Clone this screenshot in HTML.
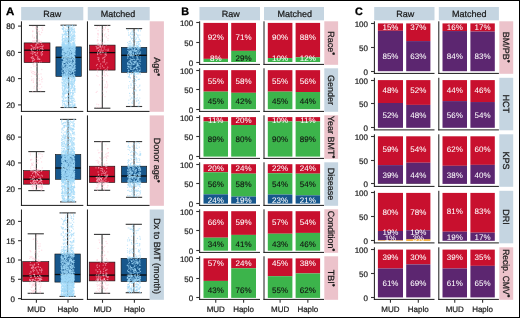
<!DOCTYPE html>
<html><head><meta charset="utf-8"><style>
html,body{margin:0;padding:0;background:#fff;}
svg{display:block;font-family:"Liberation Sans", sans-serif;will-change:transform;text-rendering:geometricPrecision;}
</style></head><body>
<svg width="520" height="318" viewBox="0 0 520 318">
<rect x="0.00" y="0.00" width="520.00" height="318.00" fill="#ffffff" />
<text x="5.90" y="14.80" font-size="10.8" text-anchor="start" fill="#000" font-weight="bold" stroke="#000" stroke-width="0.3" textLength="8.3" lengthAdjust="spacingAndGlyphs">A</text>
<text x="181.20" y="14.80" font-size="10.8" text-anchor="start" fill="#000" font-weight="bold" stroke="#000" stroke-width="0.3" >B</text>
<text x="355.00" y="14.80" font-size="10.8" text-anchor="start" fill="#000" font-weight="bold" stroke="#000" stroke-width="0.3" >C</text>
<rect x="21.15" y="7.00" width="62.15" height="13.30" fill="#c5d5e1" />
<rect x="87.75" y="7.00" width="61.95" height="13.30" fill="#c5d5e1" />
<text x="52.22" y="17.20" font-size="9" text-anchor="middle" fill="#1a1a1a" font-weight="normal" stroke="#1a1a1a" stroke-width="0.22" >Raw</text>
<text x="118.12" y="17.20" font-size="9" text-anchor="middle" fill="#1a1a1a" font-weight="normal" stroke="#1a1a1a" stroke-width="0.22" >Matched</text>
<line x1="21.45" y1="21.30" x2="21.45" y2="111.90" stroke="#1a1a1a" stroke-width="1.0" />
<line x1="18.05" y1="26.10" x2="21.45" y2="26.10" stroke="#333333" stroke-width="1.1" />
<text x="15.05" y="29.20" font-size="8" text-anchor="end" fill="#222" font-weight="normal" stroke="#222" stroke-width="0.22" >80</text>
<line x1="18.05" y1="52.40" x2="21.45" y2="52.40" stroke="#333333" stroke-width="1.1" />
<text x="15.05" y="55.50" font-size="8" text-anchor="end" fill="#222" font-weight="normal" stroke="#222" stroke-width="0.22" >60</text>
<line x1="18.05" y1="78.60" x2="21.45" y2="78.60" stroke="#333333" stroke-width="1.1" />
<text x="15.05" y="81.70" font-size="8" text-anchor="end" fill="#222" font-weight="normal" stroke="#222" stroke-width="0.22" >40</text>
<line x1="18.05" y1="104.90" x2="21.45" y2="104.90" stroke="#333333" stroke-width="1.1" />
<text x="15.05" y="108.00" font-size="8" text-anchor="end" fill="#222" font-weight="normal" stroke="#222" stroke-width="0.22" >20</text>
<line x1="87.45" y1="21.30" x2="87.45" y2="111.90" stroke="#1a1a1a" stroke-width="1.0" />
<line x1="20.95" y1="111.40" x2="83.30" y2="111.40" stroke="#1a1a1a" stroke-width="1.0" />
<line x1="86.95" y1="111.40" x2="149.70" y2="111.40" stroke="#1a1a1a" stroke-width="1.0" />
<line x1="37.05" y1="25.40" x2="37.05" y2="91.60" stroke="#363636" stroke-width="1.1" />
<line x1="28.95" y1="25.40" x2="45.15" y2="25.40" stroke="#363636" stroke-width="1.1" />
<line x1="28.95" y1="91.60" x2="45.15" y2="91.60" stroke="#363636" stroke-width="1.1" />
<rect x="24.10" y="42.90" width="25.90" height="19.70" fill="#c8102e" stroke="#111" stroke-width="0.6"/>
<line x1="24.10" y1="50.20" x2="50.00" y2="50.20" stroke="#0a0a0a" stroke-width="1.3" />
<line x1="68.60" y1="25.20" x2="68.60" y2="107.50" stroke="#363636" stroke-width="1.1" />
<line x1="60.50" y1="25.20" x2="76.70" y2="25.20" stroke="#363636" stroke-width="1.1" />
<line x1="60.50" y1="107.50" x2="76.70" y2="107.50" stroke="#363636" stroke-width="1.1" />
<rect x="55.90" y="46.90" width="25.40" height="29.50" fill="#17578c" stroke="#111" stroke-width="0.6"/>
<line x1="55.90" y1="57.40" x2="81.30" y2="57.40" stroke="#0a0a0a" stroke-width="1.3" />
<path d="M32.7 58.9h.01M41.1 53.9h.01M34.7 72.4h.01M38.1 59.4h.01M36.9 42.9h.01M39.1 31.5h.01M31.6 72.5h.01M35.3 54.4h.01M37.9 56.7h.01M38.7 74.3h.01M41.7 86.8h.01M35.1 74.5h.01M34.1 38.3h.01M37.3 63.1h.01M33.7 63.4h.01M33.1 51.3h.01M39.0 40.6h.01M33.8 60.5h.01M37.4 50.2h.01M37.3 58.8h.01M37.1 46.9h.01M32.6 31.6h.01M41.8 69.5h.01M39.8 59.2h.01M34.1 74.1h.01M31.6 76.3h.01M35.1 52.5h.01M34.6 59.5h.01M42.4 51.5h.01" stroke="#ffc4d3" stroke-opacity="0.6" stroke-width="1.3" stroke-linecap="round" fill="none"/>
<path d="M31.7 45.8h.01M33.6 71.7h.01M38.1 41.1h.01M34.6 52.5h.01M39.1 84.3h.01M39.5 80.7h.01M33.9 42.7h.01M32.7 36.8h.01M37.2 30.6h.01M31.7 80.4h.01M32.7 46.9h.01M41.1 61.9h.01M32.9 56.8h.01M31.2 57.4h.01M33.4 64.7h.01M40.8 42.2h.01M37.7 57.6h.01M34.1 47.7h.01M31.1 49.5h.01M40.6 48.6h.01M39.4 49.8h.01M36.3 71.9h.01M42.7 29.1h.01M37.7 87.9h.01M40.5 84.2h.01M36.1 44.7h.01M42.3 48.7h.01M37.1 42.8h.01M41.0 73.9h.01" stroke="#ffc4d3" stroke-opacity="0.6" stroke-width="1.3" stroke-linecap="round" fill="none"/>
<path d="M35.4 49.2h.01M42.6 46.5h.01M35.5 46.1h.01M33.9 42.0h.01M41.7 42.8h.01M43.2 45.9h.01M41.7 55.6h.01M33.7 66.2h.01M39.2 46.8h.01M32.9 64.0h.01M35.2 62.5h.01M31.1 67.6h.01M40.5 42.6h.01M34.3 86.3h.01M42.0 46.6h.01M35.8 28.6h.01M31.0 70.8h.01M32.5 54.2h.01M33.1 53.2h.01M37.8 73.9h.01M37.5 52.6h.01M33.8 78.8h.01M36.9 55.2h.01M31.1 53.2h.01M32.5 61.6h.01M42.5 78.8h.01M32.5 61.7h.01M35.2 66.1h.01" stroke="#ffc4d3" stroke-opacity="0.6" stroke-width="1.3" stroke-linecap="round" fill="none"/>
<path d="M37.1 81.1h.01M35.8 47.9h.01M31.6 48.8h.01M37.4 48.0h.01M39.5 59.4h.01M35.6 40.8h.01M36.4 77.6h.01M36.9 62.9h.01M42.0 81.8h.01M31.5 58.1h.01M32.4 56.9h.01M32.7 30.8h.01M33.6 58.6h.01M39.4 62.1h.01M38.9 39.8h.01M33.0 31.2h.01M37.4 28.7h.01M36.5 34.7h.01M40.8 90.8h.01M34.3 62.6h.01M42.5 51.3h.01M39.2 78.7h.01M32.9 26.6h.01M38.6 58.6h.01M42.2 54.1h.01M40.8 46.3h.01M33.8 49.4h.01M34.0 88.1h.01" stroke="#ffc4d3" stroke-opacity="0.6" stroke-width="1.3" stroke-linecap="round" fill="none"/>
<path d="M36.2 84.6h.01M41.5 28.1h.01M33.4 80.9h.01M34.4 37.5h.01M38.0 47.4h.01M31.1 45.3h.01M41.8 48.8h.01M34.1 47.6h.01M40.7 42.4h.01M32.7 91.6h.01M36.6 39.3h.01M31.2 48.9h.01M41.4 41.3h.01M42.5 30.3h.01M39.0 41.8h.01M32.7 71.3h.01M41.7 32.5h.01M42.1 47.8h.01M36.7 66.6h.01M37.8 42.6h.01M41.7 44.4h.01M32.8 42.3h.01M37.2 53.6h.01M31.6 49.8h.01M32.7 40.9h.01M41.5 77.1h.01M32.9 73.5h.01M39.9 88.6h.01" stroke="#ffc4d3" stroke-opacity="0.6" stroke-width="1.3" stroke-linecap="round" fill="none"/>
<path d="M32.0 79.2h.01M32.6 60.6h.01M36.2 44.9h.01M36.0 27.7h.01M41.3 52.4h.01M32.9 52.1h.01M34.3 40.9h.01M36.0 90.8h.01M35.8 55.5h.01M35.4 74.6h.01M31.9 51.0h.01M43.0 49.4h.01M40.0 41.5h.01M35.4 26.8h.01M40.2 34.7h.01M32.7 35.1h.01M34.0 40.6h.01M42.2 54.1h.01M37.8 43.6h.01M36.3 42.8h.01M37.8 31.7h.01M39.0 43.9h.01M33.3 58.2h.01M42.9 27.1h.01M39.5 33.9h.01M41.5 79.7h.01M33.4 82.4h.01M33.2 48.7h.01" stroke="#ffc4d3" stroke-opacity="0.6" stroke-width="1.3" stroke-linecap="round" fill="none"/>
<path d="M68.5 62.6h.01M63.7 98.5h.01M64.1 60.5h.01M68.6 59.3h.01M69.0 53.8h.01M72.7 47.6h.01M66.8 87.1h.01M70.7 55.9h.01M71.0 59.0h.01M70.9 75.0h.01M68.1 34.9h.01M73.7 57.0h.01M73.1 71.4h.01M66.8 53.7h.01M74.6 67.0h.01M74.2 99.3h.01M64.2 65.4h.01M65.2 92.9h.01M68.6 30.4h.01M71.4 102.0h.01M74.4 49.8h.01M65.3 87.8h.01M68.1 72.5h.01M67.5 50.1h.01M74.8 79.2h.01M74.5 50.5h.01M66.3 25.6h.01M66.6 74.1h.01M66.8 80.3h.01M65.5 31.9h.01M65.3 32.5h.01M64.6 46.5h.01M71.4 57.5h.01M71.7 67.1h.01M75.1 45.7h.01M73.4 67.1h.01M69.9 76.0h.01M67.2 91.4h.01M67.5 68.3h.01M64.1 60.4h.01M74.2 56.5h.01M72.9 52.3h.01M65.3 88.4h.01M67.5 72.1h.01M64.4 46.6h.01M72.3 47.6h.01M74.6 58.0h.01M65.5 36.9h.01M69.0 89.5h.01M66.8 54.2h.01M64.0 101.8h.01M66.7 90.7h.01M70.4 92.2h.01M65.3 47.6h.01M68.7 52.9h.01M68.1 47.1h.01M65.5 48.5h.01M71.8 76.9h.01M73.3 49.1h.01M74.3 90.7h.01M72.8 67.8h.01M65.8 44.9h.01M74.7 71.0h.01M72.8 42.5h.01M73.0 69.0h.01M72.4 49.1h.01M67.0 57.4h.01M67.8 82.8h.01M66.3 76.4h.01M64.6 62.3h.01M70.0 86.0h.01M70.5 43.3h.01M70.2 60.8h.01M63.3 34.3h.01M72.1 65.6h.01M65.5 68.6h.01M65.0 54.8h.01M67.0 75.1h.01M70.7 51.6h.01M65.3 50.8h.01M73.8 50.3h.01M62.8 57.9h.01M73.1 50.5h.01M68.4 57.0h.01M69.3 63.3h.01M69.7 72.7h.01M70.7 52.8h.01M64.4 46.8h.01M70.5 62.7h.01M68.3 34.7h.01M73.5 93.3h.01M63.1 47.8h.01M66.1 45.3h.01M70.5 67.8h.01M70.0 70.2h.01M67.6 75.4h.01M63.1 69.0h.01M68.1 46.9h.01M71.3 81.6h.01M69.9 84.3h.01M74.7 46.8h.01M69.9 38.0h.01M64.9 30.7h.01M70.9 46.9h.01M62.2 49.9h.01M70.3 35.8h.01M67.4 41.8h.01M64.8 50.3h.01M71.6 98.0h.01M74.0 62.3h.01M64.7 74.6h.01M73.1 69.9h.01M68.9 106.7h.01M68.8 32.4h.01M64.6 49.0h.01M65.7 57.4h.01M73.1 63.4h.01M68.8 43.6h.01M74.8 86.3h.01M65.3 36.3h.01M69.0 60.0h.01M69.5 52.8h.01M67.1 56.9h.01M62.9 84.0h.01M66.7 69.8h.01M73.5 87.9h.01M71.5 60.6h.01M69.6 85.6h.01M68.6 54.7h.01M68.9 50.0h.01M69.0 69.3h.01M65.8 84.3h.01M72.4 64.1h.01M69.0 51.2h.01M62.2 97.2h.01M73.8 98.4h.01M74.7 53.1h.01M64.3 76.6h.01M65.2 44.9h.01M67.9 44.4h.01M63.7 61.0h.01M65.6 55.6h.01M69.4 90.4h.01M73.7 38.1h.01M70.3 43.7h.01M66.1 100.9h.01M62.6 46.7h.01M72.9 47.0h.01M68.8 62.8h.01M67.4 68.2h.01M66.0 68.7h.01M63.5 46.8h.01M66.8 59.8h.01M69.2 80.6h.01M64.5 44.1h.01M66.9 55.3h.01M63.1 54.0h.01M72.4 44.0h.01M67.8 72.9h.01M70.9 45.6h.01M67.9 49.9h.01M63.5 40.1h.01M63.1 53.7h.01M64.3 44.7h.01M71.3 72.6h.01M72.9 49.8h.01M74.2 89.8h.01M71.1 73.4h.01M64.4 46.0h.01M62.6 39.7h.01M75.0 60.5h.01M69.4 26.5h.01M68.7 46.8h.01M65.1 76.6h.01M66.1 72.5h.01M73.5 62.9h.01M70.0 79.6h.01M73.6 55.8h.01M62.6 63.9h.01M70.1 98.2h.01M69.3 53.7h.01M68.9 74.3h.01M62.8 87.0h.01M75.0 46.6h.01M73.4 64.9h.01M72.0 79.4h.01M73.8 58.5h.01M73.4 42.4h.01M63.2 49.7h.01M63.4 62.7h.01M71.7 85.3h.01M62.9 75.3h.01M75.0 49.4h.01M70.1 36.1h.01M66.2 55.3h.01M70.1 56.3h.01M68.3 56.5h.01M73.5 44.8h.01M67.2 93.3h.01M67.0 69.6h.01M70.4 92.9h.01M72.7 51.2h.01M72.0 95.9h.01M68.5 40.1h.01M63.0 77.9h.01M75.2 53.9h.01M68.7 42.8h.01M68.5 60.1h.01M65.6 70.8h.01M69.9 42.5h.01M74.1 85.5h.01M71.2 98.1h.01M72.6 84.8h.01M63.5 49.9h.01M69.1 42.4h.01M62.7 50.8h.01M72.4 55.2h.01M64.2 50.5h.01M63.6 55.9h.01M73.8 41.8h.01M67.2 102.3h.01M70.2 28.1h.01M65.2 93.3h.01M68.6 58.9h.01M71.8 30.7h.01M74.5 31.5h.01M71.4 49.6h.01M62.1 44.3h.01M65.9 43.8h.01M65.6 81.2h.01M69.0 83.6h.01M70.8 35.8h.01M66.8 38.3h.01M74.6 86.6h.01M74.9 63.4h.01M63.8 46.2h.01M66.1 31.3h.01M73.0 38.1h.01M65.8 37.2h.01M67.4 46.9h.01M72.6 65.6h.01M73.2 57.3h.01M73.9 57.4h.01M72.9 53.1h.01M62.0 70.7h.01M66.5 52.0h.01M62.8 63.2h.01M75.0 70.4h.01M64.6 73.9h.01M74.5 47.0h.01M70.3 83.4h.01M75.1 59.6h.01M74.5 48.6h.01M68.1 44.7h.01M63.4 38.5h.01M68.2 98.6h.01M75.0 76.8h.01M74.3 76.7h.01M64.5 48.6h.01M72.6 53.4h.01M70.6 88.6h.01M66.0 67.5h.01M70.1 64.4h.01M74.4 81.7h.01M75.1 46.8h.01M63.4 56.1h.01M74.8 49.4h.01M71.1 49.6h.01M69.9 50.8h.01M65.6 49.5h.01M72.9 102.3h.01M63.9 81.6h.01M71.5 67.8h.01M64.6 46.8h.01M63.5 62.1h.01M68.2 68.0h.01M73.4 82.6h.01M66.8 50.6h.01M65.1 55.8h.01M73.9 53.3h.01M74.5 105.3h.01M65.0 60.7h.01M68.0 75.8h.01M65.1 40.4h.01M62.2 37.5h.01M69.7 50.8h.01M70.9 56.4h.01M64.4 51.2h.01M72.1 50.5h.01M66.7 34.1h.01M70.4 51.4h.01M69.1 104.9h.01M63.5 27.4h.01M63.2 83.6h.01M71.1 84.6h.01M70.8 92.6h.01M62.4 48.0h.01M65.0 84.1h.01M64.0 56.8h.01M62.9 90.7h.01M70.2 36.0h.01M71.9 96.3h.01M73.0 56.1h.01M74.6 38.6h.01M65.3 69.6h.01M69.6 45.1h.01M63.5 66.7h.01M70.7 45.5h.01M70.9 34.6h.01M66.3 91.6h.01M70.3 32.4h.01M73.6 63.8h.01M63.2 62.8h.01M74.3 48.6h.01M72.5 25.2h.01M68.7 39.0h.01M63.2 59.8h.01M69.7 79.5h.01M72.5 96.1h.01M66.0 52.4h.01M74.5 58.4h.01M66.6 63.1h.01M67.7 64.9h.01M67.3 33.7h.01M68.3 35.7h.01M72.8 70.1h.01M71.5 47.6h.01M69.9 41.7h.01M74.8 50.2h.01M66.6 84.8h.01M74.5 65.3h.01M70.8 46.1h.01M72.8 46.3h.01M72.0 46.9h.01" stroke="#9fd8f8" stroke-opacity="0.7" stroke-width="1.2" stroke-linecap="round" fill="none"/>
<path d="M68.7 44.4h.01M71.8 95.9h.01M65.5 61.5h.01M68.7 79.6h.01M71.5 46.9h.01M68.9 86.3h.01M73.0 90.9h.01M71.7 96.6h.01M70.5 46.8h.01M70.9 49.3h.01M67.9 45.2h.01M65.1 48.9h.01M71.9 107.2h.01M65.6 62.9h.01M70.3 40.6h.01M68.2 87.9h.01M64.7 83.6h.01M69.5 75.8h.01M73.4 52.0h.01M69.8 39.5h.01M70.5 48.1h.01M71.2 51.7h.01M73.7 31.7h.01M70.8 75.8h.01M72.8 71.7h.01M67.2 85.5h.01M74.4 81.1h.01M74.7 32.2h.01M67.4 39.4h.01M66.2 48.3h.01M68.5 62.7h.01M62.9 46.9h.01M65.1 61.4h.01M65.3 79.7h.01M68.3 91.3h.01M65.4 61.3h.01M64.7 51.0h.01M70.4 55.3h.01M66.8 42.4h.01M69.3 104.9h.01M68.5 90.4h.01M72.4 83.8h.01M73.8 48.0h.01M67.6 53.9h.01M63.4 59.4h.01M62.7 56.9h.01M72.4 37.3h.01M66.2 57.1h.01M66.7 51.7h.01M64.3 46.8h.01M67.7 52.5h.01M69.7 77.7h.01M67.3 41.8h.01M69.0 38.7h.01M72.7 51.5h.01M68.0 47.2h.01M67.8 55.1h.01M66.3 33.7h.01M71.6 62.2h.01M63.9 69.2h.01M62.9 45.2h.01M63.3 91.6h.01M73.2 57.2h.01M62.0 82.7h.01M74.5 75.6h.01M66.7 52.0h.01M68.1 40.7h.01M63.7 46.7h.01M64.1 56.5h.01M63.4 51.6h.01M71.8 64.6h.01M66.1 60.9h.01M70.9 64.3h.01M69.1 54.3h.01M75.0 88.5h.01M71.8 77.7h.01M70.4 31.0h.01M67.6 76.1h.01M74.3 67.9h.01M63.9 91.4h.01M64.6 46.4h.01M63.9 59.9h.01M67.5 66.9h.01M71.5 39.3h.01M72.9 44.9h.01M72.4 51.7h.01M70.1 46.4h.01M72.2 101.3h.01M69.5 35.2h.01M63.3 64.1h.01M62.2 87.7h.01M71.4 52.0h.01M64.2 47.8h.01M67.5 52.0h.01M69.9 28.9h.01M72.8 53.8h.01M72.5 55.1h.01M72.6 93.4h.01M69.5 67.8h.01M68.9 69.2h.01M62.5 76.1h.01M63.6 65.2h.01M65.4 101.0h.01M69.8 72.7h.01M64.6 48.3h.01M66.5 61.0h.01M65.6 84.3h.01M65.8 59.1h.01M74.9 73.1h.01M69.5 78.1h.01M71.3 52.7h.01M62.2 42.3h.01M68.8 61.5h.01M69.1 56.1h.01M69.9 104.5h.01M67.4 88.6h.01M67.2 56.3h.01M65.3 31.9h.01M70.4 46.7h.01M67.7 56.5h.01M63.6 85.2h.01M64.7 51.1h.01M62.2 53.8h.01M62.8 41.8h.01M70.1 50.0h.01M72.1 106.7h.01M67.2 73.1h.01M63.2 54.0h.01M69.1 36.8h.01M66.9 91.8h.01M66.2 45.4h.01M68.7 56.9h.01M71.1 72.1h.01M67.4 25.7h.01M71.4 46.8h.01M74.7 53.9h.01M74.5 57.7h.01M64.5 68.2h.01M65.7 80.5h.01M64.1 44.3h.01M65.4 48.7h.01M70.7 46.7h.01M68.6 67.9h.01M65.7 42.6h.01M63.5 81.5h.01M64.4 51.6h.01M62.6 43.1h.01M63.2 74.0h.01M72.1 35.9h.01M66.1 79.5h.01M69.4 40.6h.01M66.8 73.4h.01M62.9 82.9h.01M74.1 106.1h.01M73.2 51.6h.01M62.5 44.6h.01M64.2 49.5h.01M65.7 63.1h.01M66.6 54.7h.01M65.9 52.8h.01M70.7 93.8h.01M63.3 42.5h.01M63.0 64.4h.01M72.2 31.6h.01M73.7 63.0h.01M66.9 88.5h.01M65.4 50.0h.01M63.9 66.5h.01M67.2 45.3h.01M66.8 82.7h.01M63.9 99.9h.01M72.2 46.7h.01M66.6 51.7h.01M63.8 68.9h.01M69.3 47.9h.01M68.4 96.4h.01M64.6 42.4h.01M74.2 51.5h.01M66.4 52.1h.01M66.3 48.0h.01M69.9 50.8h.01M62.1 34.2h.01M69.3 57.3h.01M70.4 57.5h.01M69.4 97.6h.01M65.9 51.4h.01M71.0 83.7h.01M62.3 26.1h.01M74.1 69.6h.01M75.1 104.1h.01M63.5 57.4h.01M68.7 100.2h.01M67.3 41.6h.01M65.2 66.8h.01M71.8 29.8h.01M66.3 50.0h.01M63.9 77.9h.01M67.0 100.2h.01M67.9 25.7h.01M64.7 104.5h.01M67.6 42.8h.01M67.1 68.6h.01M68.9 66.6h.01M72.9 56.9h.01M63.2 45.3h.01M63.9 45.3h.01M62.7 63.5h.01M66.8 53.9h.01M71.4 46.2h.01M74.2 81.6h.01M63.3 79.1h.01M73.0 100.5h.01M62.4 28.5h.01M74.2 44.8h.01M63.8 93.3h.01M67.9 70.1h.01M68.1 53.4h.01M74.4 82.7h.01M64.2 59.8h.01M74.5 104.9h.01M65.9 56.6h.01M72.8 49.3h.01M71.0 47.6h.01M71.9 46.6h.01M72.9 86.9h.01M74.8 89.4h.01M72.3 65.6h.01M62.2 58.2h.01M65.6 93.3h.01M65.0 31.9h.01M64.3 107.4h.01M70.2 95.1h.01M73.0 29.1h.01M69.8 40.0h.01M72.6 51.2h.01M73.6 56.7h.01M66.2 33.9h.01M72.3 51.6h.01M65.4 51.9h.01M66.1 45.7h.01M64.5 68.8h.01M69.6 50.4h.01M72.8 39.2h.01M64.8 74.6h.01M63.8 52.0h.01M69.5 70.2h.01M71.6 51.9h.01M68.3 95.8h.01M68.8 47.5h.01M71.5 36.9h.01M62.6 26.7h.01M68.3 37.8h.01M71.7 28.4h.01M73.7 100.2h.01M63.7 53.6h.01M70.9 65.0h.01M67.2 77.4h.01M70.9 78.0h.01M68.8 45.8h.01M62.7 94.9h.01M67.7 79.0h.01M70.0 46.8h.01M74.1 51.2h.01M71.3 61.8h.01M65.3 46.9h.01M70.3 44.9h.01M64.8 93.1h.01M71.9 47.1h.01M66.0 49.2h.01M63.3 46.8h.01M73.3 77.6h.01M75.0 92.0h.01M72.4 86.5h.01M67.1 78.1h.01M71.4 60.4h.01M62.9 34.8h.01M63.1 78.6h.01M75.0 88.9h.01M70.0 57.5h.01M64.9 94.2h.01M68.3 77.1h.01M67.4 31.4h.01M71.4 54.8h.01M69.7 83.0h.01M65.8 73.4h.01M74.7 46.0h.01M71.8 95.5h.01M65.1 31.8h.01M64.9 87.8h.01M67.8 48.8h.01M74.8 48.8h.01M65.6 47.9h.01M64.0 35.1h.01M71.2 52.2h.01M71.5 66.1h.01M63.8 54.7h.01M64.9 48.0h.01M71.5 46.7h.01M68.1 35.4h.01M68.4 66.0h.01M68.0 90.9h.01M63.1 46.8h.01M64.3 82.8h.01M65.8 53.0h.01M68.2 76.0h.01M72.1 105.7h.01M74.0 77.5h.01M73.1 66.5h.01M62.6 51.0h.01M72.5 103.1h.01M73.9 39.6h.01M64.7 50.4h.01M72.8 56.4h.01M66.0 79.5h.01M74.0 81.3h.01M63.9 35.3h.01M66.5 106.5h.01M71.9 48.1h.01M63.9 49.9h.01M64.9 83.6h.01M64.6 59.6h.01M67.2 49.4h.01M69.3 72.7h.01M63.5 81.4h.01M67.1 70.1h.01M71.1 83.8h.01M69.3 38.0h.01M62.7 29.0h.01M74.9 68.0h.01M62.8 47.4h.01M69.4 42.7h.01M71.6 54.5h.01M66.2 26.8h.01M74.0 54.3h.01" stroke="#9fd8f8" stroke-opacity="0.7" stroke-width="1.2" stroke-linecap="round" fill="none"/>
<path d="M75.0 49.5h.01M64.2 76.0h.01M69.2 31.3h.01M65.5 106.6h.01M66.3 41.1h.01M73.0 57.2h.01M70.3 54.9h.01M63.0 76.2h.01M63.9 94.9h.01M68.8 73.3h.01M64.8 75.0h.01M62.3 39.3h.01M74.2 44.1h.01M63.3 99.4h.01M69.2 37.6h.01M65.9 69.3h.01M64.9 38.5h.01M67.4 40.4h.01M65.6 78.3h.01M67.2 107.5h.01M69.3 46.8h.01M62.9 89.9h.01M65.1 59.3h.01M62.5 36.2h.01M64.9 77.3h.01M74.9 78.5h.01M62.4 47.1h.01M66.7 79.0h.01M62.5 45.6h.01M62.0 74.5h.01M72.6 35.9h.01M69.3 101.8h.01M70.2 63.7h.01M64.0 76.5h.01M74.1 45.2h.01M63.4 46.6h.01M66.3 105.5h.01M64.2 92.9h.01M71.6 79.9h.01M74.0 51.5h.01M64.6 45.9h.01M67.3 77.8h.01M69.4 100.6h.01M67.9 50.7h.01M67.7 87.7h.01M67.0 57.2h.01M66.6 35.6h.01M64.4 101.3h.01M69.7 41.7h.01M62.6 47.2h.01M73.8 56.9h.01M64.7 53.7h.01M62.2 75.3h.01M65.1 64.5h.01M66.1 82.2h.01M63.4 77.6h.01M65.5 46.4h.01M65.2 41.0h.01M66.1 54.4h.01M62.5 102.6h.01M74.5 42.1h.01M66.2 46.9h.01M62.4 52.4h.01M72.1 79.5h.01M64.8 73.8h.01M67.2 64.9h.01M72.0 56.1h.01M73.7 60.3h.01M64.5 70.5h.01M67.1 79.1h.01M69.6 38.2h.01M63.3 52.0h.01M70.6 35.6h.01M68.8 48.3h.01M62.7 68.4h.01M64.9 34.4h.01M68.2 45.3h.01M62.0 81.0h.01M72.9 43.1h.01M72.2 77.1h.01M69.0 49.3h.01M68.6 58.1h.01M70.4 31.5h.01M66.5 52.1h.01M68.6 64.7h.01M71.5 100.8h.01M70.3 52.5h.01M66.9 37.6h.01M63.6 100.9h.01M64.8 51.3h.01M65.2 48.2h.01M74.3 60.4h.01M62.8 42.6h.01M72.4 66.1h.01M67.7 71.9h.01M73.0 40.3h.01M71.9 79.6h.01M69.7 46.7h.01M68.8 64.8h.01M62.4 104.0h.01M64.4 79.6h.01M69.5 31.7h.01M73.9 68.6h.01M66.3 46.9h.01M74.2 101.4h.01M70.3 45.0h.01M64.2 44.1h.01M64.7 75.8h.01M72.7 104.7h.01M64.4 86.5h.01M64.7 45.6h.01M73.5 38.0h.01M71.4 88.7h.01M74.8 104.0h.01M68.9 54.2h.01M69.8 86.6h.01M66.5 34.2h.01M70.4 63.3h.01M73.7 45.7h.01M66.0 32.9h.01M65.9 87.4h.01M68.1 48.6h.01M73.4 68.6h.01M67.8 65.9h.01M68.8 43.4h.01M68.6 53.8h.01M67.1 55.1h.01M73.1 36.8h.01M68.8 25.5h.01M69.4 64.9h.01M68.8 28.8h.01M64.4 80.8h.01M66.0 106.8h.01M64.1 88.6h.01M64.2 68.5h.01M70.2 62.0h.01M67.1 76.6h.01M69.4 29.9h.01M62.5 76.9h.01M71.5 68.6h.01M66.9 39.1h.01M66.1 54.6h.01M62.9 72.8h.01M71.0 102.5h.01M71.4 37.7h.01M71.5 44.1h.01M63.5 76.6h.01M74.3 33.5h.01M71.3 100.2h.01M71.3 86.7h.01M72.8 70.0h.01M62.8 79.1h.01M75.1 105.6h.01M70.3 51.3h.01M72.4 36.1h.01M70.3 54.6h.01M74.8 61.7h.01M68.8 50.6h.01M63.1 80.1h.01M74.6 54.4h.01M69.7 67.1h.01M65.3 56.1h.01M73.4 62.0h.01M72.2 86.7h.01M73.5 52.3h.01M74.5 47.4h.01M67.9 80.3h.01M71.1 41.4h.01M64.1 59.2h.01M69.6 59.9h.01M65.6 50.2h.01M70.4 51.8h.01M67.4 55.3h.01M73.5 106.2h.01M74.2 34.7h.01M65.4 39.2h.01M74.7 47.6h.01M66.3 78.6h.01M69.9 57.8h.01M64.1 92.5h.01M71.8 70.3h.01M70.7 59.2h.01M74.4 81.4h.01M72.6 69.2h.01M74.1 64.2h.01M69.5 26.2h.01M68.0 53.3h.01M74.9 90.0h.01M73.6 48.3h.01M73.6 71.3h.01M68.6 68.5h.01M69.3 64.4h.01M67.5 71.2h.01M63.5 79.8h.01M69.8 43.2h.01M69.2 52.0h.01M68.9 36.0h.01M63.6 44.6h.01M72.5 59.0h.01M62.8 54.4h.01M66.9 46.3h.01M74.2 54.1h.01M73.9 57.7h.01M71.8 50.2h.01M62.7 46.9h.01M68.8 70.0h.01M73.4 72.3h.01M74.1 46.0h.01M68.0 45.9h.01M72.6 54.8h.01M72.4 92.3h.01M65.1 73.1h.01M70.5 66.5h.01M68.9 25.9h.01M73.8 74.8h.01M71.8 76.5h.01M68.8 101.8h.01M73.1 70.2h.01M68.7 55.9h.01M72.4 58.3h.01M69.6 40.0h.01M72.7 69.4h.01M66.5 84.9h.01M64.6 51.7h.01M71.8 34.7h.01M73.1 46.4h.01M74.4 46.2h.01M72.7 90.1h.01M67.8 49.0h.01M73.8 40.1h.01M72.7 33.7h.01M74.6 61.6h.01M69.4 49.7h.01M62.6 54.2h.01M67.0 50.0h.01M71.7 83.6h.01M63.4 62.1h.01M64.0 71.5h.01M72.9 46.7h.01M74.8 51.3h.01M68.9 41.8h.01M69.6 64.7h.01M73.6 51.1h.01M63.2 77.7h.01M62.8 74.5h.01M72.5 78.2h.01M67.3 53.8h.01M68.0 87.0h.01M64.6 62.1h.01M64.7 97.2h.01M66.7 82.1h.01M63.4 45.1h.01M72.7 66.2h.01M62.9 56.0h.01M68.0 79.7h.01M65.2 48.4h.01M70.4 46.4h.01M74.1 35.6h.01M72.4 90.8h.01M65.8 55.5h.01M74.9 90.2h.01M62.1 28.8h.01M72.5 47.6h.01M66.0 76.2h.01M62.3 64.1h.01M69.1 67.5h.01M74.0 73.6h.01M65.4 76.4h.01M62.9 97.0h.01M67.4 72.4h.01M65.7 45.9h.01M70.6 66.3h.01M66.8 76.3h.01M70.5 67.6h.01M63.6 92.5h.01M71.8 77.8h.01M74.2 75.2h.01M64.4 58.8h.01M63.9 51.1h.01M67.8 101.4h.01M74.5 56.9h.01M70.8 69.3h.01M65.2 86.5h.01M67.4 61.0h.01M67.5 30.6h.01M63.0 80.4h.01M68.2 52.2h.01M74.6 62.7h.01M65.5 78.4h.01M68.4 82.1h.01M72.1 80.0h.01M62.1 96.0h.01M68.9 69.9h.01M72.5 75.4h.01M72.5 77.3h.01M69.7 80.4h.01M70.4 73.3h.01M66.1 31.8h.01M63.6 79.9h.01M70.8 76.2h.01M65.7 51.7h.01M63.2 65.5h.01M66.5 46.8h.01M71.5 60.0h.01M73.3 26.8h.01M73.9 52.9h.01M70.4 64.2h.01M69.1 87.1h.01M68.0 41.9h.01M62.9 77.5h.01M66.1 47.6h.01M66.8 67.9h.01M64.9 46.4h.01M71.7 70.4h.01M72.0 55.2h.01M72.6 51.9h.01M71.9 48.3h.01M71.4 48.5h.01M70.4 60.4h.01M64.5 93.8h.01M63.9 53.5h.01M73.4 84.7h.01M71.7 50.6h.01M62.4 39.3h.01M72.4 52.8h.01M64.5 103.8h.01M74.2 36.6h.01M62.3 88.3h.01M67.2 62.4h.01M71.0 56.1h.01M64.3 85.9h.01M74.7 64.3h.01M70.1 46.9h.01" stroke="#9fd8f8" stroke-opacity="0.7" stroke-width="1.2" stroke-linecap="round" fill="none"/>
<path d="M73.0 69.4h.01M73.1 93.9h.01M74.7 76.6h.01M67.3 93.1h.01M71.6 27.8h.01M69.7 45.9h.01M71.0 52.1h.01M71.6 75.2h.01M71.8 76.1h.01M68.2 60.1h.01M69.7 33.6h.01M68.5 106.9h.01M73.9 48.5h.01M74.3 44.4h.01M62.7 48.2h.01M74.9 47.4h.01M67.9 38.4h.01M68.9 63.9h.01M67.3 76.4h.01M73.3 36.0h.01M72.3 100.8h.01M69.7 56.4h.01M74.7 76.5h.01M67.6 69.7h.01M74.6 46.9h.01M62.7 86.0h.01M67.0 50.5h.01M67.7 45.1h.01M62.8 101.6h.01M70.4 46.9h.01M72.9 47.4h.01M74.9 70.6h.01M71.9 50.1h.01M66.3 40.7h.01M65.9 100.7h.01M70.2 53.4h.01M64.4 49.9h.01M67.4 49.2h.01M62.1 79.3h.01M70.2 93.2h.01M74.4 88.0h.01M64.4 43.7h.01M73.1 46.9h.01M62.3 62.1h.01M67.8 92.8h.01M73.3 32.9h.01M73.8 46.9h.01M74.4 83.7h.01M75.1 40.8h.01M70.4 45.2h.01M65.0 87.3h.01M68.3 52.2h.01M69.4 51.3h.01M72.3 97.8h.01M62.6 72.6h.01M62.5 77.2h.01M74.7 51.4h.01M71.1 38.3h.01M70.2 78.6h.01M70.4 49.3h.01M64.7 90.6h.01M62.3 63.2h.01M67.8 64.0h.01M68.5 28.9h.01M68.6 49.0h.01M73.7 40.1h.01M66.6 46.9h.01M64.5 76.8h.01M63.3 29.3h.01M67.3 101.8h.01M67.6 46.9h.01M72.3 63.5h.01M68.5 46.6h.01M72.9 51.6h.01M67.3 74.5h.01M64.8 46.0h.01M69.2 73.0h.01M65.7 48.1h.01M63.9 38.5h.01M64.0 69.1h.01M67.8 47.2h.01M73.4 55.7h.01M62.4 51.7h.01M68.3 42.6h.01M68.7 74.8h.01M62.7 40.5h.01M69.9 49.2h.01M69.4 45.1h.01M74.1 45.6h.01M62.2 84.8h.01M64.5 47.6h.01M74.7 76.1h.01M69.6 67.5h.01M69.5 33.7h.01M71.0 40.3h.01M69.5 45.6h.01M70.0 35.4h.01M68.9 39.4h.01M62.6 85.1h.01M68.4 26.8h.01M62.7 94.0h.01M74.6 51.5h.01M62.6 38.6h.01M63.6 75.9h.01M74.3 78.0h.01M64.9 85.9h.01M66.2 58.1h.01M75.1 67.7h.01M63.8 69.5h.01M64.6 46.8h.01M71.7 96.7h.01M64.5 75.2h.01M66.2 45.4h.01M64.4 77.7h.01M63.4 48.9h.01M69.6 42.6h.01M66.4 76.7h.01M69.0 67.7h.01M70.5 101.7h.01M63.6 51.2h.01M65.8 64.5h.01M70.1 55.4h.01M69.3 76.8h.01M63.4 47.5h.01M71.8 47.4h.01M67.5 31.2h.01M72.4 70.9h.01M64.7 44.2h.01M67.1 49.6h.01M73.6 54.3h.01M73.8 90.1h.01M70.0 51.9h.01M70.8 44.0h.01M63.3 46.9h.01M63.3 75.1h.01M62.6 76.4h.01M64.9 48.2h.01M69.0 89.5h.01M66.5 50.5h.01M74.7 66.8h.01M70.0 76.5h.01M63.1 65.8h.01M65.0 71.7h.01M66.6 50.5h.01M62.5 100.7h.01M67.7 76.0h.01M74.1 46.3h.01M71.7 49.4h.01M69.2 45.8h.01M65.1 50.2h.01M72.0 55.4h.01M64.6 74.1h.01M71.5 46.9h.01M65.3 35.0h.01M66.3 44.7h.01M73.9 45.2h.01M62.5 93.1h.01M66.5 63.4h.01M68.1 70.8h.01M70.5 58.9h.01M69.0 63.8h.01M69.3 58.2h.01M71.4 55.3h.01M65.1 98.0h.01M74.1 54.8h.01M62.6 48.1h.01M63.5 44.2h.01M62.2 45.7h.01M73.5 43.8h.01M66.7 65.9h.01M68.6 74.6h.01M65.7 67.8h.01M66.5 97.5h.01M67.9 61.0h.01M63.1 53.9h.01M64.2 103.6h.01M63.0 53.2h.01M70.6 46.9h.01M68.1 75.9h.01M72.1 85.9h.01M71.4 75.8h.01M75.1 46.7h.01M64.0 67.6h.01M66.3 60.4h.01M65.0 33.7h.01M73.4 84.2h.01M73.7 54.1h.01M74.0 105.9h.01M65.1 28.6h.01M68.4 88.8h.01M64.8 37.0h.01M62.1 67.8h.01M67.1 29.6h.01M74.0 43.9h.01M70.3 26.1h.01M70.1 77.8h.01M72.7 56.2h.01M65.3 84.6h.01M71.0 46.9h.01M71.5 81.8h.01M67.8 100.1h.01M74.8 80.5h.01M69.8 46.9h.01M62.5 64.9h.01M71.4 49.8h.01M75.1 106.5h.01M65.4 46.0h.01M62.7 55.0h.01M73.6 35.0h.01M70.9 57.5h.01M70.7 32.9h.01M66.2 54.0h.01M69.2 77.8h.01M66.6 73.3h.01M74.2 43.7h.01M72.4 81.8h.01M70.5 92.0h.01M64.0 41.6h.01M64.6 67.5h.01M71.1 54.4h.01M69.9 77.1h.01M74.2 60.3h.01M64.6 86.2h.01M73.2 52.1h.01M69.8 44.5h.01M64.6 77.2h.01M63.1 44.9h.01M70.0 63.6h.01M72.7 50.6h.01M68.6 65.4h.01M66.7 76.3h.01M70.7 67.9h.01M71.9 61.4h.01M71.9 65.6h.01M71.1 31.1h.01M66.1 82.6h.01M67.2 75.6h.01M69.4 46.9h.01M66.7 54.6h.01M71.1 51.8h.01M73.9 50.3h.01M73.2 74.6h.01M71.3 87.4h.01M74.9 50.0h.01M69.3 61.5h.01M73.1 78.9h.01M69.8 56.9h.01M71.4 49.7h.01M64.6 48.8h.01M73.4 105.3h.01M68.0 39.2h.01M68.7 54.7h.01M62.2 44.0h.01M70.2 70.8h.01M70.4 53.8h.01M71.1 51.1h.01M62.5 47.3h.01M64.0 75.4h.01M62.0 40.1h.01M62.1 65.2h.01M66.7 55.5h.01M63.5 95.3h.01M71.5 37.7h.01M66.3 68.9h.01M73.7 77.3h.01M69.0 30.8h.01M65.4 105.2h.01M71.1 102.8h.01M66.8 105.0h.01M67.9 49.4h.01M64.5 105.8h.01M64.9 54.5h.01M63.5 56.4h.01M73.5 59.5h.01M64.3 59.0h.01M73.5 54.8h.01M71.7 60.4h.01M70.6 105.6h.01M71.8 45.9h.01M64.5 86.2h.01M75.1 58.0h.01M66.9 103.6h.01M74.7 88.8h.01M73.4 40.3h.01M73.2 56.2h.01M64.4 39.3h.01M72.6 50.2h.01M67.4 79.0h.01M63.8 101.5h.01M70.9 104.5h.01M65.4 72.5h.01M71.2 82.4h.01M67.5 71.1h.01M66.5 47.8h.01M69.7 46.0h.01M70.4 90.5h.01M70.1 49.4h.01M71.5 71.4h.01M68.9 57.1h.01M66.2 77.9h.01M75.0 101.2h.01M65.8 31.1h.01M65.2 88.4h.01M63.7 47.6h.01M64.3 71.0h.01M73.2 32.7h.01M65.2 40.4h.01M72.8 69.8h.01M72.3 69.6h.01M71.8 96.4h.01M63.4 41.6h.01M63.6 31.8h.01M72.6 47.1h.01M69.2 80.9h.01M74.2 42.0h.01M69.9 63.2h.01M65.4 76.9h.01M73.1 74.7h.01M72.1 25.6h.01M68.7 71.4h.01M63.0 82.8h.01M62.1 54.4h.01M66.8 33.1h.01M68.3 70.8h.01M66.9 75.6h.01M72.6 97.7h.01M64.5 62.4h.01M70.3 48.7h.01M65.1 76.1h.01M67.8 101.8h.01M71.1 66.3h.01M70.1 32.2h.01M73.3 84.0h.01" stroke="#9fd8f8" stroke-opacity="0.7" stroke-width="1.2" stroke-linecap="round" fill="none"/>
<path d="M70.4 48.7h.01M65.7 41.9h.01M66.7 71.9h.01M62.3 100.5h.01M62.6 51.4h.01M71.2 39.8h.01M62.0 58.2h.01M71.8 79.2h.01M69.5 72.3h.01M73.8 89.1h.01M68.9 86.0h.01M66.0 61.1h.01M66.9 73.4h.01M65.5 76.4h.01M68.0 47.6h.01M70.7 75.6h.01M64.5 86.3h.01M66.5 66.8h.01M74.6 61.5h.01M63.4 29.8h.01M74.1 77.1h.01M65.0 65.9h.01M66.1 48.8h.01M64.6 49.7h.01M64.5 57.7h.01M67.2 97.6h.01M66.4 67.0h.01M68.2 99.3h.01M71.9 36.9h.01M65.1 33.9h.01M66.3 46.7h.01M65.5 40.7h.01M63.6 43.6h.01M75.1 65.3h.01M64.5 89.0h.01M66.9 78.2h.01M64.7 71.7h.01M66.1 73.9h.01M72.8 38.9h.01M68.7 67.2h.01M62.7 29.2h.01M67.3 78.1h.01M69.9 89.2h.01M68.5 52.4h.01M62.5 57.0h.01M72.8 25.9h.01M72.8 74.5h.01M73.8 49.9h.01M67.2 51.9h.01M70.8 27.9h.01M62.3 51.0h.01M74.4 86.9h.01M70.5 68.8h.01M69.3 105.4h.01M71.4 40.2h.01M71.9 69.9h.01M73.6 78.2h.01M74.9 50.5h.01M74.0 94.9h.01M71.7 49.1h.01M62.5 89.9h.01M65.7 75.9h.01M71.3 46.7h.01M72.5 58.0h.01M70.4 90.2h.01M64.7 103.2h.01M64.1 70.6h.01M71.3 72.5h.01M67.1 31.2h.01M68.6 46.3h.01M71.5 77.4h.01M70.3 48.4h.01M69.2 29.4h.01M67.4 56.5h.01M67.5 105.2h.01M72.3 87.6h.01M73.0 88.2h.01M66.0 76.5h.01M62.2 44.6h.01M64.2 38.7h.01M65.5 40.8h.01M73.1 106.4h.01M71.0 52.8h.01M72.2 56.3h.01M72.5 29.3h.01M62.1 72.6h.01M64.8 49.8h.01M66.0 75.8h.01M62.2 61.5h.01M71.0 106.7h.01M72.2 99.1h.01M62.2 48.3h.01M70.9 62.1h.01M62.8 73.2h.01M73.8 53.1h.01M73.2 74.6h.01M68.1 49.9h.01M69.8 59.2h.01M63.4 25.7h.01M65.5 54.6h.01M73.5 55.0h.01M67.2 50.3h.01M70.5 46.4h.01M64.2 58.8h.01M63.8 42.2h.01M71.4 98.1h.01M74.9 38.8h.01M63.3 25.5h.01M73.0 107.2h.01M63.2 94.6h.01M71.5 64.4h.01M64.2 44.6h.01M67.0 48.5h.01M65.3 91.2h.01M62.6 41.9h.01M64.2 47.0h.01M75.0 62.3h.01M67.7 96.1h.01M71.0 75.2h.01M74.6 53.4h.01M63.2 76.6h.01M66.1 59.8h.01M65.8 58.1h.01M74.7 77.6h.01M72.4 46.9h.01M70.0 46.5h.01M67.9 43.5h.01M74.0 63.0h.01M69.9 68.2h.01M67.8 30.9h.01M72.8 49.4h.01M75.1 68.6h.01M68.6 80.0h.01M68.9 82.7h.01M66.6 38.7h.01M66.2 35.5h.01M73.6 71.9h.01M67.3 66.1h.01M71.3 84.3h.01M74.6 79.0h.01M73.5 78.6h.01M73.2 81.9h.01M71.5 88.0h.01M70.7 64.0h.01M64.6 83.6h.01M66.6 49.7h.01M63.1 46.9h.01M68.0 44.7h.01M69.2 30.2h.01M68.8 76.7h.01M70.8 82.8h.01M67.9 48.9h.01M63.4 28.5h.01M63.8 76.5h.01M72.9 81.2h.01M68.6 33.7h.01M64.5 62.0h.01M70.8 62.1h.01M73.4 29.9h.01M66.5 72.7h.01M67.2 54.7h.01M69.6 77.5h.01M75.1 46.9h.01M62.2 67.1h.01M71.8 41.8h.01M63.3 53.0h.01M63.5 103.9h.01M64.0 69.4h.01M63.0 52.7h.01M69.6 106.5h.01M69.5 75.5h.01M74.4 46.2h.01M75.0 70.8h.01M66.0 54.5h.01M69.7 81.8h.01M71.3 75.0h.01M66.5 45.7h.01M71.0 64.6h.01M74.2 105.2h.01M72.7 93.1h.01M66.1 46.8h.01M72.0 77.4h.01M71.7 81.9h.01M71.7 38.7h.01M65.5 76.3h.01M71.9 42.0h.01M73.7 78.8h.01M71.7 84.9h.01M62.5 46.3h.01M67.7 86.8h.01M71.7 30.5h.01M70.6 49.5h.01M63.9 64.2h.01M71.2 99.2h.01M67.0 47.2h.01M74.0 75.3h.01M64.3 76.8h.01M66.7 91.2h.01M68.9 67.5h.01M66.3 74.5h.01M71.4 67.5h.01M66.9 48.5h.01M68.1 60.2h.01M69.3 49.8h.01M62.7 58.7h.01M65.5 74.5h.01M62.7 79.5h.01M69.0 71.5h.01M67.7 97.9h.01M65.9 50.1h.01M74.0 75.8h.01M64.0 54.9h.01M68.1 92.5h.01M74.3 46.9h.01M69.9 102.0h.01M62.9 72.7h.01M69.6 87.3h.01M73.6 92.5h.01M64.7 64.7h.01M71.9 77.4h.01M62.8 46.5h.01M74.4 105.6h.01M66.4 78.0h.01M71.5 46.4h.01M72.9 62.3h.01M65.1 60.6h.01M73.0 51.0h.01M66.4 60.6h.01M71.0 88.8h.01M75.0 32.2h.01M69.3 91.5h.01M67.0 51.9h.01M71.9 40.0h.01M65.7 51.5h.01M64.1 74.3h.01M65.9 98.6h.01M74.7 66.1h.01M71.9 50.2h.01M65.2 34.4h.01M74.4 46.7h.01M66.5 87.1h.01M64.0 46.4h.01M70.1 48.8h.01M71.2 46.0h.01M72.9 45.8h.01M62.4 45.7h.01M73.5 77.6h.01M66.5 60.8h.01M69.4 75.2h.01M70.3 48.1h.01M63.4 91.3h.01M65.3 78.9h.01M69.7 78.5h.01M70.4 40.5h.01M67.8 48.7h.01M63.9 59.5h.01M74.9 92.5h.01M72.0 104.4h.01M72.8 43.3h.01M62.3 47.1h.01M71.6 92.5h.01M69.9 49.3h.01M71.0 102.3h.01M67.8 92.4h.01M72.2 36.8h.01M69.1 51.1h.01M75.1 48.3h.01M65.4 78.9h.01M63.5 86.0h.01M63.3 47.8h.01M70.7 38.6h.01M62.2 96.8h.01M72.5 76.4h.01M70.8 99.1h.01M67.8 77.3h.01M63.5 31.2h.01M68.0 95.4h.01M62.3 56.8h.01M73.9 42.9h.01M69.7 46.9h.01M64.9 52.3h.01M72.9 83.6h.01M63.8 85.1h.01M74.4 32.0h.01M68.8 45.8h.01M65.4 49.3h.01M68.3 105.8h.01M65.1 31.4h.01M67.6 64.5h.01M66.9 83.7h.01M73.2 45.1h.01M65.0 106.8h.01M65.4 59.0h.01M64.5 58.0h.01M71.3 80.5h.01M65.4 76.7h.01M66.1 38.9h.01M70.0 98.3h.01M71.5 67.8h.01M71.4 59.2h.01M68.1 38.1h.01M63.4 46.8h.01M65.4 29.8h.01M74.6 80.3h.01M66.5 47.1h.01M66.8 45.3h.01M75.1 36.9h.01M73.1 69.2h.01M64.8 46.5h.01M68.1 79.8h.01M72.9 53.7h.01M69.8 37.5h.01M73.7 78.1h.01M70.8 57.4h.01M62.3 79.0h.01M65.6 75.7h.01M64.3 56.7h.01M74.5 36.3h.01M64.6 76.5h.01M68.3 81.3h.01M74.8 48.9h.01M66.7 43.5h.01M69.8 43.3h.01M66.8 57.7h.01M66.8 65.9h.01M65.0 85.4h.01M73.3 47.0h.01M64.1 89.9h.01M71.3 29.4h.01M68.0 46.3h.01M72.6 106.7h.01M67.0 71.4h.01M65.6 58.3h.01" stroke="#9fd8f8" stroke-opacity="0.7" stroke-width="1.2" stroke-linecap="round" fill="none"/>
<path d="M66.6 64.6h.01M65.9 76.6h.01M67.0 107.3h.01M65.1 72.3h.01M70.3 44.4h.01M62.4 77.3h.01M68.6 46.1h.01M67.0 29.2h.01M62.8 105.4h.01M74.9 79.7h.01M72.8 32.6h.01M66.5 86.2h.01M75.2 65.5h.01M64.5 56.9h.01M65.8 46.9h.01M69.4 72.5h.01M66.5 92.9h.01M65.7 97.3h.01M62.3 43.5h.01M68.9 84.5h.01M66.0 51.3h.01M62.1 53.2h.01M68.6 103.8h.01M68.7 46.1h.01M67.5 77.8h.01M71.7 39.3h.01M62.0 82.8h.01M74.1 67.1h.01M65.6 39.2h.01M74.6 59.3h.01M66.8 71.1h.01M63.3 93.9h.01M69.5 44.0h.01M65.1 57.1h.01M74.3 29.6h.01M64.7 86.1h.01M62.8 46.2h.01M69.5 32.6h.01M73.7 64.5h.01M65.7 85.5h.01M73.9 36.1h.01M67.1 56.6h.01M70.3 55.3h.01M72.1 77.0h.01M63.1 51.7h.01M75.0 80.3h.01M68.6 85.8h.01M72.4 82.8h.01M75.1 46.1h.01M62.0 71.6h.01M66.7 107.0h.01M64.0 76.6h.01M74.4 61.7h.01M64.6 34.2h.01M73.1 106.4h.01M73.2 49.2h.01M65.4 104.9h.01M73.1 59.7h.01M62.4 85.7h.01M69.8 96.7h.01M70.4 43.6h.01M66.9 48.3h.01M64.9 55.8h.01M68.5 81.2h.01M72.4 94.4h.01M73.9 75.4h.01M71.8 43.9h.01M64.1 43.9h.01M71.7 27.9h.01M68.1 51.8h.01M71.2 41.0h.01M67.6 76.4h.01M72.3 83.7h.01M71.0 33.3h.01M71.2 63.4h.01M68.2 45.7h.01M73.2 68.4h.01M67.7 59.0h.01M74.6 105.5h.01M72.3 40.0h.01M63.8 77.1h.01M69.4 59.8h.01M75.0 35.5h.01M67.7 78.7h.01M66.2 70.3h.01M74.2 80.6h.01M68.0 50.4h.01M66.2 63.3h.01M69.8 66.0h.01M74.8 88.6h.01M73.3 48.4h.01M70.6 105.0h.01M72.5 85.6h.01M72.9 29.5h.01M62.0 45.8h.01M74.1 45.8h.01M65.4 79.1h.01M64.5 80.7h.01M72.4 51.8h.01M74.5 46.6h.01M74.5 60.6h.01M64.1 61.3h.01M63.9 27.7h.01M63.9 76.8h.01M63.3 61.4h.01M63.9 55.2h.01M73.8 98.1h.01M73.8 73.4h.01M64.5 56.3h.01M68.5 52.8h.01M72.7 98.3h.01M69.9 67.2h.01M73.5 46.9h.01M63.3 45.3h.01M68.5 88.4h.01M67.1 44.9h.01M72.8 45.9h.01M62.3 57.2h.01M69.2 74.6h.01M65.5 56.8h.01M73.1 55.5h.01M64.9 76.6h.01M72.2 27.3h.01M64.0 47.4h.01M74.1 48.6h.01M68.0 66.6h.01M66.0 81.2h.01M62.6 105.7h.01M74.5 68.7h.01M75.1 52.2h.01M67.6 26.9h.01M62.6 51.7h.01M65.5 55.2h.01M72.6 45.0h.01M67.1 61.2h.01M66.0 39.2h.01M72.5 58.6h.01M63.6 96.7h.01M65.6 92.7h.01M65.0 57.2h.01M68.8 88.5h.01M70.7 71.0h.01M67.3 73.9h.01M65.3 49.0h.01M67.0 72.4h.01M73.0 107.3h.01M67.2 49.2h.01M71.2 98.5h.01M62.8 76.4h.01M74.4 61.6h.01M68.1 53.3h.01M66.3 89.8h.01M67.7 58.2h.01M72.2 102.8h.01M66.9 71.1h.01M66.0 84.1h.01M62.0 48.0h.01M64.2 44.9h.01M70.2 29.4h.01M64.5 40.6h.01M64.4 89.6h.01M68.8 89.8h.01M63.3 48.1h.01M64.8 53.4h.01M72.1 69.5h.01M72.6 55.3h.01M69.3 46.0h.01M73.5 57.3h.01M64.9 70.4h.01M62.3 70.0h.01M74.6 56.2h.01M66.0 49.8h.01M66.8 58.8h.01M62.9 82.8h.01M72.2 27.3h.01M67.3 78.1h.01M64.5 86.7h.01M62.8 69.7h.01M75.0 54.7h.01M69.1 63.2h.01M68.0 46.7h.01M62.4 93.1h.01M62.4 36.7h.01M70.5 96.7h.01M65.1 62.4h.01M66.4 45.1h.01M72.3 68.0h.01M64.2 92.0h.01M65.1 57.2h.01M71.0 81.7h.01M64.3 74.7h.01M69.2 55.6h.01M70.0 25.5h.01M70.5 70.7h.01M67.2 48.5h.01M71.5 59.4h.01M70.5 45.1h.01M68.0 45.9h.01M66.9 76.9h.01M73.0 76.7h.01M67.4 73.0h.01M66.3 50.4h.01M68.3 44.1h.01M63.6 46.8h.01M67.5 49.4h.01M65.4 71.6h.01M66.9 55.9h.01M69.5 64.3h.01M62.6 51.6h.01M73.1 78.7h.01M64.0 49.6h.01M73.1 37.8h.01M67.7 47.8h.01M68.4 92.6h.01M74.5 30.5h.01M63.3 54.9h.01M66.9 68.6h.01M68.5 89.2h.01M65.2 87.9h.01M65.5 84.6h.01M69.9 76.5h.01M67.4 64.1h.01M72.4 29.2h.01M64.1 68.9h.01M65.9 46.5h.01M74.0 58.0h.01M69.9 69.6h.01M66.7 78.5h.01M72.9 100.5h.01M73.0 80.7h.01M67.0 42.5h.01M70.9 56.5h.01M66.3 101.6h.01M69.2 46.8h.01M72.9 54.2h.01M74.8 66.3h.01M64.7 75.1h.01M66.8 74.5h.01M69.2 96.1h.01M66.5 47.2h.01M67.5 96.7h.01M72.0 50.2h.01M62.9 74.5h.01M73.1 95.7h.01M65.0 90.1h.01M68.7 46.6h.01M74.7 25.9h.01M67.3 80.6h.01M74.8 48.9h.01M66.7 75.4h.01M72.3 84.6h.01M74.0 103.9h.01M62.1 66.6h.01M65.2 79.2h.01M71.6 96.4h.01M62.8 38.1h.01M62.6 45.9h.01M74.8 91.1h.01M70.2 57.3h.01M68.0 44.7h.01M63.3 43.4h.01M68.0 56.6h.01M73.6 43.4h.01M74.3 28.4h.01M72.5 46.7h.01M74.1 34.6h.01M67.8 82.0h.01M69.8 31.0h.01M74.8 57.9h.01M73.0 35.4h.01M70.7 53.7h.01M74.7 43.2h.01M67.0 73.7h.01M62.4 44.3h.01M62.9 89.1h.01M65.2 33.9h.01M64.7 71.2h.01M71.8 59.7h.01M65.0 81.5h.01M71.0 34.4h.01M75.2 44.5h.01M70.0 107.5h.01M69.7 56.5h.01M62.7 64.4h.01M65.2 89.3h.01M66.8 76.9h.01M71.4 49.9h.01M66.7 47.5h.01M69.7 94.9h.01M73.0 31.2h.01M64.6 41.5h.01M71.4 75.2h.01M63.1 98.4h.01M62.7 35.8h.01M65.1 45.9h.01M69.0 63.2h.01M65.4 50.6h.01M62.6 93.2h.01M72.2 56.2h.01M67.9 46.8h.01M66.0 52.4h.01M64.2 95.9h.01M73.8 47.3h.01M72.7 90.6h.01M67.5 80.9h.01M66.7 66.9h.01M72.0 47.8h.01M63.8 43.6h.01M65.3 69.5h.01M72.6 64.9h.01M68.4 56.6h.01M71.5 62.5h.01M67.0 26.5h.01M74.6 85.8h.01M73.9 57.3h.01M68.8 63.5h.01M73.9 53.1h.01M63.1 61.8h.01M67.4 83.7h.01M74.8 62.0h.01M66.7 64.7h.01M74.1 51.9h.01M66.5 50.0h.01M69.0 39.6h.01M65.6 37.7h.01M65.5 98.0h.01M63.2 66.1h.01M70.0 81.5h.01M64.4 82.2h.01M66.4 40.9h.01M62.1 46.5h.01M73.9 75.0h.01M74.3 36.5h.01" stroke="#9fd8f8" stroke-opacity="0.7" stroke-width="1.2" stroke-linecap="round" fill="none"/>
<line x1="102.30" y1="25.40" x2="102.30" y2="108.20" stroke="#363636" stroke-width="1.1" />
<line x1="94.20" y1="25.40" x2="110.40" y2="25.40" stroke="#363636" stroke-width="1.1" />
<line x1="94.20" y1="108.20" x2="110.40" y2="108.20" stroke="#363636" stroke-width="1.1" />
<rect x="89.50" y="45.10" width="25.60" height="25.00" fill="#c8102e" stroke="#111" stroke-width="0.6"/>
<line x1="89.50" y1="52.60" x2="115.10" y2="52.60" stroke="#0a0a0a" stroke-width="1.3" />
<line x1="134.05" y1="28.60" x2="134.05" y2="106.50" stroke="#363636" stroke-width="1.1" />
<line x1="125.95" y1="28.60" x2="142.15" y2="28.60" stroke="#363636" stroke-width="1.1" />
<line x1="125.95" y1="106.50" x2="142.15" y2="106.50" stroke="#363636" stroke-width="1.1" />
<rect x="121.30" y="47.30" width="25.50" height="25.10" fill="#17578c" stroke="#111" stroke-width="0.6"/>
<line x1="121.30" y1="55.30" x2="146.80" y2="55.30" stroke="#0a0a0a" stroke-width="1.3" />
<path d="M101.4 50.0h.01M97.3 48.1h.01M101.8 43.7h.01M104.0 80.1h.01M100.4 45.7h.01M107.4 70.1h.01M99.0 45.3h.01M99.4 53.1h.01M96.5 65.6h.01M100.6 40.4h.01M104.6 42.2h.01M106.3 37.0h.01M104.7 29.9h.01M104.2 48.9h.01M102.3 76.2h.01M97.2 70.2h.01M97.1 91.3h.01M101.4 36.3h.01M105.3 84.8h.01M98.6 59.7h.01M102.8 91.1h.01M97.9 43.4h.01M103.3 94.7h.01M98.0 40.3h.01M103.4 44.5h.01" stroke="#ffc4d3" stroke-opacity="0.6" stroke-width="1.3" stroke-linecap="round" fill="none"/>
<path d="M105.7 33.8h.01M105.1 53.0h.01M107.9 40.3h.01M99.2 61.2h.01M97.8 33.9h.01M107.3 70.9h.01M106.3 55.2h.01M103.0 61.9h.01M97.6 71.9h.01M99.8 49.5h.01M104.5 34.6h.01M98.6 104.7h.01M106.4 91.8h.01M105.1 76.0h.01M103.0 50.4h.01M100.9 54.2h.01M97.2 64.4h.01M96.7 75.5h.01M102.4 46.1h.01M104.6 87.6h.01M97.3 26.7h.01M97.7 53.7h.01M100.4 45.9h.01M97.5 39.7h.01M107.9 29.5h.01" stroke="#ffc4d3" stroke-opacity="0.6" stroke-width="1.3" stroke-linecap="round" fill="none"/>
<path d="M99.5 84.8h.01M104.2 71.2h.01M97.6 54.5h.01M102.0 43.4h.01M98.4 43.4h.01M108.1 49.2h.01M98.1 30.5h.01M98.1 45.0h.01M103.9 67.7h.01M108.2 29.5h.01M96.1 46.2h.01M106.4 74.0h.01M105.4 28.0h.01M100.6 51.1h.01M102.8 58.7h.01M105.6 64.1h.01M101.4 48.1h.01M106.6 81.5h.01M104.4 75.2h.01M99.4 26.3h.01M102.2 52.5h.01M104.7 47.0h.01M100.6 46.7h.01M104.4 61.0h.01M98.5 50.6h.01" stroke="#ffc4d3" stroke-opacity="0.6" stroke-width="1.3" stroke-linecap="round" fill="none"/>
<path d="M106.9 82.9h.01M100.7 68.1h.01M97.9 45.1h.01M106.7 87.8h.01M100.3 52.6h.01M102.7 44.9h.01M103.0 47.1h.01M108.0 38.5h.01M107.9 50.7h.01M96.2 92.4h.01M101.4 95.8h.01M107.7 85.0h.01M97.9 68.7h.01M97.9 37.2h.01M96.8 104.2h.01M104.4 70.8h.01M102.5 66.0h.01M98.0 48.2h.01M104.3 57.3h.01M98.9 47.5h.01M104.4 72.7h.01M108.2 50.3h.01M99.5 46.2h.01M96.6 107.2h.01M102.1 52.0h.01" stroke="#ffc4d3" stroke-opacity="0.6" stroke-width="1.3" stroke-linecap="round" fill="none"/>
<path d="M105.1 56.7h.01M108.5 35.3h.01M96.8 47.2h.01M101.9 37.9h.01M107.6 75.7h.01M97.3 41.0h.01M98.2 59.2h.01M103.3 27.9h.01M100.6 47.0h.01M98.7 51.0h.01M103.1 29.6h.01M107.0 68.9h.01M104.3 62.1h.01M98.0 76.4h.01M99.0 58.0h.01M102.3 42.3h.01M98.0 33.5h.01M96.8 48.8h.01M107.3 86.9h.01M104.6 59.5h.01M106.1 52.9h.01M105.0 96.7h.01M96.1 28.4h.01M106.9 62.8h.01M100.7 64.0h.01" stroke="#ffc4d3" stroke-opacity="0.6" stroke-width="1.3" stroke-linecap="round" fill="none"/>
<path d="M105.2 69.6h.01M103.2 57.7h.01M105.3 27.0h.01M105.0 54.8h.01M105.8 54.4h.01M104.6 35.9h.01M101.9 79.2h.01M102.9 29.9h.01M102.8 32.0h.01M97.6 52.4h.01M101.3 105.8h.01M100.1 52.1h.01M108.4 31.5h.01M106.0 49.9h.01M106.3 45.1h.01M98.3 34.9h.01M100.1 66.2h.01M100.3 52.4h.01M98.9 107.2h.01M98.0 57.5h.01M107.7 67.2h.01M100.1 44.0h.01M105.1 86.9h.01M107.4 25.9h.01M103.4 52.3h.01" stroke="#ffc4d3" stroke-opacity="0.6" stroke-width="1.3" stroke-linecap="round" fill="none"/>
<path d="M131.1 72.8h.01M130.7 54.7h.01M131.5 65.0h.01M128.3 70.8h.01M131.0 64.2h.01M139.6 70.3h.01M132.6 101.2h.01M131.3 51.7h.01M129.1 55.0h.01M128.0 63.7h.01M138.0 63.0h.01M133.2 64.3h.01M131.9 65.0h.01M133.0 44.8h.01M137.1 63.9h.01M136.0 71.8h.01M136.4 68.4h.01M136.1 33.0h.01M138.4 41.7h.01M129.6 81.5h.01M139.7 86.1h.01M136.6 45.5h.01M130.2 65.1h.01M138.2 65.3h.01M138.4 72.1h.01M128.8 35.2h.01M133.3 54.1h.01M137.0 68.5h.01M128.8 47.8h.01M137.9 64.1h.01M139.7 47.3h.01M139.2 61.7h.01M127.6 42.5h.01M127.7 50.3h.01M137.1 46.4h.01M131.4 54.6h.01M133.4 96.0h.01M133.3 97.9h.01M127.7 57.1h.01M138.5 72.4h.01M131.1 48.2h.01M130.5 55.6h.01M138.2 71.9h.01M136.9 57.9h.01M136.6 63.9h.01M137.3 72.4h.01M129.5 75.9h.01M131.0 68.8h.01M128.8 100.2h.01M136.8 101.0h.01M135.4 51.2h.01M133.3 37.1h.01M131.9 55.8h.01M138.7 35.1h.01M131.9 73.6h.01M135.6 71.6h.01M138.9 52.1h.01M131.8 47.3h.01M133.8 33.2h.01M132.5 46.7h.01M132.0 63.1h.01M131.8 38.1h.01M130.5 36.8h.01M138.7 49.4h.01M131.5 47.1h.01M136.3 47.3h.01M137.8 48.4h.01M133.8 43.7h.01M132.5 30.0h.01M133.6 59.0h.01M138.6 100.0h.01M132.4 31.9h.01M132.1 31.2h.01M130.2 53.3h.01M136.3 90.8h.01M137.2 97.8h.01M136.1 52.2h.01M133.3 45.0h.01M140.5 30.8h.01M127.9 56.0h.01M134.5 73.5h.01M129.0 47.9h.01M140.0 72.1h.01M130.2 40.9h.01" stroke="#9fd8f8" stroke-opacity="0.7" stroke-width="1.2" stroke-linecap="round" fill="none"/>
<path d="M134.1 55.2h.01M132.4 38.4h.01M137.4 64.9h.01M127.9 64.8h.01M136.8 56.2h.01M138.7 44.4h.01M127.6 63.6h.01M138.7 73.8h.01M131.6 73.2h.01M131.0 46.8h.01M130.9 83.9h.01M131.3 55.1h.01M134.9 51.6h.01M132.8 34.7h.01M130.4 99.1h.01M135.5 79.5h.01M135.6 53.8h.01M135.5 83.6h.01M134.5 49.3h.01M131.1 69.5h.01M135.5 53.6h.01M130.4 62.4h.01M137.1 65.7h.01M131.1 85.6h.01M135.4 53.6h.01M134.2 61.3h.01M138.5 55.2h.01M135.0 72.7h.01M128.1 45.2h.01M129.0 48.2h.01M131.6 62.7h.01M136.2 61.6h.01M135.8 51.2h.01M131.7 59.3h.01M139.8 90.4h.01M133.2 33.4h.01M133.3 43.0h.01M135.2 39.4h.01M130.4 77.7h.01M137.2 94.9h.01M129.9 55.5h.01M134.2 82.4h.01M130.1 51.7h.01M136.2 85.3h.01M136.0 47.6h.01M139.8 48.4h.01M130.2 53.1h.01M127.6 62.5h.01M135.1 48.6h.01M134.7 46.4h.01M134.9 38.8h.01M137.5 57.9h.01M133.3 35.7h.01M130.6 47.1h.01M128.7 103.3h.01M134.6 91.0h.01M128.1 30.6h.01M139.7 53.9h.01M134.5 51.0h.01M136.8 72.7h.01M134.8 46.6h.01M129.2 77.2h.01M138.9 106.2h.01M131.1 53.2h.01M131.2 85.0h.01M130.7 87.5h.01M136.7 54.3h.01M139.6 63.5h.01M132.4 45.1h.01M139.7 39.8h.01M138.4 46.0h.01M135.1 61.1h.01M129.7 60.9h.01M129.6 93.4h.01M132.5 49.2h.01M131.1 51.3h.01M134.9 62.6h.01M136.9 43.4h.01M139.0 103.8h.01M133.7 47.2h.01M137.1 52.2h.01M128.7 47.3h.01M131.8 34.8h.01M132.3 82.1h.01" stroke="#9fd8f8" stroke-opacity="0.7" stroke-width="1.2" stroke-linecap="round" fill="none"/>
<path d="M136.2 60.9h.01M132.8 69.6h.01M130.2 47.8h.01M136.3 34.1h.01M138.9 41.3h.01M130.0 41.7h.01M137.5 64.1h.01M135.2 40.0h.01M132.2 61.0h.01M140.5 47.1h.01M140.6 47.3h.01M134.3 48.8h.01M128.6 70.1h.01M136.2 76.6h.01M136.4 34.3h.01M134.2 75.7h.01M130.4 47.1h.01M139.8 98.0h.01M139.3 43.8h.01M138.9 39.0h.01M136.7 43.8h.01M140.0 73.0h.01M132.8 50.2h.01M133.8 51.0h.01M129.1 51.3h.01M130.4 78.0h.01M139.7 102.1h.01M132.4 50.6h.01M128.6 72.4h.01M127.6 72.8h.01M140.0 89.6h.01M133.5 53.4h.01M129.2 45.0h.01M131.9 52.2h.01M137.0 100.0h.01M140.2 72.7h.01M129.5 47.3h.01M128.3 48.6h.01M128.6 87.9h.01M139.9 85.1h.01M131.2 59.6h.01M136.9 55.2h.01M138.1 29.0h.01M133.7 84.0h.01M135.0 62.0h.01M131.0 45.4h.01M128.8 66.5h.01M132.5 59.7h.01M130.7 55.2h.01M134.6 46.3h.01M139.7 67.2h.01M128.9 67.8h.01M129.7 46.8h.01M133.9 68.6h.01M133.0 93.0h.01M133.9 63.8h.01M131.1 42.7h.01M139.5 53.2h.01M139.9 48.7h.01M135.4 54.4h.01M127.7 47.2h.01M136.7 68.7h.01M137.6 45.8h.01M134.6 72.3h.01M138.2 47.2h.01M139.0 50.1h.01M132.5 80.6h.01M134.9 36.9h.01M135.9 81.1h.01M140.2 56.8h.01M137.4 73.1h.01M135.8 41.7h.01M134.6 36.9h.01M137.8 65.8h.01M131.4 39.1h.01M130.5 59.0h.01M140.3 74.3h.01M130.5 68.9h.01M134.6 98.9h.01M130.9 106.4h.01M131.6 73.9h.01M134.2 72.3h.01M130.1 67.5h.01" stroke="#9fd8f8" stroke-opacity="0.7" stroke-width="1.2" stroke-linecap="round" fill="none"/>
<path d="M134.5 74.7h.01M138.3 48.6h.01M137.8 72.5h.01M130.5 33.5h.01M133.0 59.5h.01M129.0 47.2h.01M136.4 66.7h.01M131.7 52.9h.01M140.5 40.7h.01M132.5 93.3h.01M133.5 86.2h.01M134.2 31.3h.01M129.0 34.9h.01M133.3 50.0h.01M133.7 55.5h.01M134.7 68.0h.01M138.4 59.2h.01M131.0 32.7h.01M127.8 66.3h.01M138.0 30.2h.01M137.8 57.8h.01M134.2 64.3h.01M129.5 54.5h.01M135.1 63.7h.01M138.8 47.1h.01M129.4 43.5h.01M128.0 73.8h.01M128.3 56.7h.01M128.6 72.2h.01M128.9 67.0h.01M133.3 54.9h.01M130.7 52.9h.01M136.9 69.0h.01M136.3 80.5h.01M129.8 64.3h.01M136.0 67.5h.01M133.1 54.7h.01M131.4 38.5h.01M134.3 74.1h.01M135.3 61.6h.01M131.4 52.6h.01M132.9 63.9h.01M128.5 53.4h.01M136.5 50.5h.01M129.9 54.8h.01M131.6 47.0h.01M136.9 77.3h.01M138.8 103.1h.01M140.3 69.9h.01M132.7 71.3h.01M128.8 64.1h.01M138.1 51.5h.01M128.5 32.8h.01M136.0 62.5h.01M140.2 45.3h.01M128.8 61.8h.01M139.3 39.0h.01M140.5 53.2h.01M131.7 102.8h.01M135.2 67.2h.01M134.0 71.0h.01M129.1 52.7h.01M138.4 47.2h.01M138.8 79.6h.01M128.9 76.9h.01M133.4 61.5h.01M131.2 69.5h.01M130.9 43.8h.01M139.6 47.6h.01M139.6 79.1h.01M132.9 57.5h.01M128.9 64.5h.01M130.8 60.4h.01M137.7 41.8h.01M134.8 90.7h.01M129.8 74.6h.01M134.5 49.8h.01M131.4 48.8h.01M137.6 62.9h.01M137.5 50.0h.01M128.7 66.0h.01M139.1 71.0h.01M139.3 60.1h.01" stroke="#9fd8f8" stroke-opacity="0.7" stroke-width="1.2" stroke-linecap="round" fill="none"/>
<path d="M137.6 70.6h.01M137.1 56.5h.01M136.4 50.4h.01M128.9 66.5h.01M140.3 68.0h.01M132.7 40.7h.01M129.9 51.3h.01M131.7 97.3h.01M138.8 72.5h.01M135.7 72.7h.01M127.5 73.2h.01M132.4 55.7h.01M134.5 50.3h.01M130.5 61.7h.01M129.7 73.9h.01M133.8 79.7h.01M137.4 53.2h.01M138.4 44.8h.01M128.3 66.5h.01M139.7 70.3h.01M130.0 58.3h.01M127.8 55.3h.01M134.1 39.1h.01M133.2 73.0h.01M138.2 47.0h.01M135.1 74.9h.01M134.6 47.2h.01M136.6 50.7h.01M130.8 56.0h.01M137.8 49.0h.01M137.6 59.6h.01M138.9 53.5h.01M130.2 48.0h.01M137.9 69.9h.01M134.1 62.5h.01M137.4 45.5h.01M130.6 37.0h.01M127.7 48.4h.01M138.3 79.4h.01M128.3 43.8h.01M135.9 70.7h.01M140.4 41.5h.01M130.9 43.8h.01M130.0 95.8h.01M137.7 35.7h.01M138.0 64.3h.01M138.6 72.8h.01M127.5 63.8h.01M140.5 64.0h.01M136.8 74.3h.01M136.8 66.7h.01M136.5 72.4h.01M127.7 58.5h.01M131.7 55.1h.01M135.1 45.3h.01M138.0 47.9h.01M135.1 72.4h.01M133.5 99.0h.01M137.9 42.8h.01M140.0 35.0h.01M138.5 37.2h.01M129.3 46.6h.01M138.5 30.9h.01M136.7 41.8h.01M139.1 65.6h.01M131.9 98.5h.01M130.3 47.6h.01M134.1 84.2h.01M131.5 50.2h.01M139.0 50.8h.01M138.0 74.0h.01M134.3 90.3h.01M134.0 67.9h.01M134.5 59.3h.01M130.4 50.4h.01M136.9 46.2h.01M128.8 50.9h.01M132.1 48.2h.01M130.2 68.0h.01M133.3 50.9h.01M137.1 65.7h.01M137.3 37.0h.01M138.5 100.3h.01" stroke="#9fd8f8" stroke-opacity="0.7" stroke-width="1.2" stroke-linecap="round" fill="none"/>
<path d="M137.8 48.8h.01M133.4 73.2h.01M136.6 51.0h.01M133.9 46.8h.01M129.5 74.8h.01M130.8 52.3h.01M136.4 101.2h.01M135.4 50.7h.01M135.2 72.4h.01M134.7 47.1h.01M128.7 85.8h.01M139.0 43.9h.01M131.8 67.1h.01M138.4 46.9h.01M136.6 50.7h.01M129.2 51.6h.01M133.4 64.6h.01M127.7 54.6h.01M135.7 89.7h.01M130.5 46.3h.01M137.3 34.8h.01M139.0 47.3h.01M137.0 47.0h.01M138.0 106.0h.01M136.3 59.6h.01M133.7 74.4h.01M137.8 73.0h.01M134.7 77.5h.01M133.5 69.0h.01M127.9 29.3h.01M129.8 45.6h.01M132.3 88.2h.01M136.1 50.7h.01M134.7 68.6h.01M129.1 61.1h.01M128.9 70.4h.01M132.9 53.4h.01M129.1 63.8h.01M130.8 61.0h.01M135.2 49.1h.01M138.0 87.2h.01M139.9 41.6h.01M130.0 51.6h.01M133.1 34.3h.01M138.5 29.7h.01M136.3 45.0h.01M138.7 67.0h.01M130.8 34.3h.01M138.6 42.0h.01M137.7 53.0h.01M136.2 37.8h.01M129.2 41.6h.01M132.9 56.6h.01M140.6 51.9h.01M132.5 103.2h.01M129.0 52.2h.01M131.4 63.6h.01M137.0 53.6h.01M136.0 98.6h.01M134.3 72.4h.01M134.7 62.3h.01M130.3 46.0h.01M136.5 38.9h.01M129.1 49.8h.01M128.4 76.6h.01M137.9 72.4h.01M131.2 67.2h.01M133.2 47.2h.01M131.2 54.8h.01M140.5 61.2h.01M128.6 47.9h.01M133.4 52.6h.01M140.4 59.0h.01M128.0 54.2h.01M133.9 95.6h.01M138.1 65.7h.01M130.5 66.6h.01M138.2 47.3h.01M137.4 47.0h.01M136.3 47.9h.01M129.7 52.8h.01M134.9 49.0h.01M127.6 68.4h.01" stroke="#9fd8f8" stroke-opacity="0.7" stroke-width="1.2" stroke-linecap="round" fill="none"/>
<rect x="149.70" y="21.30" width="14.20" height="90.50" fill="#ecc3cb" />
<text x="156.80" y="66.55" font-size="9" text-anchor="middle" fill="#1a1a1a" font-weight="normal" stroke="#1a1a1a" stroke-width="0.22" transform="rotate(90 156.80 66.55)" dominant-baseline="central">Age<tspan dy="-2.5" font-size="8" stroke-width="0.45">•</tspan></text>
<line x1="21.45" y1="115.40" x2="21.45" y2="205.90" stroke="#1a1a1a" stroke-width="1.0" />
<line x1="18.05" y1="137.10" x2="21.45" y2="137.10" stroke="#333333" stroke-width="1.1" />
<text x="15.05" y="140.20" font-size="8" text-anchor="end" fill="#222" font-weight="normal" stroke="#222" stroke-width="0.22" >60</text>
<line x1="18.05" y1="162.90" x2="21.45" y2="162.90" stroke="#333333" stroke-width="1.1" />
<text x="15.05" y="166.00" font-size="8" text-anchor="end" fill="#222" font-weight="normal" stroke="#222" stroke-width="0.22" >40</text>
<line x1="18.05" y1="188.70" x2="21.45" y2="188.70" stroke="#333333" stroke-width="1.1" />
<text x="15.05" y="191.80" font-size="8" text-anchor="end" fill="#222" font-weight="normal" stroke="#222" stroke-width="0.22" >20</text>
<line x1="87.45" y1="115.40" x2="87.45" y2="205.90" stroke="#1a1a1a" stroke-width="1.0" />
<line x1="20.95" y1="205.40" x2="83.30" y2="205.40" stroke="#1a1a1a" stroke-width="1.0" />
<line x1="86.95" y1="205.40" x2="149.70" y2="205.40" stroke="#1a1a1a" stroke-width="1.0" />
<line x1="36.40" y1="151.60" x2="36.40" y2="190.60" stroke="#363636" stroke-width="1.1" />
<line x1="28.30" y1="151.60" x2="44.50" y2="151.60" stroke="#363636" stroke-width="1.1" />
<line x1="28.30" y1="190.60" x2="44.50" y2="190.60" stroke="#363636" stroke-width="1.1" />
<rect x="23.50" y="170.60" width="25.80" height="13.60" fill="#c8102e" stroke="#111" stroke-width="0.6"/>
<line x1="23.50" y1="179.20" x2="49.30" y2="179.20" stroke="#0a0a0a" stroke-width="1.3" />
<line x1="68.10" y1="119.40" x2="68.10" y2="201.90" stroke="#363636" stroke-width="1.1" />
<line x1="60.00" y1="119.40" x2="76.20" y2="119.40" stroke="#363636" stroke-width="1.1" />
<line x1="60.00" y1="201.90" x2="76.20" y2="201.90" stroke="#363636" stroke-width="1.1" />
<rect x="55.40" y="154.50" width="25.40" height="24.80" fill="#17578c" stroke="#111" stroke-width="0.6"/>
<line x1="55.40" y1="168.00" x2="80.80" y2="168.00" stroke="#0a0a0a" stroke-width="1.3" />
<path d="M32.4 186.5h.01M34.3 179.7h.01M36.4 182.2h.01M32.4 178.2h.01M37.0 163.0h.01M35.3 172.8h.01M40.9 187.7h.01M37.6 180.4h.01M37.4 173.5h.01M36.3 172.5h.01M37.3 174.1h.01M41.1 179.5h.01M42.3 167.9h.01M36.3 176.1h.01M30.4 154.9h.01M30.9 182.7h.01M42.4 176.0h.01M37.5 187.0h.01M39.1 185.0h.01M37.1 186.3h.01M41.5 180.4h.01M41.6 161.9h.01M36.7 180.0h.01M40.4 184.5h.01M32.2 188.9h.01M38.3 186.5h.01M42.4 187.4h.01M32.4 178.8h.01M34.1 167.5h.01" stroke="#ffc4d3" stroke-opacity="0.6" stroke-width="1.3" stroke-linecap="round" fill="none"/>
<path d="M37.4 184.2h.01M41.2 186.1h.01M32.6 173.5h.01M37.9 169.4h.01M40.7 158.2h.01M41.8 170.6h.01M35.5 173.1h.01M30.6 168.4h.01M35.3 186.1h.01M32.0 179.4h.01M36.6 163.1h.01M39.3 172.4h.01M32.8 186.5h.01M31.8 170.5h.01M35.1 171.6h.01M33.2 162.9h.01M35.9 171.8h.01M33.3 180.8h.01M41.9 182.6h.01M34.0 185.2h.01M32.6 185.3h.01M42.3 184.2h.01M32.4 184.6h.01M34.3 177.5h.01M36.8 184.0h.01M41.2 182.1h.01M37.8 188.9h.01M32.4 164.4h.01M37.7 185.8h.01" stroke="#ffc4d3" stroke-opacity="0.6" stroke-width="1.3" stroke-linecap="round" fill="none"/>
<path d="M34.0 180.3h.01M31.4 175.5h.01M35.5 174.8h.01M32.9 165.4h.01M37.6 170.1h.01M40.2 181.5h.01M42.1 154.6h.01M30.7 160.0h.01M35.4 157.7h.01M40.1 178.8h.01M30.4 152.9h.01M39.2 170.5h.01M39.2 186.8h.01M35.4 180.7h.01M37.5 180.2h.01M38.9 184.1h.01M31.0 185.8h.01M31.7 159.5h.01M37.7 157.1h.01M41.4 175.1h.01M32.8 186.1h.01M38.7 178.3h.01M38.7 182.5h.01M33.8 184.2h.01M35.5 168.0h.01M31.4 183.3h.01M32.5 182.2h.01M36.6 184.2h.01" stroke="#ffc4d3" stroke-opacity="0.6" stroke-width="1.3" stroke-linecap="round" fill="none"/>
<path d="M39.8 178.3h.01M30.6 159.8h.01M39.0 153.7h.01M41.8 170.4h.01M42.1 187.0h.01M40.3 179.8h.01M38.9 187.6h.01M42.5 186.0h.01M42.6 188.4h.01M41.1 186.1h.01M34.1 182.6h.01M37.1 184.6h.01M38.2 170.8h.01M37.2 180.6h.01M33.2 181.9h.01M35.0 169.3h.01M31.1 171.2h.01M34.4 184.3h.01M35.3 186.7h.01M33.4 178.7h.01M35.1 182.6h.01M33.6 181.6h.01M30.2 177.7h.01M34.5 183.6h.01M42.4 184.2h.01M40.2 184.7h.01M41.7 180.5h.01M37.1 179.7h.01" stroke="#ffc4d3" stroke-opacity="0.6" stroke-width="1.3" stroke-linecap="round" fill="none"/>
<path d="M34.5 171.5h.01M33.2 172.3h.01M33.6 189.0h.01M35.1 182.4h.01M39.9 187.0h.01M37.0 183.2h.01M37.7 171.4h.01M32.8 171.0h.01M42.0 186.9h.01M33.5 180.8h.01M35.4 186.3h.01M39.8 175.9h.01M37.2 170.0h.01M35.1 182.0h.01M41.0 190.0h.01M40.1 184.3h.01M36.1 168.7h.01M34.2 176.7h.01M38.1 175.0h.01M33.6 176.2h.01M36.1 170.5h.01M41.2 186.0h.01M35.6 171.9h.01M38.9 169.6h.01M30.8 170.6h.01M38.7 154.1h.01M32.2 184.2h.01M41.3 171.4h.01" stroke="#ffc4d3" stroke-opacity="0.6" stroke-width="1.3" stroke-linecap="round" fill="none"/>
<path d="M37.2 160.5h.01M40.5 178.0h.01M32.0 186.5h.01M42.2 156.5h.01M34.1 171.5h.01M36.3 189.6h.01M41.7 190.0h.01M41.3 185.8h.01M30.7 166.8h.01M35.9 184.2h.01M41.6 189.2h.01M34.5 185.3h.01M38.3 160.2h.01M34.8 180.7h.01M36.0 158.5h.01M31.6 165.2h.01M37.8 163.0h.01M40.3 180.4h.01M30.6 182.3h.01M33.4 169.9h.01M39.8 181.3h.01M38.9 182.0h.01M33.4 188.0h.01M31.6 163.5h.01M40.7 153.8h.01M33.6 183.6h.01M38.3 174.7h.01M30.7 179.8h.01" stroke="#ffc4d3" stroke-opacity="0.6" stroke-width="1.3" stroke-linecap="round" fill="none"/>
<path d="M65.4 153.2h.01M63.2 172.4h.01M63.1 164.1h.01M71.6 186.0h.01M70.7 141.8h.01M72.2 197.1h.01M73.8 151.2h.01M65.2 169.0h.01M72.1 164.6h.01M74.6 173.7h.01M67.4 147.9h.01M74.5 171.5h.01M65.5 162.7h.01M72.8 145.1h.01M73.5 147.2h.01M66.4 132.5h.01M72.3 179.0h.01M70.7 193.4h.01M70.3 123.5h.01M69.3 172.0h.01M66.3 154.4h.01M65.7 122.5h.01M71.4 135.9h.01M68.8 169.6h.01M70.1 170.9h.01M62.0 193.4h.01M65.0 165.7h.01M68.4 172.9h.01M65.0 176.5h.01M72.2 155.8h.01M74.5 201.7h.01M74.5 175.2h.01M70.8 154.8h.01M71.0 196.0h.01M73.8 144.4h.01M71.9 163.4h.01M64.9 201.1h.01M68.0 148.0h.01M70.4 161.6h.01M72.9 181.7h.01M70.0 178.0h.01M62.7 141.2h.01M66.0 166.4h.01M69.0 180.7h.01M70.3 178.7h.01M63.8 193.5h.01M71.3 176.2h.01M69.3 127.2h.01M65.1 173.9h.01M73.2 188.6h.01M72.9 143.0h.01M62.2 129.2h.01M72.5 176.6h.01M67.5 126.4h.01M73.7 171.5h.01M68.3 197.7h.01M69.9 178.7h.01M69.7 162.0h.01M71.7 161.9h.01M64.6 127.2h.01M70.9 169.2h.01M71.6 180.3h.01M65.9 158.3h.01M69.1 160.4h.01M68.2 161.3h.01M62.1 148.2h.01M63.4 150.9h.01M67.6 185.6h.01M63.8 157.0h.01M63.6 180.0h.01M70.8 153.5h.01M68.0 156.7h.01M69.5 159.8h.01M73.1 165.6h.01M65.2 138.7h.01M74.1 145.6h.01M62.5 193.1h.01M71.0 152.6h.01M62.3 194.8h.01M63.4 169.0h.01M71.5 171.5h.01M62.0 156.0h.01M67.5 177.4h.01M73.5 175.2h.01M70.2 162.2h.01M64.8 167.3h.01M69.7 143.1h.01M72.5 178.1h.01M72.1 176.8h.01M68.2 171.6h.01M61.9 181.7h.01M74.1 200.3h.01M63.8 157.1h.01M73.5 178.8h.01M62.8 169.6h.01M66.9 169.7h.01M71.4 144.2h.01M67.9 180.3h.01M63.5 181.3h.01M70.1 166.9h.01M67.0 150.9h.01M72.6 184.0h.01M63.1 201.0h.01M63.7 166.5h.01M69.8 167.6h.01M70.9 165.5h.01M73.3 179.9h.01M65.3 158.8h.01M67.6 157.9h.01M70.7 147.1h.01M72.0 149.5h.01M74.1 149.5h.01M65.8 187.6h.01M71.4 187.5h.01M63.9 141.8h.01M67.5 172.7h.01M74.6 144.5h.01M62.7 175.7h.01M73.6 129.0h.01M70.6 160.9h.01M68.4 201.3h.01M63.1 158.3h.01M69.8 184.7h.01M66.4 183.4h.01M61.8 175.8h.01M74.4 171.5h.01M62.6 165.2h.01M72.0 165.6h.01M63.5 157.0h.01M72.6 200.7h.01M66.7 175.5h.01M63.7 173.1h.01M74.7 187.0h.01M73.5 160.4h.01M73.3 152.2h.01M67.0 201.9h.01M67.8 191.2h.01M69.5 124.4h.01M71.2 154.5h.01M74.0 142.7h.01M69.5 166.8h.01M62.5 187.9h.01M72.4 176.5h.01M71.9 181.8h.01M63.3 173.4h.01M61.6 171.6h.01M64.5 188.6h.01M64.0 142.6h.01M70.4 190.1h.01M62.4 177.7h.01M65.7 166.4h.01M69.4 163.7h.01M64.4 162.8h.01M67.5 150.2h.01M65.7 156.2h.01M70.7 156.3h.01M74.2 197.5h.01M73.7 176.2h.01M66.5 155.3h.01M74.4 185.2h.01M64.8 198.3h.01M67.9 159.5h.01M70.6 180.0h.01M63.8 180.2h.01M71.1 174.2h.01M69.7 193.9h.01M64.4 126.2h.01M72.4 156.9h.01M66.2 199.9h.01M71.2 168.7h.01M61.9 162.3h.01M71.0 145.8h.01M69.4 173.4h.01M70.0 139.7h.01M74.6 194.6h.01M63.9 160.4h.01M66.5 154.5h.01M69.4 137.8h.01M68.5 178.5h.01M62.1 187.0h.01M69.2 160.6h.01M64.3 172.4h.01M64.4 158.4h.01M66.7 191.3h.01M64.8 178.7h.01M67.7 158.0h.01M69.2 165.7h.01M69.9 184.4h.01M62.2 191.2h.01M73.3 154.4h.01M73.8 186.4h.01M62.1 178.4h.01M70.1 155.7h.01M67.2 155.4h.01M72.3 150.7h.01M73.9 167.8h.01M70.0 188.7h.01M63.0 196.3h.01M66.4 192.1h.01M69.8 189.6h.01M73.1 175.5h.01M72.4 192.3h.01M70.4 187.0h.01M71.8 155.2h.01M68.5 169.7h.01M74.0 154.7h.01M69.3 169.9h.01M72.0 172.7h.01M74.2 143.4h.01M66.5 172.2h.01M67.2 200.4h.01M68.1 174.5h.01M63.9 174.1h.01M73.1 181.7h.01M71.9 169.5h.01M62.4 171.9h.01M66.8 123.1h.01M62.6 161.2h.01M67.4 174.5h.01M67.0 189.1h.01M72.9 174.1h.01M73.8 165.2h.01M65.7 166.5h.01M67.7 148.7h.01M67.3 169.4h.01M74.5 160.5h.01M72.7 163.3h.01M61.6 148.3h.01M68.4 162.5h.01M67.7 130.4h.01M71.2 155.9h.01M65.3 167.6h.01M63.6 122.6h.01M66.9 178.2h.01M64.9 122.2h.01M64.5 171.1h.01M71.1 148.7h.01M62.4 157.0h.01M71.0 169.7h.01M73.8 164.5h.01M68.8 176.7h.01M70.0 162.1h.01M70.6 173.5h.01M71.2 179.6h.01M68.6 132.9h.01M64.4 156.5h.01M66.4 157.4h.01M73.7 153.5h.01M72.5 171.5h.01M63.2 143.3h.01M67.6 180.4h.01M73.2 161.2h.01M72.0 156.5h.01M63.3 146.2h.01M62.1 181.6h.01M70.8 182.2h.01M64.4 144.0h.01M74.1 174.7h.01M73.3 143.0h.01M70.5 137.5h.01M68.8 200.7h.01M68.7 125.6h.01M68.3 190.8h.01M66.6 158.5h.01M68.7 124.9h.01M69.1 171.8h.01M66.4 154.7h.01M64.3 192.0h.01M69.6 180.6h.01M67.6 161.2h.01M68.8 124.9h.01M64.1 156.7h.01M67.4 134.7h.01M61.8 173.0h.01M69.0 198.0h.01M65.4 159.0h.01M74.1 174.7h.01M64.1 179.0h.01M66.2 175.1h.01M69.3 168.8h.01M71.7 153.8h.01M66.0 155.5h.01M67.6 157.5h.01M74.0 160.0h.01M69.4 154.3h.01M73.2 182.5h.01M70.6 181.0h.01M67.7 185.3h.01M64.3 192.6h.01M67.3 168.7h.01M74.5 171.5h.01M67.6 164.5h.01M70.8 183.4h.01M65.5 180.1h.01M61.9 160.3h.01M68.1 191.6h.01M65.3 178.1h.01M62.2 146.0h.01M61.5 161.3h.01M65.3 174.7h.01M61.6 170.4h.01M62.7 162.4h.01M63.7 178.5h.01M65.1 179.8h.01M63.6 144.8h.01M70.5 171.3h.01M64.2 186.6h.01M68.3 167.3h.01M67.6 175.4h.01M74.2 147.6h.01M72.9 193.9h.01M72.6 167.9h.01M70.4 139.8h.01M70.1 168.7h.01M65.0 186.3h.01M69.9 159.7h.01M72.7 156.3h.01M64.0 172.0h.01M71.1 137.6h.01M74.3 163.9h.01M68.3 182.2h.01M71.5 178.2h.01M62.3 154.8h.01M63.8 196.0h.01M62.6 182.6h.01M64.3 151.0h.01M69.2 193.6h.01M69.8 175.4h.01M71.0 158.6h.01M66.8 159.2h.01M64.6 184.6h.01M62.4 181.8h.01M68.5 157.2h.01M63.0 178.7h.01" stroke="#9fd8f8" stroke-opacity="0.7" stroke-width="1.2" stroke-linecap="round" fill="none"/>
<path d="M62.9 146.3h.01M68.8 173.2h.01M62.8 179.1h.01M66.4 157.6h.01M72.9 172.4h.01M68.8 166.4h.01M61.6 195.6h.01M70.5 127.8h.01M74.2 166.4h.01M62.1 160.0h.01M69.5 176.7h.01M64.4 148.3h.01M70.6 155.3h.01M63.8 150.3h.01M65.5 175.7h.01M74.1 119.7h.01M67.0 199.6h.01M63.4 174.9h.01M68.9 147.3h.01M61.5 171.2h.01M67.2 199.6h.01M63.6 169.1h.01M66.4 158.8h.01M68.8 139.6h.01M66.1 144.1h.01M61.9 171.1h.01M64.8 153.3h.01M67.3 171.6h.01M61.8 135.4h.01M63.1 152.7h.01M71.7 171.8h.01M67.2 194.7h.01M72.7 141.0h.01M69.6 155.5h.01M65.0 183.7h.01M61.5 174.0h.01M64.2 173.3h.01M64.6 201.5h.01M69.7 161.1h.01M66.5 150.0h.01M68.4 160.6h.01M69.3 180.5h.01M67.1 130.7h.01M64.6 170.7h.01M73.9 168.2h.01M66.1 170.5h.01M72.0 168.3h.01M62.0 149.0h.01M65.1 140.0h.01M72.2 174.5h.01M67.8 185.5h.01M64.7 143.4h.01M74.5 132.1h.01M67.5 189.9h.01M73.1 180.3h.01M62.8 165.9h.01M72.9 126.2h.01M61.6 145.4h.01M63.0 167.1h.01M72.8 164.5h.01M68.2 199.4h.01M66.2 168.0h.01M70.5 170.6h.01M73.6 134.8h.01M73.7 169.1h.01M73.4 187.9h.01M61.6 144.3h.01M70.2 196.3h.01M73.4 122.9h.01M70.2 168.7h.01M67.9 161.5h.01M68.8 173.2h.01M65.0 155.0h.01M66.2 193.6h.01M62.9 167.2h.01M66.6 160.1h.01M67.7 139.2h.01M72.4 165.4h.01M62.5 175.8h.01M68.2 185.9h.01M67.0 170.9h.01M66.3 158.5h.01M71.0 164.9h.01M64.7 179.8h.01M62.7 170.7h.01M63.2 181.0h.01M67.1 170.9h.01M70.0 181.1h.01M69.9 179.9h.01M73.2 196.6h.01M63.6 155.3h.01M72.8 168.5h.01M69.7 157.7h.01M66.0 126.1h.01M73.1 147.4h.01M63.0 157.7h.01M72.8 151.2h.01M66.3 156.9h.01M62.1 146.2h.01M68.7 191.5h.01M67.7 177.8h.01M65.6 184.6h.01M62.6 174.4h.01M64.4 176.1h.01M70.7 179.6h.01M67.8 175.7h.01M73.1 174.2h.01M62.5 137.4h.01M74.6 138.7h.01M68.2 157.8h.01M64.9 152.0h.01M64.0 158.4h.01M68.9 155.0h.01M68.7 152.3h.01M68.2 121.6h.01M69.3 166.0h.01M62.4 176.9h.01M62.9 188.1h.01M62.7 154.5h.01M62.3 161.4h.01M64.3 143.6h.01M65.6 178.9h.01M73.1 128.2h.01M64.1 201.0h.01M73.1 147.9h.01M69.3 186.0h.01M63.8 182.5h.01M62.1 175.4h.01M62.0 155.8h.01M68.4 139.4h.01M65.6 180.4h.01M70.1 127.8h.01M69.4 163.6h.01M71.7 191.5h.01M64.3 132.1h.01M63.2 199.1h.01M74.7 173.8h.01M67.3 179.0h.01M70.9 173.4h.01M72.6 130.1h.01M63.9 157.9h.01M63.8 178.0h.01M69.9 196.7h.01M71.6 168.7h.01M62.3 170.9h.01M68.4 174.7h.01M68.0 200.3h.01M74.7 169.0h.01M72.1 141.1h.01M67.7 134.5h.01M74.0 158.9h.01M66.0 125.0h.01M71.3 192.6h.01M66.2 171.1h.01M63.4 154.3h.01M72.8 172.7h.01M70.2 141.3h.01M71.5 152.5h.01M73.4 158.2h.01M71.1 167.8h.01M70.1 175.4h.01M66.1 154.3h.01M62.2 161.1h.01M65.2 170.5h.01M67.1 126.5h.01M71.2 199.1h.01M67.3 120.2h.01M68.5 135.7h.01M70.4 153.1h.01M65.9 155.3h.01M73.8 165.6h.01M68.1 180.6h.01M71.3 164.6h.01M66.6 148.8h.01M70.0 152.6h.01M66.2 201.4h.01M72.6 198.0h.01M69.7 200.7h.01M65.3 131.9h.01M62.4 158.9h.01M70.2 167.4h.01M71.9 174.6h.01M65.5 179.9h.01M72.7 182.0h.01M62.2 162.7h.01M74.5 152.5h.01M72.2 199.9h.01M61.9 180.5h.01M66.8 185.5h.01M71.0 185.8h.01M66.2 176.6h.01M71.9 139.1h.01M70.6 199.0h.01M67.1 182.9h.01M74.0 187.9h.01M73.3 176.9h.01M66.6 174.9h.01M64.1 159.4h.01M66.3 157.0h.01M64.1 160.3h.01M67.8 195.5h.01M65.7 154.3h.01M73.4 187.4h.01M63.9 157.5h.01M69.4 147.6h.01M70.6 179.4h.01M73.4 151.4h.01M70.5 165.5h.01M74.5 126.8h.01M70.9 172.3h.01M62.2 162.6h.01M67.2 179.7h.01M73.5 142.9h.01M71.5 162.7h.01M69.9 189.4h.01M71.0 151.0h.01M62.2 166.2h.01M64.4 125.3h.01M67.8 141.1h.01M68.5 145.6h.01M70.5 174.0h.01M72.4 157.6h.01M70.5 121.2h.01M66.8 151.5h.01M62.9 198.2h.01M65.4 191.0h.01M69.5 160.9h.01M71.6 172.3h.01M63.0 156.0h.01M63.5 156.4h.01M63.3 157.9h.01M70.8 194.5h.01M68.0 168.3h.01M64.8 169.4h.01M62.4 172.4h.01M67.4 150.7h.01M70.7 164.0h.01M71.0 187.8h.01M68.3 121.4h.01M71.7 179.5h.01M63.9 155.0h.01M70.3 179.7h.01M64.4 154.3h.01M69.6 199.6h.01M66.9 186.4h.01M67.0 162.2h.01M66.4 164.6h.01M72.5 157.1h.01M64.7 176.5h.01M65.4 164.2h.01M65.5 163.7h.01M71.7 162.2h.01M74.0 140.0h.01M71.7 166.9h.01M66.1 166.0h.01M66.3 157.6h.01M72.5 171.3h.01M71.7 138.4h.01M65.5 151.6h.01M62.9 177.7h.01M68.9 198.2h.01M71.9 171.9h.01M72.6 162.6h.01M66.1 156.3h.01M68.7 172.5h.01M71.5 188.9h.01M61.9 180.2h.01M65.1 201.3h.01M68.1 194.9h.01M69.2 133.9h.01M63.9 176.8h.01M62.0 179.3h.01M63.2 178.9h.01M73.2 181.4h.01M72.8 133.2h.01M73.0 169.4h.01M73.5 126.0h.01M73.5 189.7h.01M64.7 159.4h.01M64.7 200.5h.01M72.2 149.1h.01M65.1 173.6h.01M69.0 163.1h.01M66.6 154.6h.01M70.4 179.3h.01M72.1 169.7h.01M62.9 176.5h.01M62.9 160.4h.01M72.2 161.4h.01M63.0 164.6h.01M61.6 180.8h.01M71.2 187.2h.01M62.7 195.4h.01M64.0 178.3h.01M70.7 173.5h.01M62.4 170.7h.01M73.2 170.2h.01M62.5 191.9h.01M68.8 135.1h.01M74.3 167.6h.01M73.5 190.6h.01M71.4 167.7h.01M71.2 129.4h.01M67.2 136.0h.01M65.4 136.5h.01M64.9 173.8h.01M68.1 186.9h.01M67.9 182.9h.01M66.4 150.7h.01M63.6 158.6h.01M63.8 171.2h.01M63.2 163.1h.01M69.2 151.3h.01M65.8 155.4h.01M69.2 156.6h.01M62.3 161.7h.01M64.3 173.1h.01M63.3 171.8h.01M68.3 164.4h.01M72.7 179.5h.01M62.1 124.4h.01M70.4 193.9h.01M66.5 154.8h.01M65.0 154.6h.01M74.3 179.0h.01M61.9 129.1h.01M71.9 186.7h.01M71.0 179.0h.01M68.1 151.1h.01M62.9 196.0h.01M63.0 191.8h.01M64.2 180.4h.01M63.5 175.7h.01M72.2 171.7h.01" stroke="#9fd8f8" stroke-opacity="0.7" stroke-width="1.2" stroke-linecap="round" fill="none"/>
<path d="M72.0 157.9h.01M66.8 165.2h.01M66.9 142.9h.01M63.5 175.1h.01M66.3 154.3h.01M66.9 165.9h.01M71.8 179.7h.01M71.2 176.9h.01M73.3 201.0h.01M62.5 188.0h.01M74.4 174.9h.01M61.8 180.4h.01M67.7 156.4h.01M71.2 178.3h.01M74.2 183.4h.01M61.8 179.1h.01M66.3 131.1h.01M74.7 192.7h.01M72.8 146.6h.01M70.9 191.1h.01M69.3 179.7h.01M70.7 172.4h.01M69.6 187.5h.01M64.4 175.7h.01M65.5 122.9h.01M69.9 166.6h.01M73.1 176.1h.01M73.6 121.5h.01M66.1 175.2h.01M62.7 200.2h.01M74.5 151.7h.01M74.7 187.6h.01M69.1 155.2h.01M71.0 181.3h.01M62.3 167.5h.01M63.2 123.7h.01M64.9 201.6h.01M64.2 138.9h.01M62.4 173.5h.01M69.1 132.6h.01M64.3 145.9h.01M61.9 166.4h.01M72.6 165.8h.01M70.9 153.2h.01M66.2 170.4h.01M68.5 168.0h.01M63.3 201.2h.01M69.2 128.4h.01M74.4 168.6h.01M73.3 169.3h.01M62.9 169.4h.01M68.3 186.7h.01M66.6 193.7h.01M71.9 167.1h.01M62.1 180.1h.01M67.4 163.7h.01M72.0 187.9h.01M65.0 125.3h.01M70.1 180.3h.01M67.2 173.9h.01M69.4 176.4h.01M72.5 179.1h.01M66.3 184.7h.01M68.3 169.4h.01M61.9 154.2h.01M63.7 165.6h.01M68.9 194.3h.01M73.4 160.1h.01M65.8 168.3h.01M65.1 193.9h.01M68.4 159.1h.01M66.1 199.1h.01M71.5 148.3h.01M68.6 157.9h.01M62.5 174.4h.01M69.5 171.4h.01M69.9 125.2h.01M70.3 151.3h.01M66.6 129.9h.01M62.3 151.9h.01M68.4 172.4h.01M67.2 134.3h.01M67.2 159.8h.01M63.4 182.9h.01M74.0 174.1h.01M68.2 157.9h.01M68.7 185.9h.01M65.8 165.0h.01M62.6 197.9h.01M66.1 163.7h.01M61.7 164.5h.01M72.5 196.8h.01M74.0 156.6h.01M72.6 149.7h.01M63.3 180.2h.01M73.8 157.6h.01M65.9 182.6h.01M68.0 159.2h.01M68.2 178.3h.01M71.3 176.6h.01M71.3 143.3h.01M66.3 146.5h.01M66.1 169.3h.01M69.6 181.9h.01M71.0 172.2h.01M71.4 169.0h.01M65.0 155.3h.01M65.5 150.1h.01M71.2 128.2h.01M70.3 164.1h.01M67.4 133.5h.01M65.7 156.6h.01M64.7 187.0h.01M66.6 121.2h.01M69.4 146.4h.01M65.1 140.6h.01M68.1 179.3h.01M62.1 151.9h.01M63.4 160.1h.01M68.3 141.2h.01M69.2 167.6h.01M68.0 174.6h.01M63.4 151.5h.01M63.8 175.2h.01M65.0 177.3h.01M74.3 192.7h.01M65.3 135.5h.01M71.0 190.5h.01M64.9 169.5h.01M73.7 159.8h.01M73.2 154.7h.01M63.0 175.0h.01M62.7 182.4h.01M69.8 200.2h.01M64.4 186.0h.01M65.5 151.0h.01M63.9 196.1h.01M66.5 166.6h.01M69.6 181.7h.01M72.8 131.7h.01M74.3 164.3h.01M73.1 139.1h.01M67.0 175.3h.01M70.7 135.2h.01M64.5 162.2h.01M74.6 175.4h.01M74.1 170.1h.01M65.0 186.6h.01M67.9 195.8h.01M64.2 127.7h.01M67.9 195.9h.01M73.7 190.0h.01M63.1 170.2h.01M65.4 153.4h.01M65.1 137.0h.01M63.2 199.7h.01M68.6 167.6h.01M68.4 172.9h.01M68.4 173.9h.01M61.9 172.0h.01M67.9 183.6h.01M70.1 146.4h.01M73.8 178.4h.01M73.2 158.6h.01M63.2 160.3h.01M61.5 152.3h.01M71.1 176.6h.01M61.6 173.1h.01M62.7 168.5h.01M70.4 153.5h.01M73.3 194.2h.01M66.3 167.2h.01M70.4 177.0h.01M71.1 122.2h.01M71.6 177.1h.01M63.9 163.9h.01M69.2 165.2h.01M69.1 172.0h.01M69.9 173.7h.01M63.6 134.5h.01M66.7 168.2h.01M67.8 182.5h.01M73.3 175.8h.01M67.9 177.0h.01M68.0 132.5h.01M68.6 143.3h.01M63.6 170.3h.01M63.8 186.8h.01M67.6 184.1h.01M72.7 137.8h.01M67.2 124.9h.01M65.2 162.8h.01M62.8 154.2h.01M72.9 162.2h.01M62.7 159.0h.01M69.0 155.9h.01M71.4 149.6h.01M63.7 154.5h.01M67.5 184.2h.01M68.7 161.1h.01M67.2 167.3h.01M65.7 192.8h.01M62.2 195.3h.01M73.6 169.7h.01M71.5 176.3h.01M73.4 151.2h.01M68.4 180.6h.01M65.9 191.9h.01M65.8 154.2h.01M70.9 170.6h.01M65.3 200.5h.01M68.2 154.6h.01M68.8 190.9h.01M65.8 173.0h.01M70.7 175.7h.01M67.4 168.5h.01M69.2 143.5h.01M66.3 177.9h.01M66.2 193.7h.01M68.8 175.0h.01M68.7 183.3h.01M69.7 164.4h.01M66.6 147.7h.01M69.5 179.3h.01M73.3 201.8h.01M65.3 190.1h.01M72.4 171.4h.01M68.2 187.3h.01M73.0 125.1h.01M73.2 139.7h.01M69.2 196.2h.01M69.8 159.0h.01M71.9 173.1h.01M73.7 149.6h.01M71.4 172.8h.01M67.4 142.5h.01M63.5 173.0h.01M73.0 196.9h.01M68.0 154.9h.01M70.9 179.1h.01M64.6 193.5h.01M74.3 186.6h.01M67.2 126.8h.01M70.9 172.2h.01M72.3 142.9h.01M71.7 186.5h.01M63.7 178.6h.01M67.3 171.5h.01M68.5 199.3h.01M70.9 189.8h.01M68.7 162.3h.01M73.0 188.8h.01M61.7 173.8h.01M74.1 180.3h.01M66.7 172.7h.01M69.4 188.6h.01M74.1 176.6h.01M66.7 136.0h.01M63.1 201.7h.01M65.0 182.9h.01M67.7 198.7h.01M64.5 184.0h.01M69.5 175.8h.01M62.8 179.8h.01M68.3 150.5h.01M69.7 170.2h.01M64.8 122.5h.01M73.3 161.5h.01M65.3 150.1h.01M67.9 159.0h.01M67.1 171.8h.01M70.4 169.3h.01M71.6 160.1h.01M62.6 156.9h.01M62.3 143.1h.01M69.8 186.1h.01M70.2 168.5h.01M68.2 119.9h.01M73.0 179.6h.01M70.3 155.0h.01M73.9 126.6h.01M65.4 151.0h.01M65.5 177.7h.01M62.1 178.0h.01M74.3 163.4h.01M67.7 180.8h.01M67.5 173.2h.01M63.8 169.1h.01M74.4 186.6h.01M65.4 169.3h.01M70.7 164.3h.01M74.6 166.3h.01M67.4 144.0h.01M68.9 143.1h.01M74.0 165.6h.01M71.9 160.6h.01M70.3 151.0h.01M69.1 177.7h.01M67.4 182.5h.01M71.4 195.2h.01M66.7 192.2h.01M70.5 152.7h.01M68.9 162.3h.01M71.2 173.7h.01M64.8 151.7h.01M74.0 166.6h.01M66.3 120.8h.01M74.4 154.3h.01M68.0 146.9h.01M74.6 171.5h.01M68.4 190.2h.01M62.6 160.9h.01M72.3 175.5h.01M67.4 195.3h.01M65.9 144.8h.01M73.5 140.0h.01M72.6 170.7h.01M67.0 142.3h.01M69.4 156.3h.01M73.6 159.5h.01M64.7 176.9h.01M74.1 179.0h.01M73.3 181.6h.01M72.1 122.5h.01M65.2 176.3h.01M63.9 123.5h.01M71.8 170.2h.01M67.1 177.8h.01M66.1 201.3h.01M72.4 159.8h.01M65.4 172.9h.01M61.8 200.9h.01M70.9 188.8h.01" stroke="#9fd8f8" stroke-opacity="0.7" stroke-width="1.2" stroke-linecap="round" fill="none"/>
<path d="M63.5 172.1h.01M65.9 151.8h.01M62.8 165.9h.01M72.2 148.6h.01M73.2 178.2h.01M62.7 164.9h.01M68.5 185.3h.01M72.0 168.6h.01M68.0 156.4h.01M65.7 164.2h.01M72.4 128.7h.01M62.2 178.2h.01M65.3 169.6h.01M61.6 122.8h.01M72.4 163.2h.01M68.9 130.7h.01M64.6 163.6h.01M72.0 151.9h.01M68.6 198.8h.01M64.9 187.2h.01M62.5 123.6h.01M72.0 176.0h.01M67.7 154.4h.01M71.2 161.0h.01M71.3 169.1h.01M72.8 181.5h.01M62.0 168.0h.01M70.7 155.3h.01M74.4 193.8h.01M68.3 147.4h.01M74.2 153.6h.01M70.8 168.2h.01M69.0 172.2h.01M64.5 149.3h.01M68.6 176.9h.01M64.4 189.1h.01M65.8 179.4h.01M63.1 149.9h.01M72.6 199.9h.01M64.6 158.6h.01M63.7 166.1h.01M69.0 191.0h.01M68.6 122.1h.01M67.1 168.5h.01M67.7 198.7h.01M63.3 173.0h.01M66.4 181.3h.01M71.3 193.9h.01M64.3 188.8h.01M64.9 169.0h.01M73.7 178.7h.01M67.6 163.5h.01M64.9 170.3h.01M65.2 182.7h.01M62.5 191.8h.01M72.5 175.8h.01M74.6 154.2h.01M72.0 144.1h.01M62.9 192.5h.01M74.5 163.8h.01M69.8 149.9h.01M64.8 138.7h.01M69.2 152.9h.01M67.6 177.9h.01M69.4 157.2h.01M73.7 156.8h.01M73.1 129.2h.01M73.0 154.0h.01M70.9 159.2h.01M71.7 125.6h.01M70.7 182.9h.01M74.6 197.1h.01M66.9 147.7h.01M64.9 168.1h.01M74.1 167.9h.01M73.0 166.5h.01M68.9 194.5h.01M66.0 183.2h.01M69.8 145.8h.01M73.2 132.8h.01M74.1 177.9h.01M68.5 176.3h.01M63.0 191.8h.01M69.1 158.2h.01M69.9 173.7h.01M73.0 128.7h.01M63.1 178.2h.01M67.9 192.5h.01M68.1 156.8h.01M64.0 177.7h.01M63.7 199.2h.01M64.4 169.1h.01M70.5 177.2h.01M66.7 151.6h.01M66.9 154.5h.01M66.2 154.3h.01M71.1 167.2h.01M74.2 200.4h.01M65.5 183.5h.01M73.5 161.7h.01M69.7 154.1h.01M74.1 129.5h.01M68.0 155.1h.01M71.6 175.9h.01M63.3 163.5h.01M68.2 193.2h.01M61.6 165.1h.01M72.9 156.6h.01M66.8 158.8h.01M67.4 201.0h.01M70.5 129.8h.01M62.5 166.5h.01M61.7 169.1h.01M74.1 124.7h.01M70.4 152.9h.01M63.0 182.8h.01M64.8 200.0h.01M70.1 151.4h.01M70.4 159.0h.01M68.0 163.1h.01M67.6 163.7h.01M74.7 177.3h.01M66.1 151.3h.01M63.2 169.1h.01M63.4 157.4h.01M72.2 154.7h.01M63.4 125.7h.01M71.6 167.6h.01M70.5 154.1h.01M68.3 159.9h.01M72.7 170.0h.01M66.8 164.2h.01M71.1 156.9h.01M62.5 166.2h.01M70.8 171.7h.01M68.4 166.6h.01M68.8 193.0h.01M62.7 164.5h.01M64.0 199.9h.01M71.8 197.6h.01M72.3 179.2h.01M73.4 164.6h.01M74.5 165.7h.01M63.2 165.4h.01M69.9 180.6h.01M72.7 175.2h.01M68.0 133.6h.01M73.8 152.5h.01M63.1 180.6h.01M64.0 179.1h.01M71.4 186.5h.01M73.7 194.3h.01M65.0 164.8h.01M64.3 156.6h.01M68.5 173.5h.01M68.8 199.6h.01M73.9 147.6h.01M68.6 153.2h.01M72.6 168.7h.01M69.0 173.2h.01M69.0 178.4h.01M72.4 201.2h.01M65.4 177.8h.01M61.8 193.4h.01M73.2 162.0h.01M74.7 155.4h.01M72.8 123.2h.01M66.2 166.5h.01M67.8 148.7h.01M73.4 173.5h.01M74.7 164.1h.01M67.5 168.5h.01M71.8 173.9h.01M67.0 148.6h.01M68.1 143.1h.01M65.8 165.7h.01M68.7 158.0h.01M72.6 148.8h.01M70.3 174.6h.01M62.2 172.1h.01M66.9 148.0h.01M69.1 177.8h.01M66.7 143.1h.01M70.6 195.6h.01M62.5 174.3h.01M67.4 163.3h.01M71.3 145.7h.01M67.5 165.8h.01M71.2 184.4h.01M68.3 170.9h.01M66.3 189.8h.01M74.5 148.4h.01M68.7 193.9h.01M61.8 140.3h.01M70.0 184.0h.01M71.4 130.7h.01M68.6 170.4h.01M70.2 137.6h.01M67.8 186.4h.01M63.9 161.8h.01M62.9 201.6h.01M71.4 166.9h.01M68.8 120.3h.01M66.1 183.5h.01M67.0 156.4h.01M74.1 176.4h.01M63.8 186.0h.01M63.6 199.3h.01M72.7 166.7h.01M61.7 142.7h.01M64.9 142.0h.01M66.1 195.2h.01M66.9 165.6h.01M69.0 157.7h.01M64.0 177.2h.01M64.5 198.1h.01M66.5 178.3h.01M73.4 168.4h.01M66.7 150.3h.01M66.0 172.9h.01M73.6 178.4h.01M72.5 186.5h.01M70.4 128.9h.01M69.5 174.6h.01M65.7 196.1h.01M61.9 180.8h.01M66.1 166.2h.01M68.6 158.1h.01M71.0 182.8h.01M63.1 186.0h.01M71.0 192.3h.01M67.5 167.4h.01M74.3 179.3h.01M61.8 184.8h.01M63.9 176.3h.01M68.6 123.7h.01M65.8 174.2h.01M74.3 167.6h.01M67.0 163.6h.01M69.4 177.8h.01M66.8 160.7h.01M73.7 165.4h.01M66.0 134.3h.01M67.8 178.9h.01M62.2 136.5h.01M72.1 182.8h.01M63.5 154.2h.01M65.0 191.0h.01M64.3 165.3h.01M65.1 164.8h.01M63.1 196.6h.01M72.4 133.8h.01M68.6 171.3h.01M63.5 195.1h.01M70.6 141.8h.01M68.8 175.4h.01M73.5 191.3h.01M73.6 153.9h.01M74.2 149.0h.01M69.0 182.2h.01M68.6 161.6h.01M68.7 170.2h.01M69.0 129.4h.01M63.7 165.1h.01M63.9 174.7h.01M72.0 171.2h.01M66.9 133.6h.01M65.0 190.4h.01M69.6 171.9h.01M70.3 168.4h.01M64.9 171.1h.01M69.3 172.0h.01M62.6 172.8h.01M66.7 177.7h.01M69.2 176.5h.01M73.4 179.8h.01M73.6 137.7h.01M70.6 154.7h.01M71.8 153.2h.01M69.0 170.4h.01M71.8 170.2h.01M63.9 155.0h.01M74.2 151.9h.01M66.7 153.3h.01M66.2 167.2h.01M72.1 179.7h.01M66.8 122.0h.01M66.0 162.5h.01M68.6 136.6h.01M68.4 184.1h.01M66.8 173.3h.01M65.0 137.3h.01M64.5 125.5h.01M63.6 150.8h.01M74.4 152.6h.01M64.7 180.3h.01M62.4 198.5h.01M65.3 159.6h.01M70.0 178.6h.01M69.4 176.0h.01M62.0 158.8h.01M66.9 187.6h.01M66.5 143.3h.01M71.0 185.7h.01M67.0 157.9h.01M64.8 190.9h.01M62.5 139.3h.01M73.4 166.1h.01M71.6 199.9h.01M66.0 201.8h.01M68.1 174.8h.01M61.6 186.3h.01M62.5 158.0h.01M69.7 136.5h.01M70.2 183.8h.01M70.0 161.9h.01M64.2 154.4h.01M62.0 173.5h.01M73.4 125.2h.01M70.3 177.0h.01M71.6 147.4h.01M70.3 175.7h.01M66.1 159.2h.01M70.0 155.3h.01M62.0 166.6h.01M69.9 140.5h.01M64.0 136.7h.01M72.4 156.0h.01M64.9 162.6h.01M72.9 158.3h.01M72.4 164.6h.01M72.9 151.2h.01M64.4 138.1h.01" stroke="#9fd8f8" stroke-opacity="0.7" stroke-width="1.2" stroke-linecap="round" fill="none"/>
<path d="M65.7 159.4h.01M73.7 133.1h.01M72.0 156.9h.01M65.7 175.2h.01M62.6 151.7h.01M63.3 135.6h.01M68.5 153.9h.01M73.1 174.2h.01M66.0 146.4h.01M67.4 178.8h.01M63.1 193.0h.01M65.5 166.5h.01M67.7 197.0h.01M66.1 174.6h.01M68.7 194.3h.01M69.1 174.3h.01M70.1 156.7h.01M68.5 125.9h.01M63.4 164.0h.01M73.1 151.2h.01M62.9 157.5h.01M62.8 182.8h.01M69.5 158.0h.01M70.6 179.3h.01M73.8 160.9h.01M74.2 171.9h.01M69.5 177.1h.01M62.0 186.3h.01M61.6 138.5h.01M72.8 179.8h.01M71.4 192.2h.01M71.6 166.9h.01M62.8 192.8h.01M66.7 164.5h.01M73.5 168.8h.01M63.2 159.5h.01M66.3 171.9h.01M68.9 167.9h.01M62.5 144.4h.01M62.8 173.3h.01M63.4 179.5h.01M62.6 162.5h.01M69.9 156.3h.01M71.1 156.8h.01M65.6 166.2h.01M68.9 199.6h.01M66.6 172.5h.01M70.0 173.7h.01M67.0 152.2h.01M68.1 185.5h.01M68.2 155.9h.01M63.4 169.4h.01M73.4 154.8h.01M69.6 122.8h.01M74.3 173.0h.01M63.1 157.7h.01M63.1 162.7h.01M69.5 139.5h.01M72.0 179.3h.01M63.9 160.5h.01M64.9 177.5h.01M69.8 193.4h.01M64.4 190.0h.01M61.5 132.5h.01M68.1 159.8h.01M72.2 144.4h.01M69.1 189.8h.01M73.9 165.7h.01M65.1 169.8h.01M62.6 176.8h.01M65.6 187.5h.01M63.6 137.7h.01M62.5 174.3h.01M70.3 180.3h.01M65.1 154.2h.01M61.6 139.8h.01M63.6 155.1h.01M72.8 175.9h.01M67.6 170.7h.01M70.1 196.4h.01M63.2 182.3h.01M70.3 177.9h.01M63.9 185.9h.01M72.2 179.2h.01M71.7 191.6h.01M61.8 131.0h.01M73.1 143.6h.01M72.3 166.8h.01M67.7 189.1h.01M66.5 133.1h.01M69.6 159.7h.01M62.5 172.2h.01M73.3 172.6h.01M68.6 152.2h.01M68.8 162.8h.01M62.7 190.6h.01M65.5 170.3h.01M68.7 177.6h.01M64.6 138.2h.01M63.9 162.2h.01M67.8 173.6h.01M62.0 181.6h.01M63.8 126.9h.01M72.4 164.0h.01M71.4 177.0h.01M69.3 178.9h.01M63.0 133.2h.01M72.5 141.9h.01M68.2 168.1h.01M67.7 126.0h.01M61.6 189.3h.01M69.2 148.5h.01M67.4 196.4h.01M67.1 176.6h.01M67.8 194.4h.01M63.2 146.5h.01M70.5 169.2h.01M72.3 177.0h.01M67.8 179.9h.01M65.2 154.4h.01M70.6 167.5h.01M66.4 155.4h.01M71.1 169.6h.01M66.9 159.7h.01M68.7 126.6h.01M63.9 154.5h.01M72.1 173.4h.01M65.2 181.8h.01M62.1 181.9h.01M61.9 153.9h.01M68.3 187.8h.01M71.5 140.6h.01M64.9 159.0h.01M70.3 171.7h.01M74.1 132.5h.01M63.0 198.1h.01M63.0 127.8h.01M74.5 171.6h.01M66.1 183.5h.01M71.8 160.0h.01M67.3 127.8h.01M67.4 139.6h.01M74.1 120.8h.01M62.3 169.8h.01M70.9 134.6h.01M68.0 150.9h.01M71.4 189.8h.01M64.6 199.6h.01M71.2 179.4h.01M69.4 161.1h.01M72.6 171.1h.01M74.0 133.1h.01M73.1 178.7h.01M70.5 200.9h.01M65.4 166.5h.01M64.5 166.8h.01M73.6 158.2h.01M71.0 164.3h.01M65.3 178.4h.01M74.4 191.4h.01M68.3 157.8h.01M67.5 170.4h.01M66.4 163.8h.01M65.6 189.1h.01M63.7 141.4h.01M66.3 161.5h.01M67.1 172.5h.01M74.6 201.9h.01M72.1 164.7h.01M66.5 131.8h.01M71.0 156.0h.01M74.4 123.7h.01M70.0 168.3h.01M66.0 174.0h.01M64.8 180.5h.01M71.3 178.7h.01M74.3 137.8h.01M64.8 176.6h.01M62.1 185.5h.01M66.1 191.6h.01M74.2 158.3h.01M67.9 153.7h.01M64.2 169.9h.01M72.1 167.2h.01M71.7 165.1h.01M72.3 150.1h.01M69.7 155.0h.01M61.7 169.6h.01M62.4 142.8h.01M64.9 146.6h.01M74.0 177.4h.01M74.0 164.9h.01M72.7 189.7h.01M70.6 159.1h.01M73.9 176.8h.01M62.1 165.5h.01M69.5 122.6h.01M67.7 123.3h.01M71.1 190.5h.01M72.5 169.0h.01M65.4 147.4h.01M72.7 167.7h.01M63.1 162.8h.01M74.6 161.7h.01M71.6 185.4h.01M74.3 163.6h.01M62.1 177.5h.01M69.4 146.4h.01M73.3 190.4h.01M72.2 131.6h.01M67.0 172.4h.01M64.6 164.2h.01M73.2 161.2h.01M66.0 136.7h.01M71.1 178.4h.01M67.6 154.6h.01M65.3 169.6h.01M69.1 190.2h.01M62.0 160.5h.01M74.7 134.7h.01M74.1 174.0h.01M70.1 160.4h.01M68.1 170.9h.01M63.0 139.4h.01M69.1 169.2h.01M71.3 151.2h.01M67.7 168.2h.01M61.7 175.7h.01M70.7 173.5h.01M64.7 163.1h.01M73.8 165.5h.01M63.3 135.7h.01M65.2 180.9h.01M71.3 170.7h.01M73.3 165.9h.01M65.9 160.0h.01M71.7 200.1h.01M66.0 145.2h.01M69.0 132.7h.01M72.6 153.6h.01M66.4 154.2h.01M64.3 158.9h.01M64.7 182.3h.01M61.7 180.9h.01M70.1 187.4h.01M67.5 154.3h.01M64.5 143.2h.01M73.4 143.5h.01M69.9 178.9h.01M71.1 179.3h.01M63.5 171.9h.01M67.2 165.3h.01M61.8 153.7h.01M70.4 162.9h.01M65.3 164.4h.01M61.5 159.6h.01M69.4 195.0h.01M67.4 171.0h.01M73.9 177.9h.01M64.3 176.4h.01M72.6 180.7h.01M61.6 121.4h.01M70.1 175.3h.01M65.4 177.8h.01M62.7 180.9h.01M63.1 158.3h.01M70.5 171.0h.01M66.8 140.7h.01M70.5 155.3h.01M74.7 162.6h.01M69.1 168.9h.01M62.1 162.3h.01M70.8 178.1h.01M61.8 168.8h.01M64.4 171.8h.01M66.6 151.8h.01M66.2 152.1h.01M68.4 170.7h.01M67.9 182.0h.01M66.1 166.5h.01M62.8 155.2h.01M71.6 151.7h.01M68.2 157.9h.01M68.0 195.5h.01M66.0 138.0h.01M66.7 162.8h.01M67.6 125.5h.01M71.8 159.0h.01M65.8 158.7h.01M68.4 157.1h.01M64.7 175.1h.01M72.2 189.4h.01M66.6 156.9h.01M72.6 129.4h.01M73.5 175.1h.01M61.7 153.8h.01M69.9 173.8h.01M65.9 167.2h.01M74.4 153.4h.01M71.0 178.6h.01M74.2 133.5h.01M62.0 167.5h.01M69.4 180.5h.01M72.1 180.1h.01M72.7 186.3h.01M74.5 168.8h.01M74.4 138.8h.01M71.2 187.1h.01M64.6 171.8h.01M63.8 185.6h.01M66.2 189.5h.01M63.8 166.4h.01M63.4 157.0h.01M74.0 154.1h.01M68.0 189.2h.01M69.9 140.9h.01M71.3 181.2h.01M74.6 180.4h.01M72.7 154.4h.01M70.7 140.9h.01M66.0 181.9h.01M73.9 198.3h.01M70.1 193.4h.01M63.3 162.3h.01M65.6 152.7h.01M64.3 198.5h.01M72.0 174.1h.01M63.8 186.4h.01M67.3 152.2h.01M71.8 159.1h.01M73.3 178.4h.01M61.8 193.2h.01M65.0 166.7h.01" stroke="#9fd8f8" stroke-opacity="0.7" stroke-width="1.2" stroke-linecap="round" fill="none"/>
<path d="M63.7 187.0h.01M71.9 154.1h.01M65.7 152.2h.01M71.3 167.3h.01M74.2 182.0h.01M70.0 158.7h.01M66.8 138.9h.01M67.4 158.0h.01M72.4 156.4h.01M73.5 192.7h.01M63.2 175.0h.01M68.9 158.6h.01M64.0 161.7h.01M63.0 162.7h.01M74.5 155.4h.01M73.1 133.0h.01M73.6 190.9h.01M68.3 178.2h.01M63.9 135.2h.01M61.6 183.5h.01M67.3 180.3h.01M67.5 161.1h.01M64.0 171.5h.01M73.9 119.6h.01M61.5 158.8h.01M69.7 174.4h.01M71.8 151.0h.01M69.8 148.7h.01M63.0 171.7h.01M65.8 188.3h.01M65.8 180.1h.01M67.0 175.4h.01M63.1 176.5h.01M63.5 178.4h.01M69.9 163.8h.01M68.0 199.4h.01M61.8 176.0h.01M65.7 188.6h.01M66.1 153.9h.01M63.3 152.1h.01M66.1 192.8h.01M69.3 153.7h.01M71.5 128.1h.01M72.1 121.7h.01M67.9 189.8h.01M66.1 125.9h.01M69.1 126.8h.01M73.6 177.8h.01M72.0 153.1h.01M63.7 195.9h.01M72.9 162.1h.01M68.6 156.2h.01M68.2 186.6h.01M71.4 190.9h.01M71.0 174.6h.01M62.2 189.7h.01M63.2 180.7h.01M69.5 201.2h.01M66.2 165.5h.01M65.7 163.6h.01M68.5 167.5h.01M72.8 198.8h.01M61.9 179.0h.01M64.1 174.6h.01M67.5 197.5h.01M67.6 191.7h.01M65.9 183.0h.01M62.6 168.4h.01M70.9 171.6h.01M73.0 168.6h.01M68.2 146.2h.01M72.1 145.7h.01M68.0 142.8h.01M73.9 175.2h.01M72.7 133.5h.01M70.1 153.4h.01M72.4 154.3h.01M74.6 153.2h.01M68.4 128.5h.01M64.9 185.9h.01M66.1 165.4h.01M70.8 172.0h.01M70.2 182.8h.01M67.2 158.5h.01M66.4 144.5h.01M74.4 187.4h.01M69.1 177.3h.01M63.9 181.5h.01M68.9 131.8h.01M68.8 162.4h.01M68.4 121.4h.01M64.4 163.6h.01M69.4 149.4h.01M61.7 143.1h.01M68.6 130.2h.01M73.1 165.9h.01M67.0 144.1h.01M62.3 128.2h.01M63.0 162.7h.01M70.8 182.7h.01M70.3 166.4h.01M71.4 154.2h.01M69.0 136.0h.01M72.7 191.7h.01M69.8 199.9h.01M64.2 178.9h.01M68.0 167.0h.01M72.1 179.3h.01M64.9 180.7h.01M64.9 192.7h.01M62.9 178.6h.01M66.0 157.7h.01M73.2 187.0h.01M70.1 176.3h.01M69.5 178.5h.01M73.4 174.3h.01M63.1 185.2h.01M62.1 192.3h.01M73.0 180.9h.01M64.3 167.1h.01M71.9 142.0h.01M73.7 157.2h.01M71.6 140.0h.01M70.6 179.3h.01M65.2 195.7h.01M62.0 179.5h.01M71.9 190.5h.01M72.7 180.9h.01M70.7 160.4h.01M67.0 165.4h.01M71.8 154.8h.01M71.4 164.2h.01M71.6 168.6h.01M68.2 144.0h.01M70.2 171.3h.01M66.8 158.5h.01M66.2 165.9h.01M68.2 172.6h.01M61.8 155.1h.01M62.6 185.6h.01M67.7 171.7h.01M68.9 179.4h.01M68.9 128.8h.01M74.4 183.1h.01M67.9 163.6h.01M72.6 168.0h.01M63.7 167.0h.01M72.7 176.6h.01M63.2 163.9h.01M71.7 167.0h.01M74.2 158.8h.01M71.3 162.2h.01M71.4 161.6h.01M74.6 153.5h.01M69.8 194.7h.01M61.5 166.6h.01M72.4 188.7h.01M69.5 175.1h.01M70.1 172.9h.01M67.6 163.3h.01M62.6 154.5h.01M66.4 168.1h.01M63.2 130.4h.01M67.2 187.0h.01M71.6 138.7h.01M72.2 175.7h.01M71.5 151.6h.01M73.8 176.7h.01M67.8 168.3h.01M67.2 174.7h.01M63.1 154.5h.01M71.7 137.6h.01M61.6 120.2h.01M72.7 172.0h.01M67.4 146.1h.01M71.3 174.3h.01M66.9 161.7h.01M62.9 197.3h.01M71.1 163.7h.01M71.4 142.5h.01M67.2 175.0h.01M70.0 182.5h.01M74.1 169.8h.01M71.3 156.0h.01M62.8 188.6h.01M68.2 179.2h.01M65.9 136.6h.01M64.8 166.5h.01M70.1 126.9h.01M64.2 198.0h.01M74.3 171.6h.01M70.6 133.7h.01M74.6 171.8h.01M72.1 160.0h.01M67.9 178.0h.01M70.1 180.4h.01M73.4 192.6h.01M70.7 149.4h.01M73.9 180.9h.01M64.7 161.6h.01M62.2 170.2h.01M62.1 119.8h.01M66.4 175.4h.01M70.6 198.8h.01M68.9 157.2h.01M66.4 141.5h.01M69.7 164.2h.01M70.4 173.5h.01M69.3 158.8h.01M64.5 172.3h.01M65.3 156.7h.01M68.9 173.1h.01M62.3 176.2h.01M73.5 157.7h.01M73.5 156.5h.01M68.5 141.9h.01M70.3 183.8h.01M64.9 161.3h.01M70.5 160.0h.01M67.7 175.5h.01M66.0 164.4h.01M71.6 176.9h.01M73.2 196.3h.01M72.5 200.3h.01M70.0 180.3h.01M61.8 150.6h.01M70.4 182.6h.01M63.7 157.0h.01M66.9 157.3h.01M64.1 170.7h.01M72.4 150.1h.01M73.3 129.7h.01M71.1 148.9h.01M74.2 165.5h.01M63.0 160.1h.01M67.1 161.0h.01M67.8 166.7h.01M71.7 171.0h.01M62.9 164.8h.01M64.7 166.7h.01M63.4 163.2h.01M69.6 155.5h.01M63.4 168.5h.01M65.4 144.5h.01M66.4 165.5h.01M63.3 181.3h.01M68.9 184.9h.01M63.4 148.4h.01M71.9 183.7h.01M69.2 136.1h.01M69.3 165.5h.01M67.8 184.7h.01M64.0 156.0h.01M73.7 162.5h.01M65.5 137.0h.01M72.3 196.3h.01M73.6 125.5h.01M65.1 184.1h.01M66.4 170.7h.01M61.5 142.6h.01M73.8 125.4h.01M73.1 173.1h.01M70.5 155.6h.01M67.0 173.8h.01M62.0 177.7h.01M65.0 165.4h.01M65.7 153.2h.01M62.2 193.3h.01M66.0 171.0h.01M68.0 176.8h.01M70.2 190.1h.01M68.2 195.4h.01M73.2 153.8h.01M65.0 135.2h.01M72.9 193.8h.01M65.7 167.6h.01M63.7 157.7h.01M64.7 187.6h.01M64.5 148.4h.01M71.3 191.9h.01M62.7 163.3h.01M74.5 161.7h.01M70.8 172.7h.01M71.3 139.3h.01M63.5 159.9h.01M64.3 173.2h.01M64.5 172.6h.01M66.6 172.3h.01M71.0 174.0h.01M70.3 168.0h.01M65.2 152.5h.01M70.6 189.5h.01M65.6 169.6h.01M72.5 175.7h.01M72.0 201.6h.01M74.0 176.7h.01M62.1 186.4h.01M62.9 163.7h.01M68.8 170.0h.01M65.6 168.2h.01M69.2 171.0h.01M68.9 154.1h.01M73.7 172.8h.01M73.6 193.1h.01M64.7 156.3h.01M70.0 121.0h.01M73.4 187.2h.01M73.2 162.6h.01M63.3 173.2h.01M69.7 178.2h.01M62.6 167.7h.01M63.1 178.0h.01M63.9 168.9h.01M72.2 129.0h.01M66.8 178.1h.01M61.8 197.0h.01M73.2 179.3h.01M73.0 145.2h.01M66.7 177.7h.01M68.8 147.7h.01M69.2 125.4h.01M73.6 160.8h.01M64.7 194.7h.01M68.5 149.0h.01M73.4 198.2h.01M64.1 152.5h.01M73.9 175.6h.01M71.6 180.9h.01M64.4 158.1h.01M68.5 147.9h.01M69.3 148.4h.01M66.1 145.4h.01M68.1 168.5h.01" stroke="#9fd8f8" stroke-opacity="0.7" stroke-width="1.2" stroke-linecap="round" fill="none"/>
<line x1="102.10" y1="141.60" x2="102.10" y2="190.30" stroke="#363636" stroke-width="1.1" />
<line x1="94.00" y1="141.60" x2="110.20" y2="141.60" stroke="#363636" stroke-width="1.1" />
<line x1="94.00" y1="190.30" x2="110.20" y2="190.30" stroke="#363636" stroke-width="1.1" />
<rect x="89.40" y="166.20" width="25.40" height="16.30" fill="#c8102e" stroke="#111" stroke-width="0.6"/>
<line x1="89.40" y1="176.50" x2="114.80" y2="176.50" stroke="#0a0a0a" stroke-width="1.3" />
<line x1="134.05" y1="141.60" x2="134.05" y2="197.30" stroke="#363636" stroke-width="1.1" />
<line x1="125.95" y1="141.60" x2="142.15" y2="141.60" stroke="#363636" stroke-width="1.1" />
<line x1="125.95" y1="197.30" x2="142.15" y2="197.30" stroke="#363636" stroke-width="1.1" />
<rect x="121.40" y="166.20" width="25.30" height="16.20" fill="#17578c" stroke="#111" stroke-width="0.6"/>
<line x1="121.40" y1="176.00" x2="146.70" y2="176.00" stroke="#0a0a0a" stroke-width="1.3" />
<path d="M102.6 184.3h.01M106.9 175.9h.01M106.9 182.6h.01M105.5 182.3h.01M103.7 165.5h.01M100.0 184.8h.01M102.5 184.4h.01M104.9 184.8h.01M105.9 144.9h.01M105.7 178.0h.01M106.9 158.3h.01M102.2 180.3h.01M101.7 166.1h.01M96.8 177.9h.01M107.7 174.8h.01M98.5 175.1h.01M99.2 182.5h.01M101.2 178.8h.01M102.1 168.5h.01M106.4 157.4h.01M96.2 187.8h.01M107.0 163.5h.01M104.4 164.4h.01M105.9 182.4h.01M99.3 178.2h.01" stroke="#ffc4d3" stroke-opacity="0.6" stroke-width="1.3" stroke-linecap="round" fill="none"/>
<path d="M100.2 164.3h.01M97.5 180.0h.01M100.9 178.4h.01M103.7 180.1h.01M96.6 183.5h.01M107.8 185.5h.01M103.0 181.7h.01M104.4 171.0h.01M103.3 184.8h.01M99.1 179.0h.01M101.0 178.0h.01M101.9 187.5h.01M102.8 184.7h.01M97.7 177.1h.01M100.7 168.6h.01M104.7 183.2h.01M98.0 178.5h.01M96.6 180.8h.01M105.6 166.6h.01M98.7 161.9h.01M106.9 153.5h.01M98.8 179.8h.01M101.3 168.6h.01M96.0 167.8h.01M98.8 180.2h.01" stroke="#ffc4d3" stroke-opacity="0.6" stroke-width="1.3" stroke-linecap="round" fill="none"/>
<path d="M108.3 152.8h.01M98.9 183.4h.01M106.7 166.5h.01M97.3 181.2h.01M99.0 161.8h.01M102.0 173.4h.01M98.7 167.6h.01M102.3 170.8h.01M98.8 182.0h.01M104.9 157.0h.01M98.0 150.1h.01M107.6 155.8h.01M104.7 173.5h.01M96.5 189.4h.01M97.7 187.7h.01M98.9 152.8h.01M97.0 187.7h.01M97.7 183.8h.01M98.5 177.8h.01M103.3 157.9h.01M107.9 148.6h.01M107.5 176.0h.01M105.9 175.7h.01M97.7 185.3h.01M104.7 164.2h.01" stroke="#ffc4d3" stroke-opacity="0.6" stroke-width="1.3" stroke-linecap="round" fill="none"/>
<path d="M101.9 181.3h.01M108.0 185.8h.01M101.2 142.0h.01M104.6 165.6h.01M104.6 178.9h.01M107.2 187.4h.01M102.3 184.5h.01M107.2 183.0h.01M100.8 181.2h.01M104.7 175.6h.01M99.7 183.5h.01M96.2 160.6h.01M106.2 156.1h.01M101.5 179.4h.01M99.6 165.2h.01M98.5 184.2h.01M104.3 190.0h.01M100.0 182.8h.01M104.5 188.1h.01M101.2 151.7h.01M98.1 181.9h.01M106.7 171.8h.01M100.5 158.4h.01M105.5 172.7h.01M98.7 174.5h.01" stroke="#ffc4d3" stroke-opacity="0.6" stroke-width="1.3" stroke-linecap="round" fill="none"/>
<path d="M106.3 177.7h.01M105.8 174.2h.01M98.4 163.3h.01M98.1 172.0h.01M106.6 168.4h.01M105.4 182.5h.01M101.4 178.9h.01M101.6 175.2h.01M101.0 170.6h.01M107.9 148.8h.01M100.6 178.5h.01M103.0 187.3h.01M101.1 180.8h.01M97.6 190.3h.01M103.8 183.7h.01M101.1 182.6h.01M101.8 187.8h.01M103.5 185.5h.01M99.5 179.7h.01M107.4 148.6h.01M108.2 182.0h.01M102.2 183.0h.01M102.7 169.2h.01M96.9 180.2h.01M104.2 181.8h.01" stroke="#ffc4d3" stroke-opacity="0.6" stroke-width="1.3" stroke-linecap="round" fill="none"/>
<path d="M102.7 171.6h.01M102.4 177.6h.01M99.7 177.0h.01M106.2 176.4h.01M99.0 152.6h.01M99.3 182.9h.01M97.9 179.7h.01M100.6 182.2h.01M106.5 160.5h.01M99.6 180.1h.01M96.3 177.5h.01M97.5 162.1h.01M105.9 180.2h.01M108.1 156.2h.01M108.3 152.6h.01M104.1 182.5h.01M99.7 157.6h.01M102.2 182.9h.01M98.1 186.2h.01M98.7 168.0h.01M101.9 151.2h.01M105.7 154.3h.01M101.7 161.3h.01M103.5 173.0h.01M97.8 160.3h.01" stroke="#ffc4d3" stroke-opacity="0.6" stroke-width="1.3" stroke-linecap="round" fill="none"/>
<path d="M128.8 182.2h.01M129.7 175.9h.01M137.8 193.5h.01M139.7 168.7h.01M138.3 179.8h.01M128.1 180.1h.01M136.9 166.6h.01M128.7 184.8h.01M130.1 171.9h.01M130.2 176.0h.01M138.8 168.2h.01M136.1 178.2h.01M129.9 178.3h.01M133.5 158.4h.01M131.5 176.7h.01M139.3 170.6h.01M134.0 165.3h.01M135.2 182.4h.01M135.0 177.1h.01M132.6 169.5h.01M135.6 152.8h.01M136.5 175.1h.01M140.3 193.1h.01M140.5 183.8h.01M134.8 182.7h.01M134.4 180.6h.01M128.3 170.8h.01M133.8 170.9h.01M135.4 186.6h.01M136.0 166.1h.01M139.3 147.2h.01M136.3 180.7h.01M139.3 143.5h.01M134.5 183.3h.01M128.4 168.9h.01M128.4 178.8h.01M130.3 195.9h.01M131.4 182.4h.01M140.1 155.2h.01M135.2 155.4h.01M139.8 173.4h.01M132.1 179.0h.01M132.7 169.6h.01M133.4 176.3h.01M130.4 179.5h.01M133.2 177.5h.01M132.2 173.1h.01M130.2 168.4h.01M128.6 166.2h.01M137.9 182.4h.01M128.5 164.4h.01M129.6 179.1h.01M133.3 178.0h.01M131.8 176.5h.01M131.7 174.0h.01M140.0 151.8h.01M136.6 183.0h.01M129.4 175.4h.01M134.4 183.2h.01M139.1 174.3h.01M139.7 184.9h.01M133.7 167.4h.01M128.8 190.2h.01M131.7 166.5h.01M139.8 164.9h.01M138.9 175.6h.01M127.7 169.9h.01M140.6 153.7h.01M128.5 154.5h.01M132.7 169.1h.01M134.8 181.9h.01M130.7 164.1h.01M140.5 184.2h.01M134.8 175.0h.01M129.9 147.4h.01M128.2 185.1h.01M135.8 164.5h.01M136.5 169.4h.01M140.6 190.8h.01M130.5 164.9h.01M134.8 176.9h.01M130.1 191.6h.01M136.0 171.4h.01M136.1 176.9h.01" stroke="#9fd8f8" stroke-opacity="0.7" stroke-width="1.2" stroke-linecap="round" fill="none"/>
<path d="M132.6 183.3h.01M139.3 181.7h.01M133.0 183.4h.01M130.8 165.8h.01M127.6 190.5h.01M140.0 177.2h.01M136.7 143.8h.01M134.6 176.4h.01M140.3 168.8h.01M140.5 175.7h.01M129.8 147.7h.01M135.1 152.3h.01M140.6 182.4h.01M140.0 182.6h.01M131.7 191.5h.01M138.5 168.5h.01M127.9 195.5h.01M135.0 167.9h.01M135.6 170.2h.01M137.3 148.5h.01M129.5 182.1h.01M130.2 180.8h.01M131.2 155.5h.01M137.2 165.4h.01M139.4 175.6h.01M132.0 152.0h.01M134.4 192.0h.01M137.4 197.0h.01M137.6 167.7h.01M139.4 172.0h.01M130.0 180.3h.01M138.3 177.4h.01M136.7 194.9h.01M131.4 189.3h.01M127.9 146.8h.01M140.6 154.9h.01M128.7 183.4h.01M130.4 175.0h.01M133.3 176.6h.01M128.2 176.3h.01M134.3 158.4h.01M133.3 169.9h.01M132.2 196.1h.01M134.6 168.5h.01M129.2 182.3h.01M135.1 196.3h.01M130.5 182.1h.01M129.7 166.5h.01M129.8 160.5h.01M132.6 188.4h.01M128.7 172.2h.01M134.5 189.2h.01M137.2 162.1h.01M134.6 160.6h.01M135.1 186.0h.01M134.0 176.0h.01M130.2 170.7h.01M136.6 166.6h.01M139.8 167.7h.01M130.7 176.6h.01M136.2 191.7h.01M139.0 182.7h.01M137.5 182.6h.01M131.6 172.9h.01M130.4 177.9h.01M138.7 170.2h.01M131.8 171.5h.01M135.0 166.6h.01M129.1 174.7h.01M132.4 178.6h.01M135.8 169.5h.01M138.8 181.2h.01M138.0 184.1h.01M128.3 173.3h.01M130.7 171.7h.01M127.7 195.4h.01M136.1 185.1h.01M132.5 172.7h.01M129.3 177.2h.01M135.3 178.3h.01M130.2 183.3h.01M132.5 183.3h.01M138.5 177.9h.01M135.2 178.1h.01" stroke="#9fd8f8" stroke-opacity="0.7" stroke-width="1.2" stroke-linecap="round" fill="none"/>
<path d="M139.5 167.4h.01M135.4 170.9h.01M136.4 170.1h.01M130.2 169.2h.01M131.9 190.7h.01M128.7 146.9h.01M128.5 165.5h.01M132.1 162.5h.01M138.5 188.6h.01M133.1 194.4h.01M139.1 155.3h.01M132.5 178.3h.01M132.8 172.6h.01M133.8 185.5h.01M128.8 179.9h.01M130.4 169.6h.01M133.1 149.5h.01M131.5 172.7h.01M131.6 159.6h.01M127.7 170.2h.01M127.9 180.5h.01M132.2 186.1h.01M130.2 177.0h.01M128.3 181.3h.01M133.6 183.9h.01M134.3 193.5h.01M134.8 171.9h.01M139.9 165.1h.01M130.2 184.7h.01M134.6 165.9h.01M131.7 173.0h.01M130.9 169.0h.01M139.2 165.5h.01M129.4 169.4h.01M128.8 185.4h.01M135.6 170.5h.01M137.4 191.5h.01M137.0 182.2h.01M131.7 194.1h.01M134.5 181.2h.01M133.4 166.2h.01M132.5 177.5h.01M135.8 175.2h.01M128.3 142.4h.01M132.2 146.0h.01M139.1 182.4h.01M131.4 187.5h.01M128.7 159.7h.01M137.3 183.4h.01M127.9 166.8h.01M131.2 163.0h.01M139.5 181.1h.01M128.4 161.6h.01M134.3 166.0h.01M139.3 160.6h.01M133.1 190.9h.01M133.0 177.0h.01M132.4 187.5h.01M136.9 160.1h.01M136.5 162.2h.01M135.3 174.7h.01M140.5 173.6h.01M132.3 166.1h.01M134.5 174.1h.01M131.4 176.7h.01M140.6 170.5h.01M136.0 182.3h.01M134.5 174.8h.01M138.3 174.6h.01M129.3 181.8h.01M132.2 166.4h.01M133.8 181.8h.01M139.0 172.6h.01M128.7 162.0h.01M136.1 189.8h.01M139.4 167.0h.01M130.0 185.9h.01M134.7 164.3h.01M127.6 184.7h.01M131.0 158.5h.01M132.8 172.7h.01M139.8 184.4h.01M129.3 177.3h.01" stroke="#9fd8f8" stroke-opacity="0.7" stroke-width="1.2" stroke-linecap="round" fill="none"/>
<path d="M129.4 172.4h.01M131.4 180.6h.01M136.5 181.4h.01M132.0 186.6h.01M138.8 182.4h.01M138.5 177.5h.01M128.4 145.4h.01M134.7 189.9h.01M130.1 180.0h.01M129.6 182.9h.01M137.9 184.9h.01M127.5 182.0h.01M134.0 174.6h.01M133.5 195.9h.01M130.4 172.1h.01M133.9 164.6h.01M139.8 186.4h.01M129.6 150.1h.01M136.5 158.2h.01M129.0 177.0h.01M134.0 183.0h.01M138.0 179.1h.01M136.9 165.7h.01M128.4 175.5h.01M132.4 177.3h.01M129.0 180.0h.01M132.0 182.5h.01M133.6 168.1h.01M129.2 170.6h.01M136.5 158.5h.01M128.8 142.8h.01M130.6 163.7h.01M131.2 166.1h.01M129.2 175.1h.01M139.8 179.9h.01M133.7 186.0h.01M138.4 142.5h.01M136.1 165.6h.01M127.6 176.4h.01M135.0 177.9h.01M132.4 167.9h.01M135.7 181.4h.01M136.1 153.9h.01M130.4 172.3h.01M140.3 187.1h.01M139.1 182.6h.01M138.3 180.7h.01M130.1 184.8h.01M136.8 145.8h.01M136.1 148.3h.01M134.2 185.0h.01M134.2 156.9h.01M134.0 182.6h.01M140.0 177.5h.01M134.7 144.1h.01M140.6 172.8h.01M132.7 183.6h.01M136.7 186.3h.01M129.7 177.8h.01M128.2 181.3h.01M140.6 154.1h.01M137.0 159.1h.01M130.5 152.3h.01M138.6 184.7h.01M137.8 179.1h.01M133.1 193.0h.01M130.3 170.8h.01M133.2 151.5h.01M133.6 169.2h.01M134.3 170.1h.01M130.8 166.1h.01M127.7 174.1h.01M128.7 166.7h.01M129.9 175.9h.01M129.3 186.9h.01M129.4 195.8h.01M133.4 143.7h.01M139.6 174.3h.01M134.9 156.0h.01M129.4 167.2h.01M139.5 176.0h.01M131.5 181.1h.01M138.0 182.6h.01" stroke="#9fd8f8" stroke-opacity="0.7" stroke-width="1.2" stroke-linecap="round" fill="none"/>
<path d="M129.3 179.2h.01M136.1 166.1h.01M132.7 155.6h.01M131.5 151.1h.01M138.7 177.4h.01M128.3 184.6h.01M136.1 183.3h.01M131.8 184.1h.01M138.7 169.9h.01M140.0 172.5h.01M129.2 186.5h.01M137.0 182.3h.01M133.0 181.3h.01M127.6 177.0h.01M136.8 174.8h.01M139.4 154.1h.01M138.7 175.7h.01M140.3 169.4h.01M135.9 184.4h.01M135.8 141.6h.01M137.5 178.8h.01M131.9 182.4h.01M138.5 178.6h.01M138.7 177.1h.01M132.5 183.4h.01M135.6 176.7h.01M132.7 167.5h.01M136.7 182.0h.01M135.8 158.9h.01M128.9 180.8h.01M128.9 180.9h.01M140.0 194.1h.01M128.5 184.4h.01M139.7 159.3h.01M138.1 165.6h.01M135.9 157.7h.01M138.7 182.8h.01M133.6 179.8h.01M129.0 177.5h.01M135.5 190.5h.01M137.1 173.8h.01M136.0 159.8h.01M137.9 179.8h.01M140.6 182.5h.01M138.9 158.5h.01M138.1 180.3h.01M134.1 196.5h.01M131.6 185.7h.01M130.1 177.0h.01M130.1 183.2h.01M128.0 166.2h.01M131.8 170.3h.01M139.5 166.1h.01M140.5 165.3h.01M131.9 176.4h.01M136.1 190.6h.01M136.8 190.7h.01M138.9 195.6h.01M139.8 177.0h.01M138.7 184.0h.01M138.1 173.3h.01M138.4 184.0h.01M130.9 177.5h.01M128.7 164.7h.01M136.9 180.5h.01M137.4 183.1h.01M128.4 167.7h.01M134.5 183.0h.01M139.7 184.4h.01M137.4 177.8h.01M135.7 186.1h.01M130.1 187.0h.01M128.0 166.1h.01M136.9 177.7h.01M140.2 169.0h.01M132.8 192.2h.01M140.6 169.7h.01M132.5 165.9h.01M135.3 151.3h.01M127.6 187.3h.01M137.3 176.8h.01M132.3 190.0h.01M129.8 191.2h.01" stroke="#9fd8f8" stroke-opacity="0.7" stroke-width="1.2" stroke-linecap="round" fill="none"/>
<path d="M135.0 181.6h.01M128.1 149.5h.01M139.0 168.7h.01M137.4 153.9h.01M132.4 176.3h.01M128.6 182.9h.01M133.2 183.9h.01M136.3 147.3h.01M130.1 184.0h.01M134.8 176.8h.01M132.2 186.4h.01M133.3 165.3h.01M139.3 177.8h.01M134.0 184.7h.01M134.0 195.6h.01M134.6 179.7h.01M133.6 181.8h.01M139.9 162.5h.01M140.6 181.1h.01M129.1 174.3h.01M130.2 185.2h.01M130.2 166.4h.01M136.3 152.5h.01M131.0 173.0h.01M130.0 174.3h.01M137.2 179.8h.01M130.5 174.9h.01M131.7 178.1h.01M134.9 182.1h.01M130.4 173.7h.01M134.4 176.2h.01M138.6 174.6h.01M134.4 174.4h.01M131.2 155.1h.01M134.6 196.1h.01M132.2 177.0h.01M138.7 179.1h.01M135.3 172.6h.01M139.1 182.0h.01M130.0 171.6h.01M135.4 172.7h.01M135.9 174.8h.01M139.1 185.9h.01M131.3 174.9h.01M140.5 174.0h.01M139.8 167.6h.01M129.5 175.7h.01M132.6 147.0h.01M131.9 180.7h.01M127.6 162.8h.01M129.1 168.0h.01M134.7 176.8h.01M128.2 165.9h.01M137.6 184.8h.01M131.0 186.5h.01M140.3 192.2h.01M132.7 146.9h.01M138.5 190.6h.01M136.7 195.1h.01M139.6 184.5h.01M140.6 182.4h.01M128.7 167.6h.01M138.5 166.7h.01M137.3 182.5h.01M127.7 172.4h.01M136.2 181.3h.01M139.2 191.4h.01M138.1 178.0h.01M128.1 160.4h.01M129.6 175.9h.01M138.2 162.5h.01M128.6 165.4h.01M133.6 151.7h.01M131.2 166.2h.01M137.3 190.2h.01M130.0 180.6h.01M129.0 174.1h.01M132.5 172.2h.01M136.3 181.5h.01M135.1 173.0h.01M133.9 190.9h.01M139.2 165.7h.01M136.5 171.0h.01" stroke="#9fd8f8" stroke-opacity="0.7" stroke-width="1.2" stroke-linecap="round" fill="none"/>
<rect x="149.70" y="115.40" width="14.20" height="90.40" fill="#ecc3cb" />
<text x="156.80" y="160.10" font-size="9" text-anchor="middle" fill="#1a1a1a" font-weight="normal" stroke="#1a1a1a" stroke-width="0.22" transform="rotate(90 156.80 160.10)" dominant-baseline="central">Donor age<tspan dy="-2.5" font-size="8" stroke-width="0.45">•</tspan></text>
<line x1="21.45" y1="209.50" x2="21.45" y2="299.90" stroke="#1a1a1a" stroke-width="1.0" />
<line x1="18.05" y1="221.40" x2="21.45" y2="221.40" stroke="#333333" stroke-width="1.1" />
<text x="15.05" y="224.50" font-size="8" text-anchor="end" fill="#222" font-weight="normal" stroke="#222" stroke-width="0.22" >20</text>
<line x1="18.05" y1="240.70" x2="21.45" y2="240.70" stroke="#333333" stroke-width="1.1" />
<text x="15.05" y="243.80" font-size="8" text-anchor="end" fill="#222" font-weight="normal" stroke="#222" stroke-width="0.22" >15</text>
<line x1="18.05" y1="260.00" x2="21.45" y2="260.00" stroke="#333333" stroke-width="1.1" />
<text x="15.05" y="263.10" font-size="8" text-anchor="end" fill="#222" font-weight="normal" stroke="#222" stroke-width="0.22" >10</text>
<line x1="18.05" y1="279.30" x2="21.45" y2="279.30" stroke="#333333" stroke-width="1.1" />
<text x="15.05" y="282.40" font-size="8" text-anchor="end" fill="#222" font-weight="normal" stroke="#222" stroke-width="0.22" >5</text>
<line x1="18.05" y1="298.60" x2="21.45" y2="298.60" stroke="#333333" stroke-width="1.1" />
<text x="15.05" y="301.70" font-size="8" text-anchor="end" fill="#222" font-weight="normal" stroke="#222" stroke-width="0.22" >0</text>
<line x1="87.45" y1="209.50" x2="87.45" y2="299.90" stroke="#1a1a1a" stroke-width="1.0" />
<line x1="20.95" y1="299.40" x2="83.30" y2="299.40" stroke="#1a1a1a" stroke-width="1.0" />
<line x1="86.95" y1="299.40" x2="149.70" y2="299.40" stroke="#1a1a1a" stroke-width="1.0" />
<line x1="35.75" y1="233.80" x2="35.75" y2="293.30" stroke="#363636" stroke-width="1.1" />
<line x1="27.65" y1="233.80" x2="43.85" y2="233.80" stroke="#363636" stroke-width="1.1" />
<line x1="27.65" y1="293.30" x2="43.85" y2="293.30" stroke="#363636" stroke-width="1.1" />
<rect x="22.70" y="261.60" width="26.10" height="19.80" fill="#c8102e" stroke="#111" stroke-width="0.6"/>
<line x1="22.70" y1="275.90" x2="48.80" y2="275.90" stroke="#0a0a0a" stroke-width="1.3" />
<line x1="67.60" y1="212.90" x2="67.60" y2="296.40" stroke="#363636" stroke-width="1.1" />
<line x1="59.50" y1="212.90" x2="75.70" y2="212.90" stroke="#363636" stroke-width="1.1" />
<line x1="59.50" y1="296.40" x2="75.70" y2="296.40" stroke="#363636" stroke-width="1.1" />
<rect x="54.90" y="254.00" width="25.40" height="28.10" fill="#17578c" stroke="#111" stroke-width="0.6"/>
<line x1="54.90" y1="274.50" x2="80.30" y2="274.50" stroke="#0a0a0a" stroke-width="1.3" />
<path d="M34.7 291.1h.01M39.5 279.1h.01M33.3 239.4h.01M31.9 267.6h.01M37.2 278.7h.01M37.7 253.8h.01M40.1 270.3h.01M32.0 256.9h.01M31.9 256.5h.01M41.3 283.8h.01M38.2 292.6h.01M39.0 248.3h.01M30.9 271.3h.01M38.0 266.7h.01M38.9 280.4h.01M32.7 284.9h.01M39.4 280.2h.01M40.2 280.4h.01M29.9 282.6h.01M38.5 264.5h.01M30.2 265.0h.01M38.1 273.2h.01M33.0 270.4h.01M34.1 284.1h.01M34.5 275.0h.01M29.7 279.4h.01M40.4 287.5h.01M35.1 268.2h.01M33.5 258.3h.01" stroke="#ffc4d3" stroke-opacity="0.6" stroke-width="1.3" stroke-linecap="round" fill="none"/>
<path d="M33.8 238.8h.01M40.9 278.9h.01M40.9 286.0h.01M38.0 282.1h.01M39.9 261.6h.01M36.7 241.7h.01M40.7 276.9h.01M33.9 284.6h.01M39.9 289.3h.01M30.1 250.7h.01M41.8 277.1h.01M31.4 268.1h.01M38.6 246.2h.01M32.0 279.7h.01M30.4 262.3h.01M39.6 275.8h.01M40.1 243.8h.01M35.9 281.6h.01M38.4 264.2h.01M41.4 272.0h.01M36.8 281.4h.01M39.7 283.0h.01M41.7 250.2h.01M38.8 277.8h.01M30.6 293.0h.01M33.2 260.4h.01M34.7 290.0h.01M39.3 282.6h.01M36.8 259.9h.01" stroke="#ffc4d3" stroke-opacity="0.6" stroke-width="1.3" stroke-linecap="round" fill="none"/>
<path d="M41.7 268.9h.01M40.3 276.2h.01M38.6 259.9h.01M37.8 235.1h.01M36.5 283.5h.01M29.6 258.3h.01M34.5 264.2h.01M31.3 277.0h.01M32.6 266.1h.01M32.0 268.2h.01M38.3 260.8h.01M36.8 281.3h.01M41.2 279.3h.01M36.6 267.1h.01M41.9 270.4h.01M39.1 261.2h.01M30.2 256.7h.01M38.6 256.2h.01M30.0 283.9h.01M37.6 276.4h.01M33.6 291.9h.01M39.5 269.7h.01M38.7 267.1h.01M32.0 285.0h.01M40.4 282.0h.01M35.7 282.8h.01M30.3 280.5h.01M40.1 246.1h.01" stroke="#ffc4d3" stroke-opacity="0.6" stroke-width="1.3" stroke-linecap="round" fill="none"/>
<path d="M34.7 276.7h.01M34.6 286.4h.01M30.9 257.5h.01M30.0 275.7h.01M36.4 269.8h.01M39.7 275.3h.01M33.3 269.3h.01M36.2 259.7h.01M35.6 250.5h.01M39.2 251.6h.01M37.2 271.0h.01M38.2 261.6h.01M29.9 280.6h.01M31.6 290.6h.01M41.8 269.8h.01M32.8 268.0h.01M31.3 281.8h.01M29.9 273.4h.01M33.4 271.6h.01M33.3 290.2h.01M34.2 259.5h.01M37.9 243.3h.01M41.8 279.3h.01M35.4 267.7h.01M33.1 283.5h.01M33.6 285.4h.01M35.0 280.4h.01M35.5 278.7h.01" stroke="#ffc4d3" stroke-opacity="0.6" stroke-width="1.3" stroke-linecap="round" fill="none"/>
<path d="M32.4 258.7h.01M40.2 291.4h.01M40.4 267.4h.01M33.3 284.8h.01M34.3 270.3h.01M34.4 283.0h.01M35.6 290.4h.01M37.6 280.9h.01M37.0 262.7h.01M39.9 261.1h.01M32.3 292.8h.01M33.5 279.5h.01M34.2 265.0h.01M30.7 277.4h.01M32.3 281.9h.01M40.2 292.9h.01M31.2 287.0h.01M30.8 251.7h.01M40.3 279.3h.01M34.9 280.3h.01M38.9 284.6h.01M32.9 280.4h.01M37.9 276.3h.01M35.0 252.8h.01M38.2 272.6h.01M31.9 287.6h.01M32.8 265.1h.01M32.6 291.8h.01" stroke="#ffc4d3" stroke-opacity="0.6" stroke-width="1.3" stroke-linecap="round" fill="none"/>
<path d="M33.3 266.3h.01M35.3 251.9h.01M34.8 276.4h.01M31.2 264.9h.01M37.8 281.7h.01M36.3 237.2h.01M33.3 290.7h.01M35.7 287.0h.01M30.1 289.6h.01M38.5 278.5h.01M38.3 281.2h.01M34.7 284.5h.01M35.0 258.9h.01M34.5 274.5h.01M32.5 279.7h.01M32.7 286.1h.01M30.2 279.9h.01M37.4 241.1h.01M31.0 272.2h.01M31.0 275.3h.01M34.7 254.3h.01M39.6 278.7h.01M36.0 278.0h.01M33.9 257.9h.01M33.4 267.4h.01M33.6 274.3h.01M40.7 278.6h.01M32.1 281.6h.01" stroke="#ffc4d3" stroke-opacity="0.6" stroke-width="1.3" stroke-linecap="round" fill="none"/>
<path d="M73.0 285.3h.01M69.3 226.8h.01M70.5 270.5h.01M72.4 281.0h.01M63.1 291.3h.01M72.8 274.6h.01M68.8 294.3h.01M73.4 283.8h.01M62.7 227.9h.01M64.0 282.1h.01M69.9 292.1h.01M67.0 288.4h.01M65.7 275.6h.01M67.2 283.7h.01M65.6 289.9h.01M73.9 256.3h.01M73.5 263.0h.01M70.3 283.1h.01M73.5 281.7h.01M68.2 296.2h.01M67.3 281.8h.01M71.4 247.8h.01M68.7 289.0h.01M65.7 275.6h.01M61.1 234.8h.01M65.4 278.9h.01M67.9 280.0h.01M62.1 275.9h.01M61.9 295.7h.01M69.5 283.5h.01M62.2 274.1h.01M63.7 244.5h.01M62.6 278.0h.01M71.1 294.0h.01M70.1 278.3h.01M66.2 281.1h.01M71.3 285.8h.01M63.4 244.1h.01M74.2 293.1h.01M65.5 245.0h.01M71.7 253.6h.01M68.5 283.6h.01M65.5 285.7h.01M72.7 291.4h.01M69.6 270.1h.01M62.1 274.9h.01M72.6 294.9h.01M68.1 275.1h.01M63.5 261.5h.01M69.0 284.2h.01M69.0 275.1h.01M68.1 253.9h.01M65.2 280.5h.01M65.2 219.5h.01M63.7 258.4h.01M71.9 290.9h.01M63.9 267.0h.01M67.2 265.2h.01M73.6 277.1h.01M73.4 280.6h.01M67.0 287.7h.01M71.7 268.5h.01M63.4 258.3h.01M72.0 279.1h.01M72.3 294.8h.01M63.7 252.2h.01M71.4 277.6h.01M70.6 247.5h.01M69.4 272.8h.01M62.1 281.1h.01M72.2 289.0h.01M66.5 292.8h.01M69.5 260.3h.01M71.0 292.2h.01M65.5 283.2h.01M70.6 269.4h.01M70.2 270.9h.01M69.5 291.7h.01M72.4 245.5h.01M64.5 252.5h.01M70.1 295.3h.01M61.9 266.5h.01M72.0 275.4h.01M62.6 280.0h.01M68.3 263.9h.01M63.6 221.5h.01M71.0 270.7h.01M62.5 285.7h.01M71.4 283.9h.01M66.8 278.4h.01M73.4 255.5h.01M61.3 283.7h.01M69.3 282.8h.01M64.9 286.5h.01M73.4 277.8h.01M61.7 277.8h.01M69.7 213.0h.01M62.9 289.0h.01M63.0 232.0h.01M71.8 280.0h.01M66.5 277.3h.01M66.9 278.1h.01M62.8 260.5h.01M73.5 290.4h.01M66.3 252.0h.01M70.3 279.9h.01M72.3 276.0h.01M69.1 258.7h.01M69.6 251.8h.01M66.3 279.8h.01M73.5 275.3h.01M70.9 255.1h.01M74.0 260.6h.01M65.6 275.1h.01M61.0 262.2h.01M71.1 263.3h.01M72.8 277.3h.01M73.3 281.8h.01M67.1 226.2h.01M72.6 250.4h.01M65.8 228.9h.01M62.2 258.5h.01M65.9 283.1h.01M66.5 281.4h.01M69.2 257.0h.01M64.6 269.9h.01M66.5 260.2h.01M65.6 239.9h.01M72.2 276.5h.01M64.6 257.3h.01M66.7 252.8h.01M72.4 262.0h.01M62.6 263.6h.01M65.0 264.5h.01M66.5 293.2h.01M73.6 280.0h.01M70.5 241.6h.01M66.5 269.0h.01M61.5 292.8h.01M71.2 227.5h.01M67.9 282.8h.01M70.9 234.4h.01M61.7 271.9h.01M67.4 274.6h.01M63.9 262.8h.01M65.6 229.4h.01M66.1 285.6h.01M71.7 277.3h.01M72.4 279.4h.01M71.1 249.5h.01M61.3 274.7h.01M64.0 289.7h.01M65.5 290.4h.01M67.8 279.7h.01M65.5 294.5h.01M70.5 290.7h.01M63.3 277.9h.01M73.5 278.7h.01M74.1 253.9h.01M69.3 262.4h.01M68.2 265.1h.01M70.7 253.7h.01M67.3 274.9h.01M73.8 287.6h.01M69.4 283.2h.01M64.8 280.4h.01M63.6 294.6h.01M61.1 253.2h.01M72.2 279.2h.01M62.5 279.9h.01M67.0 272.1h.01M65.6 295.9h.01M68.9 280.7h.01M66.5 290.3h.01M65.2 257.0h.01M71.4 263.7h.01M68.0 252.2h.01M69.1 274.8h.01M62.1 274.6h.01M61.9 293.5h.01M65.2 278.4h.01M70.5 296.0h.01M67.6 240.4h.01M61.5 274.7h.01M64.0 280.6h.01M63.3 253.9h.01M70.9 271.8h.01M65.0 295.4h.01M73.3 275.2h.01M67.1 291.5h.01M61.8 287.8h.01M73.6 275.0h.01M72.6 245.7h.01M64.4 288.7h.01M70.0 276.3h.01M68.1 245.3h.01M64.9 294.5h.01M64.9 279.9h.01M65.6 229.0h.01M68.0 248.9h.01M71.2 288.1h.01M68.8 279.0h.01M63.8 277.6h.01M61.9 283.8h.01M63.3 281.7h.01M70.3 274.8h.01M68.2 282.5h.01M62.0 280.3h.01M67.7 283.8h.01M71.2 278.1h.01M64.8 272.4h.01M70.6 281.8h.01M61.7 265.7h.01M65.2 218.9h.01M63.2 282.9h.01M61.5 283.4h.01M69.9 275.2h.01M62.3 289.1h.01M65.3 256.2h.01M61.4 295.0h.01M62.0 274.7h.01M64.6 291.3h.01M73.3 242.1h.01M63.8 240.3h.01M61.8 291.6h.01M73.5 240.3h.01M64.7 260.9h.01M66.2 281.2h.01M61.7 265.3h.01M70.8 259.7h.01M72.6 278.5h.01M66.7 280.2h.01M70.0 281.3h.01M61.6 276.1h.01M63.9 292.0h.01M73.6 275.7h.01M63.3 291.9h.01M63.8 282.5h.01M66.7 236.2h.01M64.6 278.8h.01M66.0 256.9h.01M65.8 271.1h.01M67.2 246.5h.01M64.7 277.9h.01M61.9 285.9h.01M64.2 292.8h.01M66.2 267.2h.01M71.2 280.4h.01M68.2 293.8h.01M71.8 272.8h.01M72.5 286.9h.01M61.5 294.5h.01M69.8 271.3h.01M62.7 290.2h.01M68.6 290.0h.01M73.4 253.9h.01M66.7 281.1h.01M73.1 279.1h.01M63.8 249.1h.01M72.1 285.6h.01M71.3 235.8h.01M64.1 264.9h.01M72.0 266.7h.01M72.9 262.7h.01M71.3 288.4h.01M73.8 276.9h.01M65.3 275.0h.01M73.0 255.7h.01M64.5 257.3h.01M73.3 264.1h.01M65.3 268.9h.01M69.1 254.0h.01M63.1 277.5h.01M63.9 271.6h.01M62.5 263.0h.01M61.4 218.5h.01M69.4 232.4h.01M64.8 291.1h.01M67.6 273.8h.01M70.2 281.4h.01M66.3 271.2h.01M68.4 292.7h.01M72.4 277.9h.01M65.4 278.7h.01M70.3 273.5h.01M71.2 288.7h.01M71.1 296.3h.01M66.1 265.1h.01" stroke="#9fd8f8" stroke-opacity="0.7" stroke-width="1.2" stroke-linecap="round" fill="none"/>
<path d="M68.8 273.2h.01M63.5 295.4h.01M71.5 259.3h.01M62.9 258.3h.01M62.1 228.5h.01M74.2 240.0h.01M70.3 252.6h.01M66.7 258.3h.01M65.9 283.7h.01M67.9 295.6h.01M68.6 239.7h.01M65.1 275.3h.01M65.2 279.0h.01M72.1 283.7h.01M62.2 291.5h.01M73.0 240.8h.01M61.6 255.8h.01M68.4 288.0h.01M68.8 273.3h.01M72.4 269.9h.01M64.1 266.9h.01M64.5 277.4h.01M64.8 264.3h.01M69.9 283.9h.01M62.5 276.8h.01M71.0 285.5h.01M73.7 235.5h.01M70.2 258.0h.01M62.1 280.2h.01M72.9 281.7h.01M67.9 287.7h.01M72.5 276.1h.01M67.1 291.9h.01M68.8 285.5h.01M65.8 215.9h.01M66.4 223.8h.01M73.5 270.7h.01M71.2 261.8h.01M73.6 215.2h.01M65.6 291.4h.01M64.3 282.4h.01M73.6 279.9h.01M65.0 265.2h.01M64.0 252.8h.01M70.8 276.4h.01M62.2 277.0h.01M64.1 229.6h.01M70.2 288.1h.01M66.9 285.2h.01M63.0 275.7h.01M62.7 223.9h.01M71.1 259.5h.01M72.8 293.0h.01M69.0 281.6h.01M67.6 266.8h.01M71.6 295.4h.01M62.1 281.6h.01M64.6 246.8h.01M65.8 275.5h.01M71.5 295.6h.01M71.1 255.7h.01M66.8 278.6h.01M70.2 270.7h.01M73.2 279.8h.01M64.2 294.0h.01M73.5 240.6h.01M68.9 295.5h.01M69.6 271.0h.01M64.6 280.9h.01M67.2 246.0h.01M62.7 275.7h.01M62.1 278.4h.01M66.1 271.9h.01M62.8 276.5h.01M64.4 290.1h.01M62.8 224.5h.01M68.8 293.9h.01M61.4 281.2h.01M66.6 289.7h.01M71.2 283.6h.01M74.2 283.7h.01M68.9 282.0h.01M63.0 266.9h.01M61.3 268.5h.01M73.6 241.5h.01M63.3 231.9h.01M65.0 292.7h.01M71.2 280.0h.01M62.6 277.5h.01M68.4 256.1h.01M61.8 269.4h.01M71.4 287.9h.01M74.1 276.3h.01M66.6 293.9h.01M65.6 275.1h.01M64.1 272.9h.01M71.0 272.9h.01M69.4 281.2h.01M68.2 250.8h.01M72.5 268.0h.01M64.4 278.7h.01M71.5 288.4h.01M67.4 285.7h.01M64.2 279.7h.01M61.0 283.1h.01M73.2 279.9h.01M73.4 294.3h.01M73.2 257.3h.01M69.1 222.1h.01M74.1 267.7h.01M73.5 280.4h.01M64.7 273.0h.01M69.8 293.7h.01M64.5 278.8h.01M63.3 246.7h.01M66.2 288.3h.01M66.0 267.5h.01M72.8 251.2h.01M71.8 236.1h.01M61.5 284.3h.01M67.6 237.1h.01M62.5 274.5h.01M66.9 296.2h.01M64.0 236.6h.01M68.1 293.8h.01M69.4 279.3h.01M69.9 266.8h.01M69.3 274.2h.01M68.4 264.3h.01M67.4 293.0h.01M64.5 279.4h.01M73.1 282.3h.01M69.8 289.8h.01M63.2 266.4h.01M69.6 285.1h.01M66.7 254.8h.01M68.4 269.1h.01M62.8 254.5h.01M68.5 264.4h.01M64.5 277.8h.01M64.6 279.4h.01M63.7 277.4h.01M65.2 275.7h.01M71.2 288.9h.01M69.4 271.5h.01M71.7 261.1h.01M74.1 279.9h.01M66.1 282.8h.01M62.2 291.6h.01M73.6 278.6h.01M72.9 253.9h.01M73.2 275.0h.01M72.2 289.7h.01M65.5 275.4h.01M65.3 281.1h.01M68.5 258.7h.01M61.1 257.7h.01M62.2 282.4h.01M65.8 257.3h.01M70.4 281.7h.01M65.4 280.4h.01M63.7 288.1h.01M67.6 276.9h.01M65.0 283.3h.01M72.8 234.7h.01M72.3 280.4h.01M64.8 276.9h.01M69.3 236.0h.01M68.0 296.2h.01M62.3 278.5h.01M68.6 277.2h.01M69.8 270.4h.01M65.2 294.1h.01M72.1 280.6h.01M70.3 287.7h.01M66.9 293.3h.01M72.9 279.8h.01M61.4 282.9h.01M65.8 295.9h.01M70.2 285.6h.01M64.5 289.6h.01M66.8 225.7h.01M61.8 279.2h.01M73.6 281.0h.01M71.4 275.7h.01M74.0 276.1h.01M61.3 279.6h.01M62.2 276.9h.01M62.0 284.3h.01M63.2 275.1h.01M70.2 280.9h.01M62.7 261.6h.01M74.2 272.7h.01M70.1 284.1h.01M67.2 281.6h.01M70.6 279.5h.01M63.6 263.2h.01M67.2 263.3h.01M67.5 232.7h.01M72.0 261.2h.01M67.8 279.5h.01M73.4 260.0h.01M65.2 290.6h.01M64.0 259.9h.01M69.2 280.1h.01M65.9 279.5h.01M67.7 263.0h.01M70.0 274.7h.01M67.6 223.8h.01M61.8 280.3h.01M67.8 283.0h.01M67.9 276.7h.01M72.9 280.5h.01M72.7 286.1h.01M62.6 277.9h.01M72.5 277.3h.01M63.2 228.1h.01M73.1 252.7h.01M72.2 272.7h.01M73.0 281.7h.01M73.3 276.0h.01M71.6 260.0h.01M68.4 263.1h.01M67.0 271.0h.01M67.6 256.4h.01M61.9 291.2h.01M70.2 294.5h.01M65.7 295.8h.01M65.9 250.8h.01M72.8 256.0h.01M61.7 283.2h.01M70.5 253.8h.01M62.7 276.9h.01M68.2 293.9h.01M70.5 253.7h.01M66.5 286.5h.01M74.1 287.1h.01M70.4 290.2h.01M67.6 218.6h.01M66.7 275.9h.01M61.1 280.9h.01M65.0 250.4h.01M68.4 271.0h.01M73.9 279.1h.01M73.3 252.0h.01M69.3 279.0h.01M70.0 278.5h.01M64.3 272.5h.01M67.8 279.7h.01M65.2 256.7h.01M69.5 270.5h.01M69.3 287.1h.01M71.2 223.0h.01M66.2 289.8h.01M63.7 294.3h.01M61.3 282.1h.01M70.7 269.9h.01M64.8 220.7h.01M65.6 222.8h.01M68.6 255.6h.01M61.3 251.7h.01M67.8 259.2h.01M68.2 267.4h.01M71.7 255.3h.01M62.5 264.1h.01M68.8 294.2h.01M64.6 268.4h.01M73.9 280.1h.01M63.9 276.0h.01M65.6 277.2h.01M66.4 262.2h.01M73.9 292.0h.01M70.4 284.3h.01M73.7 294.4h.01M73.6 214.1h.01M63.3 233.1h.01M72.7 294.7h.01M63.5 278.3h.01M67.3 269.7h.01M68.7 267.1h.01M68.1 287.8h.01M65.3 282.9h.01M71.5 282.0h.01M62.1 271.6h.01M68.3 274.7h.01M68.3 277.8h.01M62.4 253.8h.01M71.2 271.1h.01M69.1 288.7h.01M69.9 261.0h.01M65.3 259.4h.01M61.6 276.5h.01M62.9 272.1h.01M72.2 278.8h.01M73.8 280.1h.01M61.8 271.7h.01M61.9 276.8h.01" stroke="#9fd8f8" stroke-opacity="0.7" stroke-width="1.2" stroke-linecap="round" fill="none"/>
<path d="M67.5 252.7h.01M67.7 267.7h.01M71.8 256.8h.01M65.2 287.5h.01M72.5 224.4h.01M70.4 276.6h.01M68.9 276.3h.01M71.1 294.5h.01M66.8 253.6h.01M61.4 277.2h.01M68.7 280.0h.01M70.5 260.5h.01M70.6 248.3h.01M66.6 260.7h.01M73.6 256.4h.01M73.8 277.7h.01M67.5 286.5h.01M61.6 253.7h.01M63.2 293.1h.01M64.2 279.7h.01M72.9 256.6h.01M66.4 277.1h.01M68.7 277.4h.01M64.7 268.4h.01M63.9 266.7h.01M66.1 287.1h.01M73.2 288.5h.01M65.0 295.9h.01M63.8 268.4h.01M65.4 287.6h.01M66.4 264.3h.01M62.3 264.5h.01M62.5 251.4h.01M65.1 220.5h.01M69.0 278.1h.01M63.6 283.4h.01M63.6 227.7h.01M72.5 274.9h.01M70.4 275.6h.01M70.1 294.6h.01M72.5 284.2h.01M72.5 255.6h.01M65.2 277.6h.01M65.6 280.2h.01M63.3 237.6h.01M63.5 292.9h.01M70.1 278.1h.01M74.1 232.9h.01M73.8 277.1h.01M64.9 274.9h.01M71.5 275.0h.01M65.8 277.5h.01M63.0 249.8h.01M62.6 275.5h.01M67.6 280.6h.01M73.6 280.6h.01M63.9 282.8h.01M73.0 295.7h.01M66.1 295.0h.01M69.6 293.2h.01M64.7 277.0h.01M65.6 295.0h.01M67.8 263.5h.01M62.6 281.9h.01M71.1 274.7h.01M67.6 280.5h.01M67.8 280.4h.01M66.3 254.0h.01M71.2 282.7h.01M71.3 279.0h.01M61.2 257.3h.01M63.2 275.8h.01M69.2 276.6h.01M68.8 285.8h.01M67.2 254.9h.01M72.9 248.3h.01M70.1 281.2h.01M62.2 295.7h.01M64.0 286.0h.01M65.1 268.6h.01M74.0 293.5h.01M65.0 289.0h.01M63.5 282.4h.01M67.6 289.1h.01M61.2 250.4h.01M67.8 275.3h.01M74.0 254.4h.01M65.5 254.3h.01M65.8 284.0h.01M73.4 262.4h.01M62.0 290.6h.01M68.6 280.1h.01M68.8 255.0h.01M65.0 286.3h.01M69.0 268.6h.01M61.2 283.0h.01M67.8 278.8h.01M62.9 280.3h.01M63.5 279.7h.01M71.3 277.9h.01M61.4 283.4h.01M61.4 288.7h.01M72.1 292.5h.01M71.3 267.5h.01M63.4 286.6h.01M61.0 273.7h.01M65.8 247.7h.01M66.3 266.2h.01M69.8 254.0h.01M62.7 253.7h.01M71.9 278.5h.01M71.9 244.8h.01M63.4 291.2h.01M63.6 281.1h.01M71.5 255.8h.01M67.1 277.1h.01M67.3 272.1h.01M69.0 280.1h.01M68.6 279.5h.01M65.3 254.7h.01M69.0 278.9h.01M65.1 261.8h.01M71.3 282.9h.01M71.8 280.4h.01M67.4 233.1h.01M73.6 219.3h.01M69.2 269.1h.01M63.0 288.3h.01M72.3 234.4h.01M72.9 272.8h.01M61.8 295.4h.01M66.9 264.3h.01M64.2 290.2h.01M67.2 280.5h.01M66.2 220.4h.01M71.0 253.5h.01M65.5 279.4h.01M62.1 270.2h.01M67.6 262.7h.01M65.3 279.6h.01M61.0 259.7h.01M63.0 268.1h.01M64.8 242.8h.01M65.8 280.0h.01M67.7 281.1h.01M65.1 294.3h.01M64.7 275.8h.01M72.8 265.9h.01M70.1 280.9h.01M74.1 242.0h.01M66.7 284.3h.01M71.0 267.5h.01M62.9 268.4h.01M64.6 287.7h.01M69.9 249.6h.01M62.1 289.6h.01M66.7 288.9h.01M71.6 226.2h.01M68.5 296.0h.01M63.7 277.7h.01M69.0 276.1h.01M61.5 293.1h.01M67.1 265.1h.01M63.2 243.2h.01M71.6 255.3h.01M73.2 277.6h.01M67.0 290.4h.01M64.3 277.0h.01M66.5 284.5h.01M72.1 247.4h.01M70.8 280.8h.01M74.0 287.0h.01M61.8 257.2h.01M63.9 285.4h.01M63.2 278.7h.01M68.6 217.9h.01M73.3 278.1h.01M72.0 282.1h.01M69.6 279.9h.01M64.9 277.7h.01M70.7 282.9h.01M71.7 264.6h.01M71.5 265.9h.01M73.8 253.9h.01M64.9 294.6h.01M73.5 229.0h.01M63.1 250.5h.01M63.8 289.4h.01M63.6 282.8h.01M70.1 288.9h.01M61.2 276.6h.01M71.5 292.1h.01M70.0 266.8h.01M63.2 253.4h.01M70.2 280.0h.01M61.1 274.6h.01M65.0 294.9h.01M73.7 222.2h.01M67.2 275.3h.01M67.7 247.3h.01M65.1 288.9h.01M64.8 265.7h.01M70.6 245.1h.01M65.9 294.7h.01M70.3 215.1h.01M71.7 261.2h.01M70.8 292.4h.01M65.2 235.2h.01M72.1 281.7h.01M72.5 293.0h.01M70.1 274.7h.01M67.0 287.4h.01M69.5 271.8h.01M71.9 268.1h.01M65.8 293.0h.01M67.5 274.9h.01M71.8 272.5h.01M62.4 272.8h.01M61.8 281.1h.01M74.0 278.7h.01M71.5 262.1h.01M71.9 290.5h.01M72.4 273.7h.01M72.6 265.5h.01M65.1 289.6h.01M67.8 270.9h.01M66.0 277.3h.01M62.0 289.2h.01M68.3 264.9h.01M64.2 276.2h.01M65.6 255.7h.01M61.3 271.1h.01M70.8 282.0h.01M67.0 279.1h.01M67.8 275.1h.01M63.1 285.9h.01M72.9 256.1h.01M65.8 253.5h.01M64.0 275.8h.01M65.0 292.1h.01M63.8 282.8h.01M62.0 272.6h.01M64.5 279.6h.01M64.9 275.7h.01M66.4 295.4h.01M65.6 286.8h.01M72.4 276.6h.01M72.7 276.0h.01M68.0 278.5h.01M63.6 295.5h.01M68.7 286.8h.01M70.6 281.0h.01M64.2 252.8h.01M63.8 257.6h.01M61.5 274.6h.01M63.5 268.3h.01M66.3 275.5h.01M62.3 276.6h.01M65.2 276.0h.01M73.6 283.0h.01M69.9 287.7h.01M69.0 284.5h.01M62.8 253.5h.01M66.9 283.7h.01M71.6 247.4h.01M73.5 276.7h.01M65.1 268.5h.01M66.0 274.5h.01M72.9 258.3h.01M67.4 295.8h.01M69.0 282.3h.01M62.2 219.6h.01M63.6 259.7h.01M70.2 267.6h.01M61.6 278.3h.01M72.1 278.0h.01M65.1 279.3h.01M65.9 286.2h.01M74.1 272.2h.01M64.4 278.8h.01M63.3 288.1h.01M69.6 263.4h.01M72.6 285.8h.01M64.2 274.9h.01M61.6 286.5h.01M71.6 293.5h.01M71.6 279.3h.01M63.3 254.5h.01M62.4 278.2h.01M65.3 271.4h.01M62.8 271.3h.01M66.4 234.2h.01M69.9 272.4h.01M64.8 271.4h.01M72.5 261.6h.01M61.3 258.6h.01M61.4 261.2h.01M69.1 248.4h.01M66.8 253.7h.01M70.2 293.2h.01M67.7 271.0h.01M71.8 288.1h.01M69.5 285.1h.01M72.3 220.7h.01M72.1 271.8h.01" stroke="#9fd8f8" stroke-opacity="0.7" stroke-width="1.2" stroke-linecap="round" fill="none"/>
<path d="M67.3 257.1h.01M71.5 279.4h.01M61.4 262.0h.01M62.1 281.0h.01M64.9 289.0h.01M71.9 283.9h.01M63.0 271.1h.01M69.6 282.1h.01M61.6 227.7h.01M62.9 293.8h.01M73.5 284.5h.01M63.1 286.2h.01M66.3 280.7h.01M74.1 255.9h.01M69.2 277.4h.01M69.8 270.1h.01M64.7 271.8h.01M70.7 278.4h.01M63.5 278.7h.01M67.7 277.3h.01M74.1 284.9h.01M61.7 295.6h.01M67.8 295.9h.01M70.9 283.5h.01M67.9 286.1h.01M73.2 280.3h.01M69.4 275.4h.01M68.6 273.3h.01M62.0 277.5h.01M73.0 295.1h.01M67.0 278.0h.01M73.6 278.2h.01M68.4 262.9h.01M72.2 272.6h.01M66.5 282.4h.01M69.4 290.0h.01M72.7 271.3h.01M67.7 279.8h.01M66.3 291.2h.01M61.0 294.4h.01M65.6 283.0h.01M62.5 284.6h.01M62.7 256.2h.01M67.8 266.5h.01M61.6 267.3h.01M66.0 294.8h.01M71.3 235.2h.01M61.4 280.9h.01M73.8 274.7h.01M69.5 286.2h.01M62.9 279.7h.01M66.5 287.3h.01M72.1 242.9h.01M71.5 233.8h.01M62.8 258.9h.01M65.2 282.1h.01M72.0 289.8h.01M71.5 261.1h.01M70.2 241.7h.01M63.2 239.5h.01M65.1 291.2h.01M66.7 290.9h.01M66.3 272.3h.01M63.1 256.5h.01M74.2 262.3h.01M66.1 263.2h.01M68.2 277.8h.01M62.8 276.2h.01M70.6 278.7h.01M63.2 289.6h.01M68.4 278.0h.01M63.0 288.1h.01M68.3 275.6h.01M64.3 279.9h.01M66.4 284.4h.01M71.2 295.5h.01M68.1 293.4h.01M68.4 268.4h.01M68.3 295.0h.01M73.8 247.5h.01M70.1 293.4h.01M62.1 281.6h.01M62.4 275.8h.01M66.8 280.7h.01M65.7 250.3h.01M69.6 275.0h.01M72.7 278.4h.01M62.0 281.6h.01M64.6 294.5h.01M67.7 248.3h.01M66.8 260.8h.01M63.7 271.6h.01M61.8 259.0h.01M61.0 264.8h.01M70.2 262.2h.01M70.3 291.0h.01M65.3 274.6h.01M61.2 274.9h.01M70.3 276.3h.01M68.0 267.6h.01M66.5 272.0h.01M73.9 284.4h.01M64.1 240.6h.01M70.0 260.1h.01M63.5 254.6h.01M73.6 245.0h.01M67.3 274.9h.01M65.6 276.8h.01M63.7 282.1h.01M65.1 279.3h.01M67.0 267.8h.01M69.7 277.1h.01M63.1 293.6h.01M66.2 286.4h.01M69.3 274.6h.01M63.2 258.8h.01M68.1 253.9h.01M70.9 258.8h.01M62.2 281.8h.01M71.5 277.1h.01M71.4 283.7h.01M67.4 273.1h.01M70.4 292.5h.01M61.0 256.3h.01M71.1 259.8h.01M66.1 291.7h.01M73.6 233.9h.01M64.6 262.0h.01M72.9 287.9h.01M69.3 271.0h.01M65.6 259.3h.01M72.0 281.9h.01M73.2 218.3h.01M71.5 275.7h.01M64.3 283.9h.01M67.9 293.2h.01M71.9 289.7h.01M69.3 287.1h.01M68.7 285.1h.01M61.6 276.7h.01M62.7 229.1h.01M66.0 254.4h.01M63.9 275.6h.01M67.2 274.7h.01M67.5 280.9h.01M63.1 280.5h.01M65.1 294.9h.01M67.6 274.5h.01M65.8 290.2h.01M73.3 276.5h.01M66.1 267.1h.01M70.0 281.9h.01M65.2 272.5h.01M66.8 293.5h.01M61.9 213.1h.01M67.3 276.6h.01M66.7 254.4h.01M70.0 252.6h.01M73.4 254.4h.01M66.7 295.7h.01M73.4 287.5h.01M72.5 255.7h.01M70.9 266.8h.01M61.3 270.3h.01M68.7 287.5h.01M63.9 271.4h.01M64.8 275.6h.01M72.6 274.8h.01M69.5 281.3h.01M70.6 276.3h.01M67.8 263.7h.01M65.6 273.1h.01M71.3 277.1h.01M62.2 274.4h.01M69.6 278.4h.01M69.2 253.1h.01M62.8 284.6h.01M65.6 291.7h.01M62.5 282.1h.01M65.6 278.9h.01M72.3 278.0h.01M68.2 261.0h.01M68.8 278.9h.01M66.7 278.6h.01M72.5 228.0h.01M65.6 262.9h.01M70.9 253.7h.01M71.3 288.6h.01M67.1 264.7h.01M72.8 275.6h.01M67.2 283.9h.01M65.5 265.4h.01M67.9 284.7h.01M73.6 277.6h.01M70.3 255.8h.01M61.3 233.7h.01M73.7 287.4h.01M66.2 229.8h.01M71.1 277.0h.01M64.6 286.3h.01M63.2 277.2h.01M72.5 269.9h.01M69.8 260.9h.01M71.5 245.9h.01M68.7 275.8h.01M66.1 279.0h.01M65.1 290.2h.01M71.6 285.4h.01M63.9 277.8h.01M68.8 279.0h.01M61.7 267.8h.01M69.7 281.9h.01M61.5 282.9h.01M71.6 226.2h.01M65.1 275.7h.01M65.5 270.7h.01M71.4 286.3h.01M61.5 290.9h.01M66.0 295.9h.01M69.1 274.6h.01M71.5 291.4h.01M70.7 226.1h.01M71.6 280.5h.01M64.2 261.2h.01M70.9 279.0h.01M70.2 268.5h.01M71.1 251.3h.01M72.8 284.9h.01M61.8 290.7h.01M69.9 289.0h.01M65.2 257.2h.01M64.0 266.6h.01M67.3 289.5h.01M63.9 284.0h.01M72.1 292.1h.01M65.7 272.7h.01M72.7 261.9h.01M71.8 294.8h.01M69.6 274.7h.01M65.6 283.1h.01M72.1 285.2h.01M61.4 255.8h.01M69.5 263.8h.01M73.0 295.8h.01M66.8 265.2h.01M72.4 286.2h.01M71.2 257.2h.01M67.6 277.8h.01M71.6 250.5h.01M70.7 255.7h.01M68.2 275.0h.01M64.9 291.9h.01M68.5 283.1h.01M64.0 290.0h.01M70.3 285.9h.01M62.1 276.8h.01M61.8 254.2h.01M64.6 249.0h.01M71.2 218.2h.01M68.6 295.8h.01M62.8 259.3h.01M64.9 279.1h.01M70.1 238.4h.01M64.4 257.3h.01M69.6 244.6h.01M66.8 285.9h.01M61.6 263.5h.01M68.3 263.7h.01M67.3 272.0h.01M62.4 285.1h.01M61.7 282.2h.01M72.0 295.1h.01M65.6 258.4h.01M71.4 293.6h.01M73.7 277.8h.01M66.3 295.1h.01M70.1 279.1h.01M70.5 241.4h.01M73.9 238.3h.01M65.0 253.1h.01M69.7 282.4h.01M61.0 270.4h.01M73.2 289.5h.01M69.0 290.0h.01M72.7 294.1h.01M74.1 255.4h.01M65.0 283.7h.01M71.6 235.8h.01M68.3 233.3h.01M69.4 230.2h.01M63.8 271.4h.01M70.4 266.9h.01M61.9 280.0h.01M62.4 267.9h.01M68.9 283.2h.01M70.6 253.9h.01M64.7 279.6h.01" stroke="#9fd8f8" stroke-opacity="0.7" stroke-width="1.2" stroke-linecap="round" fill="none"/>
<path d="M64.9 268.2h.01M71.6 292.3h.01M73.7 266.6h.01M62.6 261.4h.01M65.8 289.0h.01M69.3 278.7h.01M64.4 260.8h.01M73.4 266.0h.01M71.2 256.6h.01M69.1 284.9h.01M73.7 295.3h.01M72.3 278.4h.01M69.1 262.4h.01M68.1 280.9h.01M62.2 291.6h.01M65.0 254.8h.01M64.4 266.8h.01M71.6 254.0h.01M62.0 278.0h.01M64.7 270.9h.01M74.1 279.6h.01M69.8 270.8h.01M74.0 291.5h.01M71.7 231.0h.01M73.8 275.1h.01M61.4 257.2h.01M70.3 250.4h.01M68.2 295.1h.01M72.4 278.4h.01M67.4 276.2h.01M70.4 277.2h.01M66.3 242.4h.01M70.3 258.3h.01M62.0 259.2h.01M71.6 290.8h.01M69.9 278.0h.01M61.1 226.6h.01M73.2 285.1h.01M70.5 275.8h.01M64.7 246.7h.01M66.1 258.7h.01M63.1 268.6h.01M67.2 277.4h.01M64.4 291.4h.01M70.4 278.7h.01M66.8 253.8h.01M68.1 289.8h.01M66.7 276.4h.01M65.4 296.3h.01M69.6 264.8h.01M71.3 274.6h.01M66.6 257.2h.01M68.0 275.7h.01M72.2 274.6h.01M66.9 289.8h.01M64.2 260.6h.01M68.8 276.0h.01M73.3 269.4h.01M67.0 279.8h.01M70.4 266.4h.01M73.2 287.0h.01M71.8 242.0h.01M70.5 272.2h.01M65.4 288.4h.01M71.5 216.3h.01M63.6 275.3h.01M66.3 281.7h.01M71.7 259.5h.01M67.7 276.0h.01M66.9 214.2h.01M71.8 280.2h.01M74.2 277.0h.01M73.3 296.3h.01M71.1 276.2h.01M61.9 249.4h.01M64.0 280.7h.01M73.3 275.4h.01M64.2 291.1h.01M73.2 279.9h.01M70.4 245.6h.01M69.2 294.3h.01M61.5 280.7h.01M66.4 246.6h.01M66.4 264.0h.01M72.1 284.2h.01M70.5 296.0h.01M70.1 285.2h.01M68.9 295.8h.01M68.1 251.6h.01M67.5 272.4h.01M63.0 268.7h.01M66.8 278.3h.01M61.5 268.1h.01M70.9 255.1h.01M65.7 250.5h.01M64.0 262.3h.01M68.9 279.3h.01M63.3 249.2h.01M65.6 262.5h.01M68.3 277.0h.01M70.1 270.9h.01M62.7 276.5h.01M66.0 290.6h.01M62.1 285.9h.01M69.2 254.4h.01M73.0 265.6h.01M70.6 255.4h.01M61.9 279.6h.01M70.5 274.9h.01M72.2 272.7h.01M63.8 280.2h.01M67.7 279.6h.01M64.1 275.7h.01M68.0 269.8h.01M69.5 279.6h.01M70.0 282.4h.01M73.8 269.9h.01M68.8 280.8h.01M62.6 280.4h.01M62.3 289.7h.01M68.1 284.5h.01M73.3 253.9h.01M73.1 290.4h.01M64.6 289.5h.01M63.1 279.8h.01M71.5 281.2h.01M61.4 287.3h.01M69.6 288.7h.01M72.5 267.4h.01M67.9 290.9h.01M69.9 293.2h.01M68.3 275.9h.01M70.9 294.4h.01M64.7 254.9h.01M72.7 283.3h.01M66.7 284.2h.01M69.4 235.6h.01M64.0 255.0h.01M68.8 250.7h.01M63.9 275.3h.01M71.9 290.7h.01M63.2 254.6h.01M72.1 278.5h.01M71.7 288.0h.01M72.1 295.3h.01M66.7 243.3h.01M66.4 268.7h.01M62.8 280.1h.01M73.3 275.2h.01M67.7 293.4h.01M63.4 248.1h.01M67.0 295.0h.01M64.5 255.9h.01M73.0 273.0h.01M70.9 264.2h.01M71.7 291.9h.01M70.3 277.9h.01M62.8 265.1h.01M72.2 265.7h.01M67.4 280.6h.01M64.5 284.4h.01M66.5 287.7h.01M66.4 285.3h.01M69.6 261.1h.01M62.6 273.7h.01M73.4 249.0h.01M62.4 257.6h.01M68.1 275.4h.01M71.9 254.2h.01M69.8 271.7h.01M73.7 284.0h.01M62.4 288.8h.01M70.7 267.2h.01M67.4 294.1h.01M67.1 286.5h.01M67.2 287.6h.01M61.6 290.4h.01M64.0 284.0h.01M73.2 294.9h.01M66.8 269.5h.01M61.6 262.1h.01M65.3 279.6h.01M66.5 276.4h.01M66.4 277.4h.01M73.8 287.5h.01M71.1 217.1h.01M67.6 269.1h.01M71.3 278.8h.01M65.3 257.7h.01M70.2 264.6h.01M68.6 286.8h.01M73.3 286.2h.01M65.0 295.9h.01M72.8 279.8h.01M64.5 267.6h.01M66.1 281.6h.01M65.7 267.3h.01M62.8 277.6h.01M73.7 262.0h.01M71.9 279.0h.01M71.5 250.7h.01M71.7 287.8h.01M63.7 281.0h.01M61.6 278.6h.01M69.6 275.9h.01M71.9 261.3h.01M72.4 253.6h.01M73.6 252.2h.01M71.2 277.5h.01M63.7 273.2h.01M66.9 279.5h.01M65.4 233.6h.01M65.3 274.6h.01M73.4 283.6h.01M63.7 250.3h.01M64.0 264.9h.01M65.8 274.8h.01M64.2 274.5h.01M68.4 286.9h.01M70.5 274.6h.01M66.5 278.2h.01M64.8 220.3h.01M66.1 263.0h.01M64.3 250.6h.01M68.6 269.8h.01M73.8 291.5h.01M72.7 267.2h.01M66.5 269.5h.01M63.3 283.6h.01M63.6 236.3h.01M70.8 272.4h.01M73.2 281.9h.01M69.6 231.9h.01M72.7 224.8h.01M65.1 277.5h.01M63.8 251.1h.01M71.7 281.0h.01M69.6 282.0h.01M62.1 283.1h.01M70.0 277.8h.01M71.6 251.0h.01M63.4 280.6h.01M70.1 281.5h.01M70.1 223.1h.01M68.8 292.1h.01M61.1 260.5h.01M65.2 294.1h.01M69.6 255.9h.01M70.1 291.2h.01M73.3 275.2h.01M65.8 217.7h.01M63.7 285.1h.01M66.4 274.4h.01M67.0 249.3h.01M69.7 265.1h.01M66.6 273.2h.01M73.3 272.0h.01M67.6 250.1h.01M62.7 280.6h.01M71.3 248.5h.01M65.8 266.6h.01M71.4 265.2h.01M65.0 277.5h.01M63.0 253.8h.01M70.2 272.1h.01M65.5 253.8h.01M72.3 275.8h.01M71.4 230.9h.01M62.1 235.5h.01M64.2 254.9h.01M67.6 292.4h.01M73.8 264.9h.01M67.0 290.2h.01M72.3 274.7h.01M63.3 276.0h.01M73.2 261.6h.01M61.4 294.7h.01M74.2 267.2h.01M71.6 280.6h.01M66.1 264.1h.01M67.4 286.2h.01M73.7 282.3h.01M69.0 283.8h.01M68.1 288.3h.01M71.3 246.5h.01M65.7 277.3h.01M73.5 293.9h.01M69.2 296.1h.01M65.0 279.0h.01M74.0 260.4h.01M70.6 278.0h.01M70.0 276.4h.01" stroke="#9fd8f8" stroke-opacity="0.7" stroke-width="1.2" stroke-linecap="round" fill="none"/>
<path d="M63.9 287.7h.01M69.2 279.9h.01M64.7 285.3h.01M66.9 283.9h.01M67.3 253.8h.01M67.1 284.7h.01M63.8 266.2h.01M64.2 269.2h.01M63.0 286.5h.01M65.6 281.0h.01M61.8 276.5h.01M70.1 253.0h.01M70.0 278.9h.01M63.4 274.8h.01M61.7 258.0h.01M69.8 278.1h.01M71.2 242.9h.01M72.6 284.9h.01M72.7 241.8h.01M70.2 289.5h.01M61.5 280.6h.01M72.6 294.8h.01M65.4 276.8h.01M65.0 260.6h.01M61.2 276.0h.01M66.7 283.7h.01M69.5 289.3h.01M73.7 286.8h.01M62.7 279.7h.01M62.9 260.5h.01M61.5 291.5h.01M69.1 288.1h.01M63.3 277.1h.01M64.6 255.9h.01M66.1 296.4h.01M61.0 252.7h.01M62.9 280.2h.01M64.0 254.0h.01M66.0 249.9h.01M71.8 274.9h.01M66.1 272.8h.01M73.5 283.7h.01M73.4 282.8h.01M67.6 281.7h.01M62.8 280.7h.01M63.8 291.7h.01M73.0 275.8h.01M63.0 281.1h.01M64.1 252.5h.01M63.5 276.2h.01M64.8 266.1h.01M63.6 222.9h.01M61.9 286.1h.01M73.4 282.1h.01M67.6 256.5h.01M67.6 245.7h.01M68.1 293.2h.01M64.5 251.4h.01M70.0 270.3h.01M64.7 238.9h.01M67.6 255.4h.01M62.4 282.0h.01M70.4 276.6h.01M63.0 279.3h.01M67.6 276.7h.01M63.1 281.2h.01M61.6 268.4h.01M70.2 258.0h.01M62.5 279.2h.01M65.6 273.9h.01M71.1 253.4h.01M72.4 285.2h.01M70.5 249.0h.01M69.9 266.0h.01M73.7 278.0h.01M69.4 294.6h.01M67.8 278.9h.01M72.4 291.5h.01M65.8 290.9h.01M68.8 279.2h.01M61.6 256.7h.01M68.6 253.5h.01M64.0 291.5h.01M64.1 247.1h.01M71.2 288.8h.01M65.8 281.2h.01M73.2 285.0h.01M65.2 285.0h.01M71.5 230.6h.01M72.6 275.4h.01M66.9 289.9h.01M63.5 281.5h.01M63.3 264.1h.01M73.7 296.2h.01M63.5 268.6h.01M71.6 270.7h.01M62.9 254.0h.01M72.0 254.2h.01M69.1 285.7h.01M62.8 282.4h.01M64.7 275.3h.01M66.5 252.0h.01M68.5 274.5h.01M72.7 286.0h.01M65.8 285.0h.01M67.8 295.4h.01M71.2 285.5h.01M71.9 277.8h.01M61.1 277.7h.01M67.7 278.4h.01M71.4 279.5h.01M72.7 287.8h.01M71.5 285.9h.01M70.3 286.4h.01M68.5 264.2h.01M68.2 276.2h.01M71.6 218.6h.01M61.3 290.4h.01M72.0 257.7h.01M67.6 228.4h.01M63.8 279.1h.01M71.8 251.2h.01M70.5 293.7h.01M62.7 258.9h.01M70.3 260.2h.01M72.4 277.1h.01M67.8 263.4h.01M72.6 291.5h.01M61.3 267.3h.01M64.0 281.4h.01M69.4 282.7h.01M72.1 294.6h.01M61.1 262.1h.01M65.5 261.6h.01M69.3 291.1h.01M70.3 283.6h.01M68.3 289.7h.01M65.9 239.3h.01M66.4 280.2h.01M68.2 275.9h.01M72.6 290.4h.01M67.8 261.4h.01M63.4 277.8h.01M69.4 259.9h.01M68.4 290.0h.01M71.2 254.5h.01M73.2 233.4h.01M63.3 285.5h.01M68.5 229.1h.01M67.2 290.2h.01M66.5 266.8h.01M69.7 289.2h.01M66.7 282.4h.01M65.0 283.2h.01M68.2 288.9h.01M68.4 275.1h.01M72.1 275.9h.01M74.0 282.9h.01M65.2 285.3h.01M71.8 251.0h.01M68.4 279.5h.01M69.9 260.5h.01M64.7 280.8h.01M64.1 270.7h.01M63.8 224.6h.01M67.4 284.4h.01M65.9 289.3h.01M70.8 293.4h.01M66.7 256.1h.01M61.0 266.3h.01M72.8 261.1h.01M73.9 290.3h.01M66.8 278.2h.01M62.8 277.0h.01M66.8 262.4h.01M73.2 283.1h.01M66.4 281.0h.01M66.3 281.6h.01M71.5 260.9h.01M73.0 226.6h.01M69.5 270.3h.01M69.5 292.3h.01M61.8 268.9h.01M66.4 283.5h.01M62.8 281.3h.01M63.7 296.1h.01M68.1 281.7h.01M68.6 273.9h.01M65.7 274.8h.01M71.4 268.3h.01M68.2 281.0h.01M64.0 267.3h.01M64.1 250.6h.01M67.2 295.2h.01M71.3 291.3h.01M67.0 291.5h.01M67.7 289.9h.01M72.4 253.0h.01M67.6 280.1h.01M73.7 280.3h.01M63.8 276.5h.01M61.6 246.9h.01M70.9 242.1h.01M70.7 278.1h.01M67.8 292.6h.01M72.3 281.3h.01M70.7 287.5h.01M61.5 266.6h.01M68.9 275.5h.01M63.9 268.1h.01M66.4 273.7h.01M65.5 259.9h.01M70.7 264.7h.01M67.1 236.6h.01M62.7 272.9h.01M63.6 220.8h.01M65.0 293.9h.01M70.7 274.1h.01M69.5 278.8h.01M66.9 276.6h.01M72.1 295.7h.01M64.4 221.1h.01M71.7 281.7h.01M70.1 259.1h.01M63.4 291.1h.01M62.5 294.7h.01M64.9 290.3h.01M66.7 268.9h.01M66.2 285.2h.01M66.2 270.3h.01M73.6 283.8h.01M72.9 276.9h.01M68.1 252.6h.01M73.3 282.7h.01M71.0 237.9h.01M64.7 288.5h.01M73.4 293.6h.01M65.0 254.0h.01M68.0 269.9h.01M66.1 252.2h.01M65.6 286.7h.01M69.5 274.7h.01M65.1 276.0h.01M64.0 295.7h.01M68.3 252.8h.01M69.4 261.1h.01M73.8 279.2h.01M67.5 278.4h.01M64.7 282.0h.01M64.7 280.4h.01M64.8 243.5h.01M64.6 287.4h.01M70.4 283.8h.01M62.9 289.1h.01M72.4 252.7h.01M61.9 286.9h.01M73.0 285.2h.01M70.4 267.0h.01M64.7 292.0h.01M67.0 278.6h.01M71.1 283.9h.01M67.0 233.5h.01M73.7 216.4h.01M73.3 295.7h.01M70.0 273.2h.01M64.6 283.0h.01M70.3 232.6h.01M64.0 287.3h.01M72.9 280.3h.01M74.2 275.1h.01M65.3 257.5h.01M62.9 278.0h.01M71.7 276.2h.01M65.9 266.0h.01M67.1 267.5h.01M73.8 296.3h.01M67.5 283.2h.01M70.6 291.1h.01M70.5 290.4h.01M70.5 294.2h.01M63.7 286.7h.01M68.2 250.4h.01M69.6 276.3h.01M64.4 278.8h.01M72.8 292.2h.01M62.2 264.2h.01M62.8 274.3h.01M67.7 296.3h.01M69.2 278.5h.01M61.0 282.6h.01M67.6 288.2h.01M63.4 274.6h.01M68.0 269.7h.01" stroke="#9fd8f8" stroke-opacity="0.7" stroke-width="1.2" stroke-linecap="round" fill="none"/>
<line x1="102.05" y1="234.40" x2="102.05" y2="293.30" stroke="#363636" stroke-width="1.1" />
<line x1="93.95" y1="234.40" x2="110.15" y2="234.40" stroke="#363636" stroke-width="1.1" />
<line x1="93.95" y1="293.30" x2="110.15" y2="293.30" stroke="#363636" stroke-width="1.1" />
<rect x="89.20" y="262.10" width="25.70" height="18.80" fill="#c8102e" stroke="#111" stroke-width="0.6"/>
<line x1="89.20" y1="275.10" x2="114.90" y2="275.10" stroke="#0a0a0a" stroke-width="1.3" />
<line x1="133.80" y1="224.30" x2="133.80" y2="292.70" stroke="#363636" stroke-width="1.1" />
<line x1="125.70" y1="224.30" x2="141.90" y2="224.30" stroke="#363636" stroke-width="1.1" />
<line x1="125.70" y1="292.70" x2="141.90" y2="292.70" stroke="#363636" stroke-width="1.1" />
<rect x="121.10" y="258.30" width="25.40" height="23.30" fill="#17578c" stroke="#111" stroke-width="0.6"/>
<line x1="121.10" y1="275.00" x2="146.50" y2="275.00" stroke="#0a0a0a" stroke-width="1.3" />
<path d="M105.8 270.5h.01M105.7 283.0h.01M103.5 247.7h.01M97.3 260.0h.01M106.0 272.9h.01M100.3 273.5h.01M97.9 271.6h.01M103.5 275.8h.01M105.2 290.2h.01M107.0 293.0h.01M98.4 285.2h.01M103.1 273.4h.01M103.6 271.3h.01M100.4 271.2h.01M103.2 265.2h.01M106.8 260.6h.01M103.4 269.1h.01M101.9 284.3h.01M97.6 280.2h.01M103.8 288.5h.01M99.5 285.0h.01M104.7 246.4h.01M106.1 288.9h.01M104.3 279.2h.01M105.6 270.5h.01" stroke="#ffc4d3" stroke-opacity="0.6" stroke-width="1.3" stroke-linecap="round" fill="none"/>
<path d="M104.6 278.5h.01M102.5 284.7h.01M102.9 261.8h.01M104.2 279.6h.01M96.5 279.1h.01M96.9 261.1h.01M105.4 275.1h.01M97.7 278.8h.01M108.0 277.4h.01M106.2 275.4h.01M102.8 258.2h.01M98.7 290.2h.01M103.7 262.6h.01M98.6 279.0h.01M101.8 250.2h.01M105.4 281.3h.01M103.0 287.5h.01M104.1 275.5h.01M102.8 285.8h.01M107.8 279.5h.01M99.0 280.9h.01M107.9 261.9h.01M101.1 288.3h.01M104.9 254.8h.01M106.8 276.3h.01" stroke="#ffc4d3" stroke-opacity="0.6" stroke-width="1.3" stroke-linecap="round" fill="none"/>
<path d="M104.4 263.1h.01M104.4 279.7h.01M102.0 280.6h.01M97.3 271.8h.01M97.1 260.0h.01M105.4 280.5h.01M107.5 288.1h.01M98.6 277.2h.01M103.5 286.5h.01M98.7 279.6h.01M99.8 289.1h.01M102.3 280.1h.01M100.2 286.5h.01M99.6 242.5h.01M100.8 277.6h.01M102.9 256.0h.01M98.1 248.3h.01M98.2 280.3h.01M103.5 274.1h.01M101.9 285.8h.01M96.0 270.0h.01M100.4 283.4h.01M102.3 254.3h.01M100.8 280.2h.01M108.2 281.5h.01" stroke="#ffc4d3" stroke-opacity="0.6" stroke-width="1.3" stroke-linecap="round" fill="none"/>
<path d="M101.4 283.9h.01M99.2 276.8h.01M99.4 288.4h.01M104.4 282.0h.01M101.5 245.1h.01M105.6 265.2h.01M100.4 262.2h.01M98.9 274.8h.01M100.7 256.0h.01M100.9 276.0h.01M107.0 243.4h.01M100.5 279.5h.01M104.7 267.9h.01M96.7 274.3h.01M106.1 276.2h.01M103.0 261.7h.01M107.1 279.6h.01M98.1 275.9h.01M96.8 265.8h.01M97.4 286.2h.01M107.7 260.2h.01M103.4 275.7h.01M97.3 282.3h.01M107.0 285.3h.01M105.9 292.6h.01" stroke="#ffc4d3" stroke-opacity="0.6" stroke-width="1.3" stroke-linecap="round" fill="none"/>
<path d="M106.8 269.8h.01M106.9 273.5h.01M105.9 274.2h.01M102.3 245.1h.01M97.7 288.8h.01M100.9 285.7h.01M104.4 287.9h.01M106.5 263.4h.01M96.0 280.7h.01M98.0 279.0h.01M103.9 278.3h.01M102.8 275.2h.01M103.3 250.2h.01M106.4 258.7h.01M99.6 291.6h.01M107.9 251.9h.01M96.9 277.0h.01M100.7 272.0h.01M99.1 240.0h.01M105.6 263.8h.01M97.5 267.4h.01M99.0 275.1h.01M107.0 269.3h.01M100.8 280.0h.01M106.7 274.2h.01" stroke="#ffc4d3" stroke-opacity="0.6" stroke-width="1.3" stroke-linecap="round" fill="none"/>
<path d="M97.1 292.1h.01M104.7 255.5h.01M103.6 238.3h.01M104.2 251.6h.01M102.9 260.2h.01M96.1 275.8h.01M108.2 276.7h.01M99.4 265.9h.01M106.1 241.4h.01M96.1 291.6h.01M103.8 280.9h.01M100.1 278.4h.01M99.2 269.3h.01M102.2 281.4h.01M97.2 264.8h.01M101.5 282.5h.01M102.9 280.1h.01M102.4 256.7h.01M105.7 284.1h.01M108.2 284.8h.01M97.5 280.0h.01M104.2 279.4h.01M107.2 277.2h.01M103.0 257.2h.01M97.0 284.6h.01" stroke="#ffc4d3" stroke-opacity="0.6" stroke-width="1.3" stroke-linecap="round" fill="none"/>
<path d="M130.9 257.9h.01M132.9 279.8h.01M139.3 281.0h.01M132.9 225.2h.01M129.9 276.8h.01M138.4 277.6h.01M133.8 270.2h.01M139.4 257.7h.01M129.4 276.3h.01M133.5 270.2h.01M132.2 283.3h.01M127.4 286.6h.01M139.0 269.3h.01M132.5 257.6h.01M134.8 266.3h.01M131.7 290.6h.01M135.4 275.0h.01M133.9 281.4h.01M139.4 283.0h.01M133.6 287.8h.01M128.1 257.5h.01M137.5 262.4h.01M140.4 256.2h.01M127.8 241.1h.01M136.6 289.4h.01M135.6 276.8h.01M135.5 269.8h.01M133.0 230.7h.01M137.2 290.4h.01M132.9 277.8h.01M134.6 281.1h.01M133.1 244.2h.01M127.5 248.5h.01M136.8 286.7h.01M138.0 280.8h.01M129.5 262.7h.01M138.2 275.5h.01M128.5 281.4h.01M134.0 227.4h.01M135.8 286.2h.01M136.1 272.2h.01M127.3 291.4h.01M140.0 257.8h.01M139.1 280.7h.01M137.5 268.1h.01M132.0 260.9h.01M131.7 290.4h.01M130.3 278.6h.01M135.8 284.2h.01M135.7 279.9h.01M130.5 266.3h.01M129.4 276.1h.01M131.0 275.5h.01M140.3 292.6h.01M139.0 291.7h.01M128.1 276.3h.01M139.9 277.1h.01M139.9 243.9h.01M133.5 259.8h.01M130.3 280.4h.01M128.7 278.8h.01M136.0 248.6h.01M136.2 257.1h.01M129.9 228.1h.01M140.2 268.6h.01M136.2 263.5h.01M139.1 279.5h.01M131.8 276.6h.01M137.0 230.6h.01M137.4 280.2h.01M133.8 287.7h.01M128.8 259.1h.01M133.5 282.4h.01M136.2 240.9h.01M140.1 286.4h.01M134.8 235.5h.01M139.6 265.2h.01M135.6 254.7h.01M132.7 291.0h.01M134.5 270.7h.01M131.1 273.6h.01" stroke="#9fd8f8" stroke-opacity="0.7" stroke-width="1.2" stroke-linecap="round" fill="none"/>
<path d="M130.0 252.2h.01M133.4 229.1h.01M133.3 257.5h.01M136.5 289.9h.01M128.3 284.2h.01M136.6 259.0h.01M139.9 255.3h.01M134.9 272.1h.01M139.8 278.1h.01M140.3 271.5h.01M132.3 226.4h.01M137.7 263.9h.01M139.6 250.5h.01M133.7 252.3h.01M134.1 275.3h.01M135.3 276.2h.01M136.7 286.7h.01M131.3 273.1h.01M129.5 286.6h.01M128.5 258.1h.01M135.7 291.0h.01M135.0 258.3h.01M140.2 283.2h.01M130.1 250.4h.01M138.4 251.5h.01M133.5 288.0h.01M132.0 280.1h.01M140.0 254.8h.01M130.5 282.5h.01M130.2 288.9h.01M131.4 292.6h.01M136.9 289.6h.01M130.7 278.5h.01M131.4 288.6h.01M131.8 279.6h.01M130.3 260.1h.01M136.0 255.9h.01M138.7 269.2h.01M128.9 257.0h.01M133.7 288.9h.01M130.2 229.3h.01M137.8 276.6h.01M130.7 272.9h.01M131.0 267.5h.01M139.5 289.1h.01M132.6 275.6h.01M136.7 259.7h.01M132.3 229.4h.01M129.3 291.6h.01M131.8 251.8h.01M136.9 276.1h.01M128.7 275.8h.01M127.3 277.5h.01M135.5 280.7h.01M129.8 275.3h.01M128.2 258.3h.01M139.0 251.4h.01M129.8 239.4h.01M128.2 271.5h.01M132.1 263.7h.01M129.4 257.5h.01M131.4 275.7h.01M136.4 233.1h.01M131.7 289.0h.01M128.7 286.6h.01M128.6 237.8h.01M128.6 280.6h.01M130.1 275.8h.01M136.2 284.4h.01M127.4 281.3h.01M135.3 279.3h.01M137.9 274.9h.01M132.5 282.3h.01M140.1 280.8h.01M137.6 261.2h.01M137.8 272.6h.01M128.6 275.1h.01M136.8 279.6h.01M127.5 270.3h.01M135.3 277.6h.01" stroke="#9fd8f8" stroke-opacity="0.7" stroke-width="1.2" stroke-linecap="round" fill="none"/>
<path d="M135.1 269.8h.01M132.6 281.4h.01M139.7 260.0h.01M128.7 287.6h.01M130.9 288.7h.01M129.5 280.2h.01M131.2 282.7h.01M139.4 268.5h.01M128.9 279.3h.01M127.9 287.6h.01M129.9 273.1h.01M135.2 261.5h.01M137.0 285.9h.01M132.4 276.2h.01M140.4 278.8h.01M131.5 257.9h.01M134.5 281.2h.01M127.5 277.3h.01M133.3 271.3h.01M137.3 258.2h.01M140.3 281.9h.01M134.5 265.0h.01M136.1 278.3h.01M138.2 279.0h.01M136.6 287.1h.01M136.6 243.3h.01M132.4 283.0h.01M135.3 290.3h.01M131.9 249.9h.01M128.7 284.5h.01M131.7 258.3h.01M131.6 261.2h.01M129.3 280.6h.01M132.4 249.1h.01M131.1 288.5h.01M139.2 288.9h.01M138.2 279.3h.01M133.8 234.9h.01M133.7 282.4h.01M131.8 228.8h.01M127.4 256.1h.01M131.1 280.0h.01M127.4 275.2h.01M132.3 257.7h.01M136.3 271.3h.01M136.4 277.4h.01M128.2 280.1h.01M132.5 253.2h.01M131.5 289.5h.01M139.6 270.2h.01M140.1 262.8h.01M137.8 275.6h.01M136.7 278.7h.01M133.4 231.7h.01M131.7 276.5h.01M127.8 280.6h.01M138.0 287.2h.01M138.8 250.7h.01M131.4 244.0h.01M130.0 276.5h.01M137.1 287.3h.01M128.6 269.1h.01M138.6 288.9h.01M129.3 280.9h.01M139.8 236.3h.01M132.2 269.3h.01M131.5 236.2h.01M129.0 272.1h.01M130.1 274.7h.01M132.3 286.0h.01M138.0 284.7h.01M135.0 260.8h.01M137.8 277.3h.01M128.7 280.5h.01M139.0 282.4h.01M127.9 278.0h.01M133.4 279.9h.01" stroke="#9fd8f8" stroke-opacity="0.7" stroke-width="1.2" stroke-linecap="round" fill="none"/>
<path d="M134.1 290.5h.01M139.9 280.7h.01M127.6 284.8h.01M129.3 283.6h.01M128.1 271.5h.01M133.3 257.9h.01M129.1 278.9h.01M138.5 279.5h.01M133.4 262.5h.01M128.8 279.0h.01M136.5 279.3h.01M127.8 277.4h.01M134.5 266.1h.01M131.9 278.5h.01M134.2 280.3h.01M133.3 281.9h.01M134.0 282.4h.01M131.6 286.0h.01M129.5 258.6h.01M133.2 278.2h.01M135.9 230.8h.01M128.1 288.0h.01M137.9 245.9h.01M134.5 279.5h.01M128.1 287.5h.01M134.3 289.5h.01M138.2 229.0h.01M128.2 258.6h.01M140.3 276.9h.01M139.5 288.0h.01M133.0 260.0h.01M138.0 289.5h.01M139.0 252.1h.01M140.2 265.5h.01M129.9 249.0h.01M133.9 278.0h.01M138.6 249.6h.01M131.5 275.2h.01M133.1 231.8h.01M137.7 263.8h.01M129.0 287.9h.01M140.3 258.2h.01M139.6 279.5h.01M138.1 230.4h.01M140.3 249.0h.01M132.2 249.0h.01M136.2 290.9h.01M138.1 255.9h.01M131.7 243.0h.01M129.3 251.4h.01M135.4 263.8h.01M127.3 265.0h.01M129.3 291.7h.01M139.8 282.0h.01M132.3 257.3h.01M134.4 262.0h.01M129.5 286.1h.01M132.0 268.9h.01M139.1 285.0h.01M133.5 278.0h.01M139.9 287.7h.01M132.0 267.7h.01M128.5 291.1h.01M135.5 279.6h.01M130.2 287.8h.01M128.5 280.4h.01M139.7 279.8h.01M136.7 283.4h.01M140.1 261.0h.01M137.6 243.4h.01M134.9 268.8h.01M140.2 239.5h.01M138.5 285.2h.01M129.0 271.8h.01M135.7 270.3h.01M135.5 280.1h.01M127.4 250.8h.01M139.9 276.4h.01M127.6 277.9h.01M139.1 272.3h.01" stroke="#9fd8f8" stroke-opacity="0.7" stroke-width="1.2" stroke-linecap="round" fill="none"/>
<path d="M129.7 268.5h.01M137.4 238.4h.01M128.1 265.9h.01M133.8 270.8h.01M129.7 278.7h.01M133.8 280.8h.01M137.3 274.5h.01M128.9 267.6h.01M137.1 291.2h.01M137.7 262.8h.01M128.7 276.4h.01M133.8 287.3h.01M135.0 275.8h.01M135.1 280.3h.01M138.8 277.8h.01M134.9 263.0h.01M133.1 269.4h.01M127.4 245.2h.01M136.3 262.5h.01M131.0 258.3h.01M128.8 275.1h.01M128.8 266.8h.01M139.0 288.3h.01M128.2 284.8h.01M136.3 256.8h.01M138.0 272.6h.01M132.2 229.8h.01M137.5 279.8h.01M130.5 267.9h.01M127.7 239.8h.01M139.6 274.8h.01M133.7 267.2h.01M135.6 287.5h.01M130.0 289.1h.01M135.3 281.5h.01M131.3 292.5h.01M129.7 281.0h.01M137.7 284.0h.01M140.0 252.8h.01M135.5 269.8h.01M130.8 229.2h.01M128.4 286.9h.01M131.6 283.5h.01M129.9 291.0h.01M134.6 275.9h.01M135.1 274.7h.01M136.5 291.0h.01M130.9 270.8h.01M127.7 252.6h.01M132.0 287.5h.01M135.5 259.5h.01M132.4 227.0h.01M137.0 277.8h.01M130.1 291.1h.01M139.7 228.7h.01M135.1 268.9h.01M138.9 277.1h.01M131.9 240.3h.01M128.7 263.3h.01M140.2 238.1h.01M131.7 287.8h.01M131.4 242.4h.01M138.6 279.7h.01M133.3 263.9h.01M127.7 258.3h.01M129.5 282.4h.01M130.1 257.2h.01M131.5 276.8h.01M140.0 292.6h.01M137.4 258.0h.01M133.5 292.0h.01M129.0 289.8h.01M131.9 283.1h.01M130.5 277.2h.01M132.7 263.4h.01M139.5 269.1h.01M131.7 261.2h.01" stroke="#9fd8f8" stroke-opacity="0.7" stroke-width="1.2" stroke-linecap="round" fill="none"/>
<path d="M134.6 245.1h.01M139.6 245.7h.01M136.4 261.6h.01M128.2 280.2h.01M131.2 290.5h.01M131.1 277.9h.01M135.0 257.4h.01M133.1 273.4h.01M129.7 253.4h.01M131.6 261.7h.01M137.3 280.4h.01M139.5 243.9h.01M129.4 285.9h.01M132.8 280.1h.01M139.5 260.0h.01M137.3 273.5h.01M128.4 260.8h.01M140.2 276.5h.01M136.3 261.6h.01M129.0 265.1h.01M129.3 278.9h.01M130.3 266.1h.01M138.0 267.0h.01M131.8 289.0h.01M134.1 261.0h.01M132.8 289.9h.01M140.3 271.6h.01M132.2 263.6h.01M127.4 288.8h.01M136.2 262.8h.01M136.1 265.6h.01M139.5 261.7h.01M128.9 281.2h.01M137.9 262.7h.01M140.3 278.2h.01M129.5 279.9h.01M127.3 265.4h.01M134.8 272.6h.01M137.2 288.7h.01M136.4 261.0h.01M134.4 268.9h.01M128.0 258.7h.01M131.1 275.2h.01M138.9 261.9h.01M137.3 276.5h.01M139.5 291.4h.01M138.1 263.5h.01M131.8 291.4h.01M139.5 278.8h.01M134.2 280.9h.01M127.6 278.1h.01M135.8 270.6h.01M134.1 234.8h.01M136.5 281.8h.01M136.2 278.0h.01M136.2 280.7h.01M134.6 288.4h.01M131.7 267.6h.01M134.0 272.2h.01M132.7 252.5h.01M138.1 284.5h.01M129.4 257.1h.01M136.0 290.2h.01M131.5 267.7h.01M134.2 250.8h.01M129.6 240.7h.01M134.4 278.9h.01M130.4 269.7h.01M134.0 280.6h.01M127.2 278.3h.01M137.9 279.6h.01M135.3 243.8h.01M131.7 275.9h.01M129.4 292.4h.01M140.2 287.5h.01M139.9 264.0h.01M128.2 227.9h.01" stroke="#9fd8f8" stroke-opacity="0.7" stroke-width="1.2" stroke-linecap="round" fill="none"/>
<rect x="149.70" y="209.50" width="14.20" height="90.30" fill="#c5d5e1" />
<text x="156.80" y="256.15" font-size="9" text-anchor="middle" fill="#1a1a1a" font-weight="normal" stroke="#1a1a1a" stroke-width="0.22" transform="rotate(90 156.80 256.15)" dominant-baseline="central">Dx to BMT (month)</text>
<line x1="36.40" y1="299.40" x2="36.40" y2="302.80" stroke="#333333" stroke-width="1.1" />
<text x="36.40" y="312.10" font-size="8" text-anchor="middle" fill="#222" font-weight="normal" stroke="#222" stroke-width="0.22" >MUD</text>
<line x1="68.00" y1="299.40" x2="68.00" y2="302.80" stroke="#333333" stroke-width="1.1" />
<text x="68.00" y="312.10" font-size="8" text-anchor="middle" fill="#222" font-weight="normal" stroke="#222" stroke-width="0.22" >Haplo</text>
<line x1="102.50" y1="299.40" x2="102.50" y2="302.80" stroke="#333333" stroke-width="1.1" />
<text x="102.50" y="312.10" font-size="8" text-anchor="middle" fill="#222" font-weight="normal" stroke="#222" stroke-width="0.22" >MUD</text>
<line x1="134.40" y1="299.40" x2="134.40" y2="302.80" stroke="#333333" stroke-width="1.1" />
<text x="134.40" y="312.10" font-size="8" text-anchor="middle" fill="#222" font-weight="normal" stroke="#222" stroke-width="0.22" >Haplo</text>
<rect x="199.45" y="7.00" width="60.55" height="13.30" fill="#c5d5e1" />
<rect x="264.00" y="7.00" width="60.00" height="13.30" fill="#c5d5e1" />
<text x="230.83" y="17.20" font-size="9" text-anchor="middle" fill="#1a1a1a" font-weight="normal" stroke="#1a1a1a" stroke-width="0.22" >Raw</text>
<text x="294.70" y="17.20" font-size="9" text-anchor="middle" fill="#1a1a1a" font-weight="normal" stroke="#1a1a1a" stroke-width="0.22" >Matched</text>
<line x1="199.65" y1="21.30" x2="199.65" y2="64.90" stroke="#1a1a1a" stroke-width="1.0" />
<line x1="196.25" y1="22.50" x2="199.65" y2="22.50" stroke="#333333" stroke-width="1.1" />
<text x="193.25" y="25.60" font-size="8" text-anchor="end" fill="#222" font-weight="normal" stroke="#222" stroke-width="0.22" >100</text>
<line x1="196.25" y1="42.50" x2="199.65" y2="42.50" stroke="#333333" stroke-width="1.1" />
<text x="193.25" y="45.60" font-size="8" text-anchor="end" fill="#222" font-weight="normal" stroke="#222" stroke-width="0.22" >50</text>
<line x1="196.25" y1="62.50" x2="199.65" y2="62.50" stroke="#333333" stroke-width="1.1" />
<text x="193.25" y="65.60" font-size="8" text-anchor="end" fill="#222" font-weight="normal" stroke="#222" stroke-width="0.22" >0</text>
<line x1="264.00" y1="21.30" x2="264.00" y2="64.90" stroke="#1a1a1a" stroke-width="1.0" />
<line x1="199.15" y1="64.40" x2="260.00" y2="64.40" stroke="#1a1a1a" stroke-width="1.0" />
<line x1="263.50" y1="64.40" x2="324.00" y2="64.40" stroke="#1a1a1a" stroke-width="1.0" />
<rect x="203.50" y="22.90" width="24.50" height="35.97" fill="#c8102e" />
<rect x="203.50" y="58.87" width="24.50" height="3.13" fill="#3cb44b" />
<text x="215.75" y="39.85" font-size="8" text-anchor="middle" fill="#ffffff" font-weight="normal" stroke="#ffffff" stroke-width="0.04" >92%</text>
<text x="215.75" y="60.85" font-size="8" text-anchor="middle" fill="#ffffff" font-weight="normal" stroke="#ffffff" stroke-width="0.04" >8%</text>
<rect x="231.20" y="22.90" width="24.80" height="27.96" fill="#c8102e" />
<rect x="231.20" y="50.86" width="24.80" height="11.14" fill="#3cb44b" />
<text x="243.60" y="39.85" font-size="8" text-anchor="middle" fill="#ffffff" font-weight="normal" stroke="#ffffff" stroke-width="0.04" >71%</text>
<text x="243.60" y="60.85" font-size="8" text-anchor="middle" fill="#111111" font-weight="normal" stroke="#111111" stroke-width="0.1" >29%</text>
<rect x="267.80" y="22.90" width="24.60" height="35.19" fill="#c8102e" />
<rect x="267.80" y="58.09" width="24.60" height="3.91" fill="#3cb44b" />
<text x="280.10" y="39.85" font-size="8" text-anchor="middle" fill="#ffffff" font-weight="normal" stroke="#ffffff" stroke-width="0.04" >90%</text>
<text x="280.10" y="60.85" font-size="8" text-anchor="middle" fill="#ffffff" font-weight="normal" stroke="#ffffff" stroke-width="0.04" >10%</text>
<rect x="295.60" y="22.90" width="24.50" height="34.41" fill="#c8102e" />
<rect x="295.60" y="57.31" width="24.50" height="4.69" fill="#3cb44b" />
<text x="307.85" y="39.85" font-size="8" text-anchor="middle" fill="#ffffff" font-weight="normal" stroke="#ffffff" stroke-width="0.04" >88%</text>
<text x="307.85" y="60.85" font-size="8" text-anchor="middle" fill="#ffffff" font-weight="normal" stroke="#ffffff" stroke-width="0.04" >12%</text>
<rect x="324.30" y="21.30" width="13.80" height="43.50" fill="#ecc3cb" />
<text x="331.20" y="43.05" font-size="9" text-anchor="middle" fill="#1a1a1a" font-weight="normal" stroke="#1a1a1a" stroke-width="0.22" transform="rotate(90 331.20 43.05)" dominant-baseline="central">Race<tspan dy="-2.5" font-size="8" stroke-width="0.45">•</tspan></text>
<line x1="199.65" y1="68.30" x2="199.65" y2="111.90" stroke="#1a1a1a" stroke-width="1.0" />
<line x1="196.25" y1="70.50" x2="199.65" y2="70.50" stroke="#333333" stroke-width="1.1" />
<text x="193.25" y="73.60" font-size="8" text-anchor="end" fill="#222" font-weight="normal" stroke="#222" stroke-width="0.22" >100</text>
<line x1="196.25" y1="89.50" x2="199.65" y2="89.50" stroke="#333333" stroke-width="1.1" />
<text x="193.25" y="92.60" font-size="8" text-anchor="end" fill="#222" font-weight="normal" stroke="#222" stroke-width="0.22" >50</text>
<line x1="196.25" y1="109.50" x2="199.65" y2="109.50" stroke="#333333" stroke-width="1.1" />
<text x="193.25" y="112.60" font-size="8" text-anchor="end" fill="#222" font-weight="normal" stroke="#222" stroke-width="0.22" >0</text>
<line x1="264.00" y1="68.30" x2="264.00" y2="111.90" stroke="#1a1a1a" stroke-width="1.0" />
<line x1="199.15" y1="111.40" x2="260.00" y2="111.40" stroke="#1a1a1a" stroke-width="1.0" />
<line x1="263.50" y1="111.40" x2="324.00" y2="111.40" stroke="#1a1a1a" stroke-width="1.0" />
<rect x="203.50" y="70.15" width="24.50" height="21.48" fill="#c8102e" />
<rect x="203.50" y="91.63" width="24.50" height="17.57" fill="#3cb44b" />
<text x="215.75" y="83.95" font-size="8" text-anchor="middle" fill="#ffffff" font-weight="normal" stroke="#ffffff" stroke-width="0.04" >55%</text>
<text x="215.75" y="104.25" font-size="8" text-anchor="middle" fill="#111111" font-weight="normal" stroke="#111111" stroke-width="0.1" >45%</text>
<rect x="231.20" y="70.15" width="24.80" height="22.65" fill="#c8102e" />
<rect x="231.20" y="92.80" width="24.80" height="16.40" fill="#3cb44b" />
<text x="243.60" y="83.95" font-size="8" text-anchor="middle" fill="#ffffff" font-weight="normal" stroke="#ffffff" stroke-width="0.04" >58%</text>
<text x="243.60" y="104.25" font-size="8" text-anchor="middle" fill="#111111" font-weight="normal" stroke="#111111" stroke-width="0.1" >42%</text>
<rect x="267.80" y="70.15" width="24.60" height="21.48" fill="#c8102e" />
<rect x="267.80" y="91.63" width="24.60" height="17.57" fill="#3cb44b" />
<text x="280.10" y="83.95" font-size="8" text-anchor="middle" fill="#ffffff" font-weight="normal" stroke="#ffffff" stroke-width="0.04" >55%</text>
<text x="280.10" y="104.25" font-size="8" text-anchor="middle" fill="#111111" font-weight="normal" stroke="#111111" stroke-width="0.1" >45%</text>
<rect x="295.60" y="70.15" width="24.50" height="21.87" fill="#c8102e" />
<rect x="295.60" y="92.02" width="24.50" height="17.18" fill="#3cb44b" />
<text x="307.85" y="83.95" font-size="8" text-anchor="middle" fill="#ffffff" font-weight="normal" stroke="#ffffff" stroke-width="0.04" >56%</text>
<text x="307.85" y="104.25" font-size="8" text-anchor="middle" fill="#111111" font-weight="normal" stroke="#111111" stroke-width="0.1" >44%</text>
<rect x="324.30" y="68.30" width="13.80" height="43.50" fill="#c5d5e1" />
<text x="331.20" y="90.05" font-size="9" text-anchor="middle" fill="#1a1a1a" font-weight="normal" stroke="#1a1a1a" stroke-width="0.22" transform="rotate(90 331.20 90.05)" dominant-baseline="central">Gender</text>
<line x1="199.65" y1="115.30" x2="199.65" y2="158.90" stroke="#1a1a1a" stroke-width="1.0" />
<line x1="196.25" y1="117.50" x2="199.65" y2="117.50" stroke="#333333" stroke-width="1.1" />
<text x="193.25" y="120.60" font-size="8" text-anchor="end" fill="#222" font-weight="normal" stroke="#222" stroke-width="0.22" >100</text>
<line x1="196.25" y1="136.50" x2="199.65" y2="136.50" stroke="#333333" stroke-width="1.1" />
<text x="193.25" y="139.60" font-size="8" text-anchor="end" fill="#222" font-weight="normal" stroke="#222" stroke-width="0.22" >50</text>
<line x1="196.25" y1="156.50" x2="199.65" y2="156.50" stroke="#333333" stroke-width="1.1" />
<text x="193.25" y="159.60" font-size="8" text-anchor="end" fill="#222" font-weight="normal" stroke="#222" stroke-width="0.22" >0</text>
<line x1="264.00" y1="115.30" x2="264.00" y2="158.90" stroke="#1a1a1a" stroke-width="1.0" />
<line x1="199.15" y1="158.40" x2="260.00" y2="158.40" stroke="#1a1a1a" stroke-width="1.0" />
<line x1="263.50" y1="158.40" x2="324.00" y2="158.40" stroke="#1a1a1a" stroke-width="1.0" />
<rect x="203.50" y="117.10" width="24.50" height="4.34" fill="#c8102e" />
<rect x="203.50" y="121.44" width="24.50" height="35.16" fill="#3cb44b" />
<text x="215.75" y="123.35" font-size="8" text-anchor="middle" fill="#ffffff" font-weight="normal" stroke="#ffffff" stroke-width="0.04" >11%</text>
<text x="215.75" y="142.25" font-size="8" text-anchor="middle" fill="#111111" font-weight="normal" stroke="#111111" stroke-width="0.1" >89%</text>
<rect x="231.20" y="117.10" width="24.80" height="7.90" fill="#c8102e" />
<rect x="231.20" y="125.00" width="24.80" height="31.60" fill="#3cb44b" />
<text x="243.60" y="123.35" font-size="8" text-anchor="middle" fill="#ffffff" font-weight="normal" stroke="#ffffff" stroke-width="0.04" >20%</text>
<text x="243.60" y="142.25" font-size="8" text-anchor="middle" fill="#111111" font-weight="normal" stroke="#111111" stroke-width="0.1" >80%</text>
<rect x="267.80" y="117.10" width="24.60" height="4.34" fill="#c8102e" />
<rect x="267.80" y="121.44" width="24.60" height="35.16" fill="#3cb44b" />
<text x="280.10" y="123.35" font-size="8" text-anchor="middle" fill="#ffffff" font-weight="normal" stroke="#ffffff" stroke-width="0.04" >10%</text>
<text x="280.10" y="142.25" font-size="8" text-anchor="middle" fill="#111111" font-weight="normal" stroke="#111111" stroke-width="0.1" >90%</text>
<rect x="295.60" y="117.10" width="24.50" height="4.34" fill="#c8102e" />
<rect x="295.60" y="121.44" width="24.50" height="35.16" fill="#3cb44b" />
<text x="307.85" y="123.35" font-size="8" text-anchor="middle" fill="#ffffff" font-weight="normal" stroke="#ffffff" stroke-width="0.04" >11%</text>
<text x="307.85" y="142.25" font-size="8" text-anchor="middle" fill="#111111" font-weight="normal" stroke="#111111" stroke-width="0.1" >89%</text>
<rect x="324.30" y="115.30" width="13.80" height="43.50" fill="#ecc3cb" />
<text x="331.20" y="137.05" font-size="9" text-anchor="middle" fill="#1a1a1a" font-weight="normal" stroke="#1a1a1a" stroke-width="0.22" transform="rotate(90 331.20 137.05)" dominant-baseline="central" textLength="42.4" lengthAdjust="spacingAndGlyphs">Year BMT<tspan dy="-2.5" font-size="8" stroke-width="0.45">•</tspan></text>
<line x1="199.65" y1="162.30" x2="199.65" y2="205.90" stroke="#1a1a1a" stroke-width="1.0" />
<line x1="196.25" y1="164.50" x2="199.65" y2="164.50" stroke="#333333" stroke-width="1.1" />
<text x="193.25" y="167.60" font-size="8" text-anchor="end" fill="#222" font-weight="normal" stroke="#222" stroke-width="0.22" >100</text>
<line x1="196.25" y1="183.50" x2="199.65" y2="183.50" stroke="#333333" stroke-width="1.1" />
<text x="193.25" y="186.60" font-size="8" text-anchor="end" fill="#222" font-weight="normal" stroke="#222" stroke-width="0.22" >50</text>
<line x1="196.25" y1="203.50" x2="199.65" y2="203.50" stroke="#333333" stroke-width="1.1" />
<text x="193.25" y="206.60" font-size="8" text-anchor="end" fill="#222" font-weight="normal" stroke="#222" stroke-width="0.22" >0</text>
<line x1="264.00" y1="162.30" x2="264.00" y2="205.90" stroke="#1a1a1a" stroke-width="1.0" />
<line x1="199.15" y1="205.40" x2="260.00" y2="205.40" stroke="#1a1a1a" stroke-width="1.0" />
<line x1="263.50" y1="205.40" x2="324.00" y2="205.40" stroke="#1a1a1a" stroke-width="1.0" />
<rect x="203.50" y="164.20" width="24.50" height="8.08" fill="#c8102e" />
<rect x="203.50" y="172.28" width="24.50" height="22.06" fill="#3cb44b" />
<rect x="203.50" y="194.34" width="24.50" height="9.26" fill="#17578c" />
<text x="215.75" y="171.15" font-size="8" text-anchor="middle" fill="#ffffff" font-weight="normal" stroke="#ffffff" stroke-width="0.04" >20%</text>
<text x="215.75" y="186.55" font-size="8" text-anchor="middle" fill="#111111" font-weight="normal" stroke="#111111" stroke-width="0.1" >56%</text>
<text x="215.75" y="202.85" font-size="8" text-anchor="middle" fill="#ffffff" font-weight="normal" stroke="#ffffff" stroke-width="0.04" >24%</text>
<rect x="231.20" y="164.20" width="24.80" height="9.46" fill="#c8102e" />
<rect x="231.20" y="173.66" width="24.80" height="22.85" fill="#3cb44b" />
<rect x="231.20" y="196.51" width="24.80" height="7.09" fill="#17578c" />
<text x="243.60" y="171.15" font-size="8" text-anchor="middle" fill="#ffffff" font-weight="normal" stroke="#ffffff" stroke-width="0.04" >24%</text>
<text x="243.60" y="186.55" font-size="8" text-anchor="middle" fill="#111111" font-weight="normal" stroke="#111111" stroke-width="0.1" >58%</text>
<text x="243.60" y="202.85" font-size="8" text-anchor="middle" fill="#ffffff" font-weight="normal" stroke="#ffffff" stroke-width="0.04" >19%</text>
<rect x="267.80" y="164.20" width="24.60" height="9.06" fill="#c8102e" />
<rect x="267.80" y="173.26" width="24.60" height="21.28" fill="#3cb44b" />
<rect x="267.80" y="194.54" width="24.60" height="9.06" fill="#17578c" />
<text x="280.10" y="171.15" font-size="8" text-anchor="middle" fill="#ffffff" font-weight="normal" stroke="#ffffff" stroke-width="0.04" >22%</text>
<text x="280.10" y="186.55" font-size="8" text-anchor="middle" fill="#111111" font-weight="normal" stroke="#111111" stroke-width="0.1" >54%</text>
<text x="280.10" y="202.85" font-size="8" text-anchor="middle" fill="#ffffff" font-weight="normal" stroke="#ffffff" stroke-width="0.04" >23%</text>
<rect x="295.60" y="164.20" width="24.50" height="9.46" fill="#c8102e" />
<rect x="295.60" y="173.66" width="24.50" height="21.67" fill="#3cb44b" />
<rect x="295.60" y="195.33" width="24.50" height="8.27" fill="#17578c" />
<text x="307.85" y="171.15" font-size="8" text-anchor="middle" fill="#ffffff" font-weight="normal" stroke="#ffffff" stroke-width="0.04" >24%</text>
<text x="307.85" y="186.55" font-size="8" text-anchor="middle" fill="#111111" font-weight="normal" stroke="#111111" stroke-width="0.1" >54%</text>
<text x="307.85" y="202.85" font-size="8" text-anchor="middle" fill="#ffffff" font-weight="normal" stroke="#ffffff" stroke-width="0.04" >21%</text>
<rect x="324.30" y="162.30" width="13.80" height="43.50" fill="#c5d5e1" />
<text x="331.20" y="184.05" font-size="9" text-anchor="middle" fill="#1a1a1a" font-weight="normal" stroke="#1a1a1a" stroke-width="0.22" transform="rotate(90 331.20 184.05)" dominant-baseline="central">Disease</text>
<line x1="199.65" y1="209.30" x2="199.65" y2="252.90" stroke="#1a1a1a" stroke-width="1.0" />
<line x1="196.25" y1="211.50" x2="199.65" y2="211.50" stroke="#333333" stroke-width="1.1" />
<text x="193.25" y="214.60" font-size="8" text-anchor="end" fill="#222" font-weight="normal" stroke="#222" stroke-width="0.22" >100</text>
<line x1="196.25" y1="230.50" x2="199.65" y2="230.50" stroke="#333333" stroke-width="1.1" />
<text x="193.25" y="233.60" font-size="8" text-anchor="end" fill="#222" font-weight="normal" stroke="#222" stroke-width="0.22" >50</text>
<line x1="196.25" y1="250.50" x2="199.65" y2="250.50" stroke="#333333" stroke-width="1.1" />
<text x="193.25" y="253.60" font-size="8" text-anchor="end" fill="#222" font-weight="normal" stroke="#222" stroke-width="0.22" >0</text>
<line x1="264.00" y1="209.30" x2="264.00" y2="252.90" stroke="#1a1a1a" stroke-width="1.0" />
<line x1="199.15" y1="252.40" x2="260.00" y2="252.40" stroke="#1a1a1a" stroke-width="1.0" />
<line x1="263.50" y1="252.40" x2="324.00" y2="252.40" stroke="#1a1a1a" stroke-width="1.0" />
<rect x="203.50" y="211.20" width="24.50" height="26.47" fill="#c8102e" />
<rect x="203.50" y="237.66" width="24.50" height="13.03" fill="#3cb44b" />
<text x="215.75" y="224.95" font-size="8" text-anchor="middle" fill="#ffffff" font-weight="normal" stroke="#ffffff" stroke-width="0.04" >66%</text>
<text x="215.75" y="246.55" font-size="8" text-anchor="middle" fill="#111111" font-weight="normal" stroke="#111111" stroke-width="0.1" >34%</text>
<rect x="231.20" y="211.20" width="24.80" height="23.70" fill="#c8102e" />
<rect x="231.20" y="234.90" width="24.80" height="15.80" fill="#3cb44b" />
<text x="243.60" y="224.95" font-size="8" text-anchor="middle" fill="#ffffff" font-weight="normal" stroke="#ffffff" stroke-width="0.04" >59%</text>
<text x="243.60" y="246.55" font-size="8" text-anchor="middle" fill="#111111" font-weight="normal" stroke="#111111" stroke-width="0.1" >41%</text>
<rect x="267.80" y="211.20" width="24.60" height="22.51" fill="#c8102e" />
<rect x="267.80" y="233.71" width="24.60" height="16.99" fill="#3cb44b" />
<text x="280.10" y="224.95" font-size="8" text-anchor="middle" fill="#ffffff" font-weight="normal" stroke="#ffffff" stroke-width="0.04" >57%</text>
<text x="280.10" y="246.55" font-size="8" text-anchor="middle" fill="#111111" font-weight="normal" stroke="#111111" stroke-width="0.1" >43%</text>
<rect x="295.60" y="211.20" width="24.50" height="21.72" fill="#c8102e" />
<rect x="295.60" y="232.92" width="24.50" height="17.78" fill="#3cb44b" />
<text x="307.85" y="224.95" font-size="8" text-anchor="middle" fill="#ffffff" font-weight="normal" stroke="#ffffff" stroke-width="0.04" >54%</text>
<text x="307.85" y="246.55" font-size="8" text-anchor="middle" fill="#111111" font-weight="normal" stroke="#111111" stroke-width="0.1" >46%</text>
<rect x="324.30" y="209.30" width="13.80" height="43.50" fill="#ecc3cb" />
<text x="331.20" y="231.05" font-size="9" text-anchor="middle" fill="#1a1a1a" font-weight="normal" stroke="#1a1a1a" stroke-width="0.22" transform="rotate(90 331.20 231.05)" dominant-baseline="central" textLength="40.5" lengthAdjust="spacingAndGlyphs">Condition<tspan dy="-2.5" font-size="8" stroke-width="0.45">•</tspan></text>
<line x1="199.65" y1="256.30" x2="199.65" y2="299.90" stroke="#1a1a1a" stroke-width="1.0" />
<line x1="196.25" y1="258.50" x2="199.65" y2="258.50" stroke="#333333" stroke-width="1.1" />
<text x="193.25" y="261.60" font-size="8" text-anchor="end" fill="#222" font-weight="normal" stroke="#222" stroke-width="0.22" >100</text>
<line x1="196.25" y1="278.50" x2="199.65" y2="278.50" stroke="#333333" stroke-width="1.1" />
<text x="193.25" y="281.60" font-size="8" text-anchor="end" fill="#222" font-weight="normal" stroke="#222" stroke-width="0.22" >50</text>
<line x1="196.25" y1="297.50" x2="199.65" y2="297.50" stroke="#333333" stroke-width="1.1" />
<text x="193.25" y="300.60" font-size="8" text-anchor="end" fill="#222" font-weight="normal" stroke="#222" stroke-width="0.22" >0</text>
<line x1="264.00" y1="256.30" x2="264.00" y2="299.90" stroke="#1a1a1a" stroke-width="1.0" />
<line x1="199.15" y1="299.40" x2="260.00" y2="299.40" stroke="#1a1a1a" stroke-width="1.0" />
<line x1="263.50" y1="299.40" x2="324.00" y2="299.40" stroke="#1a1a1a" stroke-width="1.0" />
<rect x="203.50" y="258.40" width="24.50" height="22.51" fill="#c8102e" />
<rect x="203.50" y="280.91" width="24.50" height="16.99" fill="#3cb44b" />
<text x="215.75" y="266.25" font-size="8" text-anchor="middle" fill="#ffffff" font-weight="normal" stroke="#ffffff" stroke-width="0.04" >57%</text>
<text x="215.75" y="292.55" font-size="8" text-anchor="middle" fill="#111111" font-weight="normal" stroke="#111111" stroke-width="0.1" >43%</text>
<rect x="231.20" y="258.40" width="24.80" height="9.88" fill="#c8102e" />
<rect x="231.20" y="268.27" width="24.80" height="29.62" fill="#3cb44b" />
<text x="243.60" y="266.25" font-size="8" text-anchor="middle" fill="#ffffff" font-weight="normal" stroke="#ffffff" stroke-width="0.04" >24%</text>
<text x="243.60" y="292.55" font-size="8" text-anchor="middle" fill="#111111" font-weight="normal" stroke="#111111" stroke-width="0.1" >76%</text>
<rect x="267.80" y="258.40" width="24.60" height="17.77" fill="#c8102e" />
<rect x="267.80" y="276.17" width="24.60" height="21.73" fill="#3cb44b" />
<text x="280.10" y="266.25" font-size="8" text-anchor="middle" fill="#ffffff" font-weight="normal" stroke="#ffffff" stroke-width="0.04" >45%</text>
<text x="280.10" y="292.55" font-size="8" text-anchor="middle" fill="#111111" font-weight="normal" stroke="#111111" stroke-width="0.1" >55%</text>
<rect x="295.60" y="258.40" width="24.50" height="15.01" fill="#c8102e" />
<rect x="295.60" y="273.41" width="24.50" height="24.49" fill="#3cb44b" />
<text x="307.85" y="266.25" font-size="8" text-anchor="middle" fill="#ffffff" font-weight="normal" stroke="#ffffff" stroke-width="0.04" >38%</text>
<text x="307.85" y="292.55" font-size="8" text-anchor="middle" fill="#111111" font-weight="normal" stroke="#111111" stroke-width="0.1" >62%</text>
<rect x="324.30" y="256.30" width="13.80" height="43.50" fill="#ecc3cb" />
<text x="331.20" y="278.05" font-size="9" text-anchor="middle" fill="#1a1a1a" font-weight="normal" stroke="#1a1a1a" stroke-width="0.22" transform="rotate(90 331.20 278.05)" dominant-baseline="central">TBI<tspan dy="-2.5" font-size="8" stroke-width="0.45">•</tspan></text>
<line x1="215.75" y1="299.40" x2="215.75" y2="302.80" stroke="#333333" stroke-width="1.1" />
<text x="215.75" y="312.10" font-size="8" text-anchor="middle" fill="#222" font-weight="normal" stroke="#222" stroke-width="0.22" >MUD</text>
<line x1="243.60" y1="299.40" x2="243.60" y2="302.80" stroke="#333333" stroke-width="1.1" />
<text x="243.60" y="312.10" font-size="8" text-anchor="middle" fill="#222" font-weight="normal" stroke="#222" stroke-width="0.22" >Haplo</text>
<line x1="280.10" y1="299.40" x2="280.10" y2="302.80" stroke="#333333" stroke-width="1.1" />
<text x="280.10" y="312.10" font-size="8" text-anchor="middle" fill="#222" font-weight="normal" stroke="#222" stroke-width="0.22" >MUD</text>
<line x1="307.85" y1="299.40" x2="307.85" y2="302.80" stroke="#333333" stroke-width="1.1" />
<text x="307.85" y="312.10" font-size="8" text-anchor="middle" fill="#222" font-weight="normal" stroke="#222" stroke-width="0.22" >Haplo</text>
<rect x="374.20" y="7.00" width="60.30" height="13.30" fill="#c5d5e1" />
<rect x="438.80" y="7.00" width="60.10" height="13.30" fill="#c5d5e1" />
<text x="405.15" y="17.20" font-size="9" text-anchor="middle" fill="#1a1a1a" font-weight="normal" stroke="#1a1a1a" stroke-width="0.22" >Raw</text>
<text x="469.35" y="17.20" font-size="9" text-anchor="middle" fill="#1a1a1a" font-weight="normal" stroke="#1a1a1a" stroke-width="0.22" >Matched</text>
<line x1="374.40" y1="21.30" x2="374.40" y2="73.90" stroke="#1a1a1a" stroke-width="1.0" />
<line x1="371.00" y1="23.50" x2="374.40" y2="23.50" stroke="#333333" stroke-width="1.1" />
<text x="368.00" y="26.60" font-size="8" text-anchor="end" fill="#222" font-weight="normal" stroke="#222" stroke-width="0.22" >100</text>
<line x1="371.00" y1="47.50" x2="374.40" y2="47.50" stroke="#333333" stroke-width="1.1" />
<text x="368.00" y="50.60" font-size="8" text-anchor="end" fill="#222" font-weight="normal" stroke="#222" stroke-width="0.22" >50</text>
<line x1="371.00" y1="71.50" x2="374.40" y2="71.50" stroke="#333333" stroke-width="1.1" />
<text x="368.00" y="74.60" font-size="8" text-anchor="end" fill="#222" font-weight="normal" stroke="#222" stroke-width="0.22" >0</text>
<line x1="438.80" y1="21.30" x2="438.80" y2="73.90" stroke="#1a1a1a" stroke-width="1.0" />
<line x1="373.90" y1="73.40" x2="434.50" y2="73.40" stroke="#1a1a1a" stroke-width="1.0" />
<line x1="438.30" y1="73.40" x2="498.90" y2="73.40" stroke="#1a1a1a" stroke-width="1.0" />
<rect x="377.90" y="23.40" width="25.10" height="7.41" fill="#c8102e" />
<rect x="377.90" y="30.81" width="25.10" height="40.39" fill="#5c2670" />
<text x="390.45" y="29.95" font-size="8" text-anchor="middle" fill="#ffffff" font-weight="normal" stroke="#ffffff" stroke-width="0.04" >15%</text>
<text x="390.45" y="59.15" font-size="8" text-anchor="middle" fill="#ffffff" font-weight="normal" stroke="#ffffff" stroke-width="0.04" >85%</text>
<rect x="406.20" y="23.40" width="24.20" height="17.69" fill="#c8102e" />
<rect x="406.20" y="41.09" width="24.20" height="30.11" fill="#5c2670" />
<text x="418.30" y="29.95" font-size="8" text-anchor="middle" fill="#ffffff" font-weight="normal" stroke="#ffffff" stroke-width="0.04" >37%</text>
<text x="418.30" y="59.15" font-size="8" text-anchor="middle" fill="#ffffff" font-weight="normal" stroke="#ffffff" stroke-width="0.04" >63%</text>
<rect x="442.50" y="23.40" width="24.50" height="7.65" fill="#c8102e" />
<rect x="442.50" y="31.05" width="24.50" height="40.15" fill="#5c2670" />
<text x="454.75" y="29.95" font-size="8" text-anchor="middle" fill="#ffffff" font-weight="normal" stroke="#ffffff" stroke-width="0.04" >16%</text>
<text x="454.75" y="59.15" font-size="8" text-anchor="middle" fill="#ffffff" font-weight="normal" stroke="#ffffff" stroke-width="0.04" >84%</text>
<rect x="470.40" y="23.40" width="24.40" height="8.13" fill="#c8102e" />
<rect x="470.40" y="31.53" width="24.40" height="39.67" fill="#5c2670" />
<text x="482.60" y="29.95" font-size="8" text-anchor="middle" fill="#ffffff" font-weight="normal" stroke="#ffffff" stroke-width="0.04" >17%</text>
<text x="482.60" y="59.15" font-size="8" text-anchor="middle" fill="#ffffff" font-weight="normal" stroke="#ffffff" stroke-width="0.04" >83%</text>
<rect x="499.30" y="21.30" width="13.90" height="52.50" fill="#ecc3cb" />
<text x="506.25" y="47.15" font-size="9" text-anchor="middle" fill="#1a1a1a" font-weight="normal" stroke="#1a1a1a" stroke-width="0.22" transform="rotate(90 506.25 47.15)" dominant-baseline="central">BM/PB<tspan dy="-2.5" font-size="8" stroke-width="0.45">•</tspan></text>
<line x1="374.40" y1="77.80" x2="374.40" y2="130.40" stroke="#1a1a1a" stroke-width="1.0" />
<line x1="371.00" y1="80.50" x2="374.40" y2="80.50" stroke="#333333" stroke-width="1.1" />
<text x="368.00" y="83.60" font-size="8" text-anchor="end" fill="#222" font-weight="normal" stroke="#222" stroke-width="0.22" >100</text>
<line x1="371.00" y1="103.50" x2="374.40" y2="103.50" stroke="#333333" stroke-width="1.1" />
<text x="368.00" y="106.60" font-size="8" text-anchor="end" fill="#222" font-weight="normal" stroke="#222" stroke-width="0.22" >50</text>
<line x1="371.00" y1="127.50" x2="374.40" y2="127.50" stroke="#333333" stroke-width="1.1" />
<text x="368.00" y="130.60" font-size="8" text-anchor="end" fill="#222" font-weight="normal" stroke="#222" stroke-width="0.22" >0</text>
<line x1="438.80" y1="77.80" x2="438.80" y2="130.40" stroke="#1a1a1a" stroke-width="1.0" />
<line x1="373.90" y1="129.90" x2="434.50" y2="129.90" stroke="#1a1a1a" stroke-width="1.0" />
<line x1="438.30" y1="129.90" x2="498.90" y2="129.90" stroke="#1a1a1a" stroke-width="1.0" />
<rect x="377.90" y="80.10" width="25.10" height="22.90" fill="#c8102e" />
<rect x="377.90" y="103.00" width="25.10" height="24.80" fill="#5c2670" />
<text x="390.45" y="93.35" font-size="8" text-anchor="middle" fill="#ffffff" font-weight="normal" stroke="#ffffff" stroke-width="0.04" >48%</text>
<text x="390.45" y="118.05" font-size="8" text-anchor="middle" fill="#ffffff" font-weight="normal" stroke="#ffffff" stroke-width="0.04" >52%</text>
<rect x="406.20" y="80.10" width="24.20" height="24.80" fill="#c8102e" />
<rect x="406.20" y="104.90" width="24.20" height="22.90" fill="#5c2670" />
<text x="418.30" y="93.35" font-size="8" text-anchor="middle" fill="#ffffff" font-weight="normal" stroke="#ffffff" stroke-width="0.04" >52%</text>
<text x="418.30" y="118.05" font-size="8" text-anchor="middle" fill="#ffffff" font-weight="normal" stroke="#ffffff" stroke-width="0.04" >48%</text>
<rect x="442.50" y="80.10" width="24.50" height="20.99" fill="#c8102e" />
<rect x="442.50" y="101.09" width="24.50" height="26.71" fill="#5c2670" />
<text x="454.75" y="93.35" font-size="8" text-anchor="middle" fill="#ffffff" font-weight="normal" stroke="#ffffff" stroke-width="0.04" >44%</text>
<text x="454.75" y="118.05" font-size="8" text-anchor="middle" fill="#ffffff" font-weight="normal" stroke="#ffffff" stroke-width="0.04" >56%</text>
<rect x="470.40" y="80.10" width="24.40" height="21.94" fill="#c8102e" />
<rect x="470.40" y="102.04" width="24.40" height="25.76" fill="#5c2670" />
<text x="482.60" y="93.35" font-size="8" text-anchor="middle" fill="#ffffff" font-weight="normal" stroke="#ffffff" stroke-width="0.04" >46%</text>
<text x="482.60" y="118.05" font-size="8" text-anchor="middle" fill="#ffffff" font-weight="normal" stroke="#ffffff" stroke-width="0.04" >54%</text>
<rect x="499.30" y="77.80" width="13.90" height="52.50" fill="#c5d5e1" />
<text x="506.25" y="103.75" font-size="9" text-anchor="middle" fill="#1a1a1a" font-weight="normal" stroke="#1a1a1a" stroke-width="0.22" transform="rotate(90 506.25 103.75)" dominant-baseline="central">HCT</text>
<line x1="374.40" y1="134.30" x2="374.40" y2="186.90" stroke="#1a1a1a" stroke-width="1.0" />
<line x1="371.00" y1="136.50" x2="374.40" y2="136.50" stroke="#333333" stroke-width="1.1" />
<text x="368.00" y="139.60" font-size="8" text-anchor="end" fill="#222" font-weight="normal" stroke="#222" stroke-width="0.22" >100</text>
<line x1="371.00" y1="160.50" x2="374.40" y2="160.50" stroke="#333333" stroke-width="1.1" />
<text x="368.00" y="163.60" font-size="8" text-anchor="end" fill="#222" font-weight="normal" stroke="#222" stroke-width="0.22" >50</text>
<line x1="371.00" y1="183.50" x2="374.40" y2="183.50" stroke="#333333" stroke-width="1.1" />
<text x="368.00" y="186.60" font-size="8" text-anchor="end" fill="#222" font-weight="normal" stroke="#222" stroke-width="0.22" >0</text>
<line x1="438.80" y1="134.30" x2="438.80" y2="186.90" stroke="#1a1a1a" stroke-width="1.0" />
<line x1="373.90" y1="186.40" x2="434.50" y2="186.40" stroke="#1a1a1a" stroke-width="1.0" />
<line x1="438.30" y1="186.40" x2="498.90" y2="186.40" stroke="#1a1a1a" stroke-width="1.0" />
<rect x="377.90" y="136.30" width="25.10" height="28.80" fill="#c8102e" />
<rect x="377.90" y="165.10" width="25.10" height="18.09" fill="#5c2670" />
<rect x="377.90" y="183.19" width="25.10" height="0.71" fill="#3a1146" />
<text x="390.45" y="152.15" font-size="8" text-anchor="middle" fill="#ffffff" font-weight="normal" stroke="#ffffff" stroke-width="0.04" >59%</text>
<text x="390.45" y="177.85" font-size="8" text-anchor="middle" fill="#ffffff" font-weight="normal" stroke="#ffffff" stroke-width="0.04" >39%</text>
<rect x="406.20" y="136.30" width="24.20" height="26.42" fill="#c8102e" />
<rect x="406.20" y="162.72" width="24.20" height="20.47" fill="#5c2670" />
<rect x="406.20" y="183.19" width="24.20" height="0.71" fill="#3a1146" />
<text x="418.30" y="152.15" font-size="8" text-anchor="middle" fill="#ffffff" font-weight="normal" stroke="#ffffff" stroke-width="0.04" >54%</text>
<text x="418.30" y="177.85" font-size="8" text-anchor="middle" fill="#ffffff" font-weight="normal" stroke="#ffffff" stroke-width="0.04" >44%</text>
<rect x="442.50" y="136.30" width="24.50" height="29.51" fill="#c8102e" />
<rect x="442.50" y="165.81" width="24.50" height="18.09" fill="#5c2670" />
<rect x="442.50" y="183.90" width="24.50" height="0.00" fill="#3a1146" />
<text x="454.75" y="152.15" font-size="8" text-anchor="middle" fill="#ffffff" font-weight="normal" stroke="#ffffff" stroke-width="0.04" >62%</text>
<text x="454.75" y="177.85" font-size="8" text-anchor="middle" fill="#ffffff" font-weight="normal" stroke="#ffffff" stroke-width="0.04" >38%</text>
<rect x="470.40" y="136.30" width="24.40" height="28.56" fill="#c8102e" />
<rect x="470.40" y="164.86" width="24.40" height="19.04" fill="#5c2670" />
<rect x="470.40" y="183.90" width="24.40" height="0.00" fill="#3a1146" />
<text x="482.60" y="152.15" font-size="8" text-anchor="middle" fill="#ffffff" font-weight="normal" stroke="#ffffff" stroke-width="0.04" >60%</text>
<text x="482.60" y="177.85" font-size="8" text-anchor="middle" fill="#ffffff" font-weight="normal" stroke="#ffffff" stroke-width="0.04" >40%</text>
<rect x="499.30" y="134.30" width="13.90" height="52.50" fill="#c5d5e1" />
<text x="506.25" y="160.55" font-size="9" text-anchor="middle" fill="#1a1a1a" font-weight="normal" stroke="#1a1a1a" stroke-width="0.22" transform="rotate(90 506.25 160.55)" dominant-baseline="central">KPS</text>
<line x1="374.40" y1="190.80" x2="374.40" y2="243.40" stroke="#1a1a1a" stroke-width="1.0" />
<line x1="371.00" y1="192.50" x2="374.40" y2="192.50" stroke="#333333" stroke-width="1.1" />
<text x="368.00" y="195.60" font-size="8" text-anchor="end" fill="#222" font-weight="normal" stroke="#222" stroke-width="0.22" >100</text>
<line x1="371.00" y1="216.50" x2="374.40" y2="216.50" stroke="#333333" stroke-width="1.1" />
<text x="368.00" y="219.60" font-size="8" text-anchor="end" fill="#222" font-weight="normal" stroke="#222" stroke-width="0.22" >50</text>
<line x1="371.00" y1="240.50" x2="374.40" y2="240.50" stroke="#333333" stroke-width="1.1" />
<text x="368.00" y="243.60" font-size="8" text-anchor="end" fill="#222" font-weight="normal" stroke="#222" stroke-width="0.22" >0</text>
<line x1="438.80" y1="190.80" x2="438.80" y2="243.40" stroke="#1a1a1a" stroke-width="1.0" />
<line x1="373.90" y1="242.90" x2="434.50" y2="242.90" stroke="#1a1a1a" stroke-width="1.0" />
<line x1="438.30" y1="242.90" x2="498.90" y2="242.90" stroke="#1a1a1a" stroke-width="1.0" />
<rect x="377.90" y="192.90" width="25.10" height="38.08" fill="#c8102e" />
<rect x="377.90" y="230.98" width="25.10" height="9.34" fill="#5c2670" />
<rect x="377.90" y="240.32" width="25.10" height="0.48" fill="#f5a31a" />
<text x="390.45" y="215.05" font-size="8" text-anchor="middle" fill="#ffffff" font-weight="normal" stroke="#ffffff" stroke-width="0.04" >80%</text>
<text x="390.45" y="234.55" font-size="8" text-anchor="middle" fill="#ffffff" font-weight="normal" stroke="#ffffff" stroke-width="0.04" >19%</text>
<text x="390.45" y="240.55" font-size="8" text-anchor="middle" fill="#ffffff" font-weight="normal" stroke="#ffffff" stroke-width="0.04" >1%</text>
<rect x="406.20" y="192.90" width="24.20" height="37.36" fill="#c8102e" />
<rect x="406.20" y="230.26" width="24.20" height="9.10" fill="#5c2670" />
<rect x="406.20" y="239.36" width="24.20" height="1.44" fill="#f5a31a" />
<text x="418.30" y="215.05" font-size="8" text-anchor="middle" fill="#ffffff" font-weight="normal" stroke="#ffffff" stroke-width="0.04" >78%</text>
<text x="418.30" y="234.55" font-size="8" text-anchor="middle" fill="#ffffff" font-weight="normal" stroke="#ffffff" stroke-width="0.04" >19%</text>
<text x="418.30" y="240.55" font-size="8" text-anchor="middle" fill="#ffffff" font-weight="normal" stroke="#ffffff" stroke-width="0.04" >3%</text>
<rect x="442.50" y="192.90" width="24.50" height="38.80" fill="#c8102e" />
<rect x="442.50" y="231.70" width="24.50" height="9.10" fill="#5c2670" />
<rect x="442.50" y="240.80" width="24.50" height="0.00" fill="#f5a31a" />
<text x="454.75" y="214.45" font-size="8" text-anchor="middle" fill="#ffffff" font-weight="normal" stroke="#ffffff" stroke-width="0.04" >81%</text>
<text x="454.75" y="239.95" font-size="8" text-anchor="middle" fill="#ffffff" font-weight="normal" stroke="#ffffff" stroke-width="0.04" >19%</text>
<rect x="470.40" y="192.90" width="24.40" height="39.76" fill="#c8102e" />
<rect x="470.40" y="232.66" width="24.40" height="8.14" fill="#5c2670" />
<rect x="470.40" y="240.80" width="24.40" height="0.00" fill="#f5a31a" />
<text x="482.60" y="214.45" font-size="8" text-anchor="middle" fill="#ffffff" font-weight="normal" stroke="#ffffff" stroke-width="0.04" >83%</text>
<text x="482.60" y="239.95" font-size="8" text-anchor="middle" fill="#ffffff" font-weight="normal" stroke="#ffffff" stroke-width="0.04" >17%</text>
<rect x="499.30" y="190.80" width="13.90" height="52.50" fill="#c5d5e1" />
<text x="506.25" y="217.05" font-size="9" text-anchor="middle" fill="#1a1a1a" font-weight="normal" stroke="#1a1a1a" stroke-width="0.22" transform="rotate(90 506.25 217.05)" dominant-baseline="central">DRI</text>
<line x1="374.40" y1="247.30" x2="374.40" y2="299.90" stroke="#1a1a1a" stroke-width="1.0" />
<line x1="371.00" y1="249.50" x2="374.40" y2="249.50" stroke="#333333" stroke-width="1.1" />
<text x="368.00" y="252.60" font-size="8" text-anchor="end" fill="#222" font-weight="normal" stroke="#222" stroke-width="0.22" >100</text>
<line x1="371.00" y1="273.50" x2="374.40" y2="273.50" stroke="#333333" stroke-width="1.1" />
<text x="368.00" y="276.60" font-size="8" text-anchor="end" fill="#222" font-weight="normal" stroke="#222" stroke-width="0.22" >50</text>
<line x1="371.00" y1="297.50" x2="374.40" y2="297.50" stroke="#333333" stroke-width="1.1" />
<text x="368.00" y="300.60" font-size="8" text-anchor="end" fill="#222" font-weight="normal" stroke="#222" stroke-width="0.22" >0</text>
<line x1="438.80" y1="247.30" x2="438.80" y2="299.90" stroke="#1a1a1a" stroke-width="1.0" />
<line x1="373.90" y1="299.40" x2="434.50" y2="299.40" stroke="#1a1a1a" stroke-width="1.0" />
<line x1="438.30" y1="299.40" x2="498.90" y2="299.40" stroke="#1a1a1a" stroke-width="1.0" />
<rect x="377.90" y="249.60" width="25.10" height="18.88" fill="#c8102e" />
<rect x="377.90" y="268.48" width="25.10" height="28.92" fill="#5c2670" />
<text x="390.45" y="260.05" font-size="8" text-anchor="middle" fill="#ffffff" font-weight="normal" stroke="#ffffff" stroke-width="0.04" >39%</text>
<text x="390.45" y="286.05" font-size="8" text-anchor="middle" fill="#ffffff" font-weight="normal" stroke="#ffffff" stroke-width="0.04" >61%</text>
<rect x="406.20" y="249.60" width="24.20" height="14.82" fill="#c8102e" />
<rect x="406.20" y="264.42" width="24.20" height="32.98" fill="#5c2670" />
<text x="418.30" y="260.05" font-size="8" text-anchor="middle" fill="#ffffff" font-weight="normal" stroke="#ffffff" stroke-width="0.04" >30%</text>
<text x="418.30" y="286.05" font-size="8" text-anchor="middle" fill="#ffffff" font-weight="normal" stroke="#ffffff" stroke-width="0.04" >69%</text>
<rect x="442.50" y="249.60" width="24.50" height="18.88" fill="#c8102e" />
<rect x="442.50" y="268.48" width="24.50" height="28.92" fill="#5c2670" />
<text x="454.75" y="260.05" font-size="8" text-anchor="middle" fill="#ffffff" font-weight="normal" stroke="#ffffff" stroke-width="0.04" >39%</text>
<text x="454.75" y="286.05" font-size="8" text-anchor="middle" fill="#ffffff" font-weight="normal" stroke="#ffffff" stroke-width="0.04" >61%</text>
<rect x="470.40" y="249.60" width="24.40" height="16.25" fill="#c8102e" />
<rect x="470.40" y="265.85" width="24.40" height="31.55" fill="#5c2670" />
<text x="482.60" y="260.05" font-size="8" text-anchor="middle" fill="#ffffff" font-weight="normal" stroke="#ffffff" stroke-width="0.04" >35%</text>
<text x="482.60" y="286.05" font-size="8" text-anchor="middle" fill="#ffffff" font-weight="normal" stroke="#ffffff" stroke-width="0.04" >65%</text>
<rect x="499.30" y="247.30" width="13.90" height="52.50" fill="#ecc3cb" />
<text x="506.25" y="273.25" font-size="9" text-anchor="middle" fill="#1a1a1a" font-weight="normal" stroke="#1a1a1a" stroke-width="0.22" transform="rotate(90 506.25 273.25)" dominant-baseline="central" textLength="48.2" lengthAdjust="spacingAndGlyphs">Recip. CMV<tspan dy="-2.5" font-size="8" stroke-width="0.45">•</tspan></text>
<line x1="390.45" y1="299.40" x2="390.45" y2="302.80" stroke="#333333" stroke-width="1.1" />
<text x="390.45" y="312.10" font-size="8" text-anchor="middle" fill="#222" font-weight="normal" stroke="#222" stroke-width="0.22" >MUD</text>
<line x1="418.30" y1="299.40" x2="418.30" y2="302.80" stroke="#333333" stroke-width="1.1" />
<text x="418.30" y="312.10" font-size="8" text-anchor="middle" fill="#222" font-weight="normal" stroke="#222" stroke-width="0.22" >Haplo</text>
<line x1="454.75" y1="299.40" x2="454.75" y2="302.80" stroke="#333333" stroke-width="1.1" />
<text x="454.75" y="312.10" font-size="8" text-anchor="middle" fill="#222" font-weight="normal" stroke="#222" stroke-width="0.22" >MUD</text>
<line x1="482.60" y1="299.40" x2="482.60" y2="302.80" stroke="#333333" stroke-width="1.1" />
<text x="482.60" y="312.10" font-size="8" text-anchor="middle" fill="#222" font-weight="normal" stroke="#222" stroke-width="0.22" >Haplo</text>
<rect x="0.5" y="0.5" width="519" height="317" fill="none" stroke="#000" stroke-width="1"/>
</svg>
</body></html>
